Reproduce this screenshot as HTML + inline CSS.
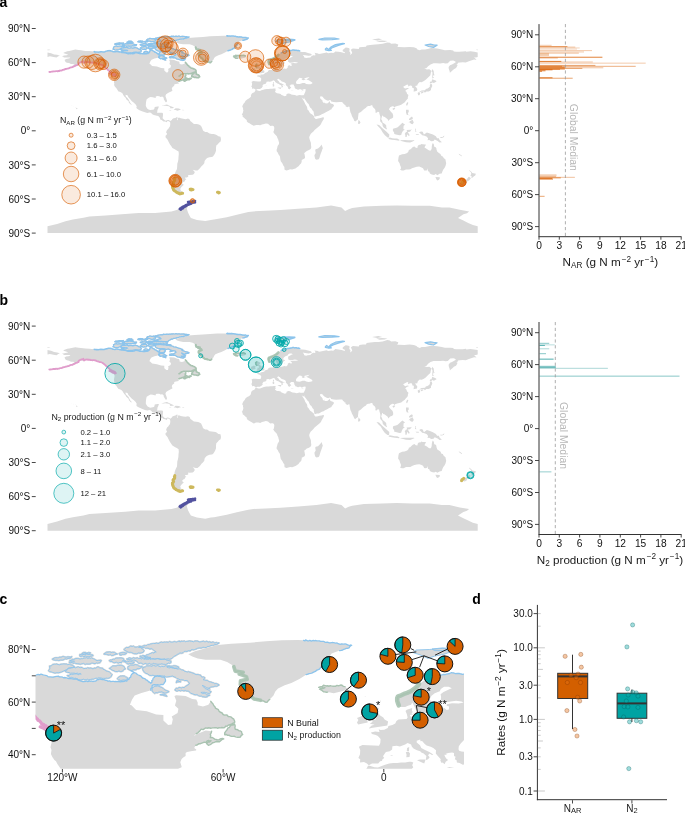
<!DOCTYPE html><html><head><meta charset="utf-8"><style>html,body{margin:0;padding:0;background:#fff;}svg{display:block;-webkit-font-smoothing:antialiased;will-change:transform}</style></head><body><svg width="685" height="813" viewBox="0 0 685 813"><rect width="685" height="813" fill="#fff"/><text x="-0.5" y="7.0" font-size="14.00" text-anchor="start" fill="#000" font-weight="bold" font-family="Liberation Sans, sans-serif" >a</text><text x="-0.5" y="305.4" font-size="14.00" text-anchor="start" fill="#000" font-weight="bold" font-family="Liberation Sans, sans-serif" >b</text><text x="-0.5" y="603.6" font-size="14.00" text-anchor="start" fill="#000" font-weight="bold" font-family="Liberation Sans, sans-serif" >c</text><text x="472.3" y="603.8" font-size="14.00" text-anchor="start" fill="#000" font-weight="bold" font-family="Liberation Sans, sans-serif" >d</text><path d="M61.9,56.2L64.3,55.6L66.7,55.2L68.3,54.8L66.1,54.0L63.3,53.1L64.0,52.5L67.3,51.2L69.2,50.9L75.3,49.6L78.6,50.1L81.0,50.3L85.2,50.9L89.4,51.1L94.2,51.6L97.7,52.1L101.3,51.8L104.9,51.7L109.7,50.6L113.3,51.7L116.9,51.5L121.6,52.4L125.2,52.6L128.8,53.7L133.6,53.5L136.0,52.6L140.8,53.7L145.5,53.7L147.9,53.5L149.7,51.8L150.9,49.5L149.7,49.0L152.7,50.7L156.3,52.6L158.7,54.4L160.5,51.5L164.7,51.7L165.2,53.5L164.1,55.1L159.6,55.2L158.7,57.5L156.9,58.1L154.5,58.6L151.5,59.8L150.3,61.5L149.4,63.7L150.1,64.0L152.1,66.0L156.9,66.6L161.1,67.9L164.3,68.2L164.3,70.6L166.4,72.5L168.0,72.3L168.5,70.0L168.0,68.9L170.6,67.4L171.0,65.4L169.4,64.1L170.0,62.0L169.2,60.0L170.0,59.6L174.2,60.0L177.2,61.2L179.0,61.5L179.6,62.8L179.6,64.0L182.0,64.5L184.4,63.7L185.4,62.3L186.8,64.1L189.1,66.6L190.9,67.9L193.9,68.9L195.7,70.0L196.1,71.5L193.9,72.4L190.9,73.7L186.2,73.7L183.2,73.7L180.8,74.8L179.0,76.2L177.8,77.4L179.6,76.2L183.2,74.9L185.8,75.2L185.2,76.6L185.2,77.9L186.8,78.3L189.1,78.9L190.7,78.3L191.2,78.5L189.7,79.4L186.8,80.1L184.4,81.2L183.5,80.4L185.6,79.3L183.8,79.4L182.3,80.0L180.8,80.6L178.8,81.2L178.0,82.4L179.0,83.1L178.9,83.5L177.2,83.7L174.8,84.2L174.2,84.7L174.2,85.9L173.1,86.6L172.4,87.2L171.8,88.6L172.4,90.4L172.4,90.8L171.2,91.4L169.4,92.3L168.0,93.1L166.1,94.3L165.4,96.1L166.3,98.4L167.0,100.7L166.7,102.0L165.7,102.2L164.9,101.0L163.8,99.2L163.7,97.8L162.3,96.6L160.5,96.9L159.3,96.2L157.5,96.1L155.7,96.5L156.0,97.7L154.5,97.7L152.7,97.2L150.6,97.0L149.1,97.6L146.7,99.2L146.2,101.2L145.9,103.5L145.8,105.8L146.4,107.2L147.6,109.0L149.1,109.7L150.3,110.1L152.7,109.7L153.9,109.4L154.5,108.3L154.7,106.9L157.5,106.4L158.9,106.5L158.2,108.6L157.5,109.8L157.2,112.3L156.8,112.8L159.3,112.8L162.3,112.8L163.1,113.8L162.9,116.0L162.6,118.3L164.7,120.3L165.8,120.7L167.3,120.0L168.8,120.1L170.3,121.1L170.1,122.2L169.2,121.5L167.6,120.7L166.8,122.3L165.2,121.6L163.5,121.4L161.7,119.9L160.2,119.4L160.0,118.0L158.3,116.1L156.9,115.7L153.9,115.0L152.3,114.3L150.9,112.8L149.4,112.4L147.3,113.0L144.9,112.3L141.9,111.2L139.0,110.0L136.8,108.6L136.3,107.5L136.8,106.4L135.7,104.4L133.6,102.4L131.9,101.2L130.0,99.1L128.4,97.3L127.5,95.3L125.5,94.8L125.8,96.6L127.4,98.1L128.6,99.5L129.4,101.2L130.5,103.2L131.8,104.4L131.1,104.8L128.9,102.7L128.6,101.2L126.2,99.2L125.8,98.1L124.3,96.4L123.1,94.7L122.6,93.6L121.3,92.4L119.8,91.7L118.5,91.5L117.0,89.3L116.4,88.2L115.7,87.6L114.8,86.5L114.1,85.0L114.3,83.3L113.9,82.2L114.3,80.2L114.6,78.3L114.2,76.8L113.6,75.8L115.5,76.0L115.9,75.1L115.4,74.8L113.9,73.7L111.5,72.8L109.9,71.9L109.1,70.8L107.3,69.2L106.7,68.5L105.5,67.7L103.7,66.2L101.9,64.9L99.5,64.3L98.0,63.7L95.9,62.9L93.6,62.6L91.2,62.6L88.2,61.9L85.8,62.0L84.0,62.9L81.4,63.5L81.7,61.8L83.4,61.2L80.6,62.3L78.6,63.3L78.6,64.4L76.2,65.3L73.8,66.5L71.7,67.3L69.7,67.9L67.9,68.5L65.7,69.0L67.3,68.2L69.3,67.3L71.4,66.7L73.4,65.7L74.4,64.4L72.8,64.1L70.9,64.1L69.1,63.1L66.9,62.7L65.5,61.9L65.1,61.1L64.5,59.9L66.1,59.0L68.5,58.6L70.3,57.9L70.0,57.5L67.9,57.4L65.6,57.5L63.9,57.4L63.3,56.7ZM115.3,75.8L113.3,75.3L109.3,73.3L110.3,72.9L113.3,73.7L114.7,74.8ZM191.7,75.9L192.7,74.5L194.5,72.5L196.1,72.1L196.3,74.3L198.7,75.1L199.7,76.7L198.7,77.7L196.0,77.4L191.7,76.7ZM161.2,105.9L164.7,105.0L167.0,104.5L170.0,106.0L172.2,106.8L174.1,107.8L172.4,108.2L169.8,108.3L170.4,107.3L168.8,106.2L165.2,105.7L163.5,105.8ZM173.7,109.9L175.6,108.2L179.0,108.4L181.0,109.7L179.6,109.9L177.4,110.7L175.5,110.0ZM169.1,109.9L171.5,110.1L170.9,110.5L169.7,110.5ZM182.3,109.8L184.2,109.9L184.1,110.3L182.3,110.3ZM175.4,41.9L178.4,40.7L183.2,39.3L188.5,37.9L194.5,37.4L202.9,36.9L210.1,36.3L217.2,35.9L224.4,35.8L231.6,36.1L237.5,36.7L243.5,37.5L248.3,38.0L247.1,39.2L242.9,40.3L239.3,41.6L238.1,43.3L236.9,45.0L235.7,46.3L234.0,48.4L230.4,50.1L228.0,50.8L225.0,52.6L221.4,54.3L218.4,55.3L215.4,56.7L214.2,58.1L213.4,59.8L211.7,61.5L210.7,62.6L209.5,62.5L207.7,61.8L204.7,61.2L203.2,60.0L202.3,58.6L200.9,57.7L199.7,56.3L198.6,55.1L198.7,53.4L201.7,52.7L201.3,51.6L198.1,50.4L199.9,49.8L196.3,49.2L195.7,47.9L195.1,46.7L192.7,45.2L189.7,44.3L183.2,44.3L179.6,43.7L177.2,42.9ZM170.1,122.2L170.3,121.1L171.8,120.0L172.4,118.9L173.6,118.3L175.4,118.0L176.6,117.2L177.2,116.7L177.6,118.3L176.8,118.8L177.1,120.3L177.8,120.0L177.6,118.5L178.8,117.6L180.8,118.3L183.2,118.8L185.6,119.2L188.0,118.6L189.7,119.4L190.3,121.1L191.9,122.3L193.9,124.0L196.3,124.1L198.1,124.3L199.9,125.1L201.1,125.9L202.3,128.5L202.9,130.2L203.5,131.0L205.3,131.9L207.1,131.9L209.5,133.6L211.8,134.0L213.6,134.1L215.4,134.4L216.6,135.0L218.4,136.3L220.5,136.7L221.0,139.3L220.6,141.6L219.0,142.7L217.8,144.2L216.3,145.6L216.0,147.9L216.0,150.7L215.2,153.0L214.2,154.7L213.0,156.4L211.8,156.9L209.5,157.2L207.1,158.1L205.9,159.2L204.6,160.9L204.3,163.2L202.9,164.9L201.7,166.0L199.9,168.3L198.7,169.4L197.5,170.4L195.7,170.5L193.9,169.9L192.7,169.7L194.2,171.2L194.8,172.3L193.9,174.0L192.7,174.8L189.7,175.1L188.2,174.9L188.2,176.8L186.8,177.5L185.0,177.4L185.6,178.9L186.4,179.2L185.2,179.9L184.6,181.4L183.2,182.0L182.0,183.4L183.8,184.8L182.6,185.9L181.4,187.1L180.8,188.0L180.2,189.1L180.9,190.4L179.6,190.6L180.7,191.0L181.1,192.5L182.6,193.2L180.8,193.7L179.0,193.5L177.2,192.7L175.4,191.3L173.6,189.9L172.7,187.6L172.4,185.4L173.6,184.0L173.0,182.5L174.4,180.8L174.4,179.1L174.8,178.0L174.4,175.7L174.8,173.8L175.8,171.2L177.0,168.9L177.2,166.0L177.3,163.8L178.0,161.5L178.4,159.2L178.5,156.9L178.8,154.1L178.6,151.6L177.2,150.7L174.8,149.3L172.4,147.9L171.2,146.1L170.0,144.4L168.8,142.2L167.6,139.7L166.4,138.2L165.6,137.5L165.5,135.7L166.7,134.7L167.0,133.6L166.1,132.5L166.4,131.4L167.0,129.9L168.2,128.9L168.8,128.0L170.0,126.3L170.3,124.0ZM180.7,190.6L182.0,191.6L184.6,193.1L182.6,193.7L179.6,193.8L176.6,192.7L178.4,191.6ZM190.2,189.2L192.7,189.2L193.3,189.7L191.9,190.0L190.3,189.9ZM255.9,89.9L255.1,89.2L253.8,88.5L252.0,88.7L252.1,87.3L251.3,86.7L252.0,85.1L252.1,83.3L251.5,81.9L253.1,81.1L255.5,81.2L258.1,81.4L260.5,81.5L261.1,80.2L261.2,78.5L260.0,77.3L259.0,76.8L257.4,76.4L256.9,75.8L258.8,75.3L260.7,75.6L260.4,74.3L261.2,74.6L262.9,74.5L264.4,73.9L264.7,72.9L266.5,72.5L267.8,71.8L268.2,70.8L269.2,70.1L271.0,70.0L272.8,69.9L273.3,69.2L272.9,67.7L272.3,66.5L272.9,65.9L275.3,65.2L275.2,66.6L275.7,66.8L274.8,67.7L274.2,68.3L274.6,68.9L275.8,69.4L277.6,69.0L279.6,69.5L281.8,69.1L284.7,68.5L286.1,69.0L287.8,67.5L287.7,66.2L288.4,65.6L289.6,65.2L290.7,66.0L291.7,65.8L291.8,64.5L290.7,64.2L290.7,63.5L293.1,63.1L296.1,63.2L298.2,62.7L297.3,62.4L294.9,62.0L292.5,62.4L290.0,62.7L288.1,61.7L288.2,60.4L288.0,59.2L289.3,58.3L291.9,57.0L293.0,56.6L291.5,56.0L289.5,56.0L288.1,56.9L287.6,57.9L285.3,58.7L283.9,59.9L283.3,60.9L283.2,61.8L284.7,62.4L285.2,62.9L283.5,64.0L282.3,65.4L282.1,66.4L281.5,67.0L279.7,67.6L278.0,67.8L277.4,66.9L276.7,65.3L275.9,63.7L275.3,62.7L274.8,63.7L273.4,64.2L272.2,64.8L270.5,64.8L269.3,64.1L269.0,63.2L268.6,62.0L268.6,60.8L269.0,60.1L270.4,59.6L271.6,59.1L273.0,58.6L274.6,57.9L276.0,57.0L277.3,56.0L278.4,54.8L280.2,53.6L281.2,52.9L282.8,52.3L284.5,51.5L286.3,51.1L288.4,50.9L290.7,50.4L293.5,50.0L295.5,50.2L297.3,50.4L299.7,50.9L298.7,51.6L302.1,51.9L305.1,52.1L308.0,52.9L310.8,53.7L312.0,54.9L310.7,55.4L308.6,55.8L305.1,55.3L302.7,55.0L303.9,56.3L304.2,57.6L306.2,58.1L307.6,57.7L310.4,57.4L311.1,56.5L313.1,55.2L315.2,55.4L315.4,54.1L314.4,52.8L318.1,53.5L318.8,54.1L320.6,53.8L323.0,53.3L326.6,52.6L328.1,53.3L331.3,52.8L333.1,53.1L334.3,52.4L335.3,51.5L338.5,51.8L341.5,52.3L343.3,52.8L344.5,53.3L345.1,52.4L342.7,51.2L342.7,49.9L344.5,48.4L345.7,47.6L347.5,47.8L349.3,48.3L349.6,49.5L349.3,51.2L350.5,52.9L350.1,54.9L351.7,53.7L352.2,52.9L351.7,51.5L350.8,49.8L352.8,48.5L355.8,48.7L358.8,49.0L359.4,47.3L363.0,46.9L366.0,46.8L366.6,45.6L370.2,44.9L375.0,44.4L378.5,44.3L382.7,43.8L387.3,42.5L389.9,42.8L391.1,43.8L395.3,43.6L398.3,44.6L397.7,46.7L396.5,47.1L398.9,47.1L404.2,47.3L409.6,47.0L413.8,47.3L416.5,48.3L417.4,49.5L419.8,50.3L421.6,49.5L425.1,49.4L428.7,48.7L431.1,48.1L437.1,48.6L441.9,49.5L444.9,50.2L450.2,50.1L453.2,50.4L453.8,51.5L456.2,51.7L459.2,51.7L462.8,51.6L465.8,51.2L466.4,51.8L470.5,51.3L474.1,51.8L477.7,52.5L477.7,56.9L475.9,57.4L474.1,57.3L475.3,58.6L476.5,59.9L474.1,59.6L471.1,60.6L468.2,61.6L465.8,62.6L462.8,62.3L459.8,62.6L458.0,62.8L457.4,64.3L456.2,65.1L457.6,65.1L456.8,66.8L456.0,68.1L453.9,69.2L452.4,70.6L450.8,71.9L449.9,72.8L449.6,71.1L448.8,68.9L448.6,67.1L450.0,65.2L452.0,64.5L454.2,63.2L456.0,62.1L454.4,60.9L453.2,60.6L450.2,60.8L447.8,63.3L445.5,63.6L443.1,63.1L440.1,63.4L436.5,63.3L433.5,63.3L430.5,64.5L428.1,66.2L426.3,68.3L424.2,68.6L426.9,69.4L429.3,69.2L431.6,71.0L430.8,72.8L430.4,75.3L428.1,77.4L425.7,79.8L423.9,81.1L421.6,82.2L419.8,81.9L418.8,82.7L417.6,84.2L417.3,85.6L415.0,85.9L416.2,87.3L417.3,89.0L417.0,90.8L414.4,91.5L413.5,91.6L413.8,90.1L413.9,88.2L412.4,87.9L412.2,86.7L411.6,85.7L410.2,85.6L407.9,86.6L408.3,84.9L407.2,84.4L405.4,85.4L403.6,86.4L403.2,86.9L404.6,88.2L405.4,88.6L407.2,87.9L409.1,88.3L407.8,89.0L406.4,89.7L405.2,91.0L406.4,91.8L407.1,93.9L408.3,94.8L408.3,95.8L407.8,97.3L407.9,98.4L406.7,99.8L405.5,101.2L404.8,102.2L403.0,103.5L401.2,104.8L399.1,105.5L397.1,106.0L395.0,106.7L394.4,107.7L393.8,106.5L392.3,106.2L390.2,107.3L388.9,109.2L389.9,110.6L391.1,112.0L392.6,113.4L393.2,115.5L393.1,117.5L391.7,118.5L390.2,119.0L388.2,121.0L387.9,119.7L387.4,118.9L385.7,117.7L384.9,116.9L383.2,116.4L382.8,115.5L382.1,115.7L381.2,119.2L382.0,120.3L382.6,122.5L383.3,123.0L384.6,123.8L386.2,125.3L386.3,127.6L387.1,129.2L386.3,129.3L385.1,128.5L383.7,127.5L382.7,126.0L382.5,124.5L382.2,123.5L381.8,123.1L380.3,121.4L380.1,120.0L380.4,118.3L380.3,116.6L379.4,113.8L379.1,112.0L377.7,111.7L376.6,112.8L375.3,112.6L375.6,110.9L375.2,109.4L374.4,108.5L373.0,107.3L372.6,106.4L372.3,105.3L370.9,105.3L370.2,105.9L369.0,106.1L368.0,106.1L366.5,106.9L366.0,107.8L364.2,108.9L363.0,110.0L360.9,111.9L359.4,112.8L358.6,113.2L358.3,115.6L358.0,117.7L358.1,119.1L357.0,120.2L356.1,120.7L355.2,121.6L354.2,120.7L353.6,119.1L352.7,117.4L351.9,116.0L351.3,114.1L350.5,112.6L349.9,109.8L349.6,108.3L349.6,106.9L348.9,106.6L347.2,107.3L345.3,105.9L345.9,105.2L344.7,104.9L344.1,104.0L343.2,103.5L342.5,102.5L342.2,101.9L339.7,102.0L336.2,102.2L333.7,101.9L331.2,101.5L330.5,100.1L329.8,99.9L328.1,100.7L326.6,100.2L324.8,99.2L323.5,98.1L322.7,96.8L321.8,96.6L321.1,96.2L320.0,96.8L320.3,98.4L321.4,99.4L322.5,100.6L322.6,101.7L323.3,102.6L323.9,103.0L324.3,101.4L324.3,103.1L325.4,103.3L327.2,103.4L328.6,102.4L329.5,101.5L330.0,100.9L329.9,102.0L330.1,103.0L331.3,103.7L332.8,104.1L334.1,105.2L333.5,106.5L332.5,107.6L331.7,108.4L331.6,109.3L330.3,109.8L328.8,110.7L327.2,111.6L325.0,112.7L323.6,113.6L321.8,114.2L320.6,114.9L318.8,115.8L317.0,116.0L315.4,116.5L314.6,116.4L314.3,115.5L313.8,113.5L313.7,111.7L312.6,110.6L311.4,108.5L310.1,107.5L309.4,106.0L308.6,104.0L307.4,103.0L306.2,101.2L305.2,99.8L304.2,98.6L304.3,97.3L303.6,99.0L302.5,98.3L301.6,96.8L301.2,95.2L303.5,95.2L304.0,94.7L304.5,93.4L305.1,92.3L305.5,91.0L305.6,90.0L305.9,89.2L305.1,89.2L304.0,89.0L302.8,89.7L301.5,89.8L300.0,89.0L299.1,89.4L297.9,89.7L296.4,89.0L295.3,88.7L295.1,87.7L294.3,87.3L294.7,86.2L293.9,85.9L293.9,85.2L293.9,84.7L293.1,84.4L291.3,84.5L290.1,85.0L291.0,85.4L289.6,85.3L290.0,86.2L290.5,87.0L291.3,87.6L290.2,88.4L289.8,89.4L288.9,88.7L288.4,89.0L287.8,87.8L288.1,87.3L287.4,86.6L286.5,85.7L285.8,84.9L285.9,83.4L284.7,82.5L283.5,81.9L281.8,81.4L280.8,80.6L279.7,79.4L279.0,79.5L278.9,78.7L277.3,79.3L277.3,80.1L278.8,81.2L279.4,82.4L280.8,83.2L281.8,83.6L282.9,84.2L284.7,85.2L284.1,85.4L283.1,84.8L282.3,85.6L283.1,86.5L282.5,87.2L281.8,87.6L281.4,87.4L281.6,85.9L281.0,85.3L280.4,84.9L279.4,84.4L278.9,83.9L277.4,83.4L275.9,82.6L275.2,81.9L274.8,80.9L273.3,80.3L272.2,80.9L271.0,81.4L269.8,81.8L268.4,81.5L266.5,81.7L266.3,83.1L265.3,83.9L263.6,84.2L262.6,85.4L262.3,86.0L262.9,86.8L262.0,87.3L261.8,88.1L261.0,88.2L260.1,89.1L257.4,89.1ZM47.5,52.5L51.1,53.2L54.1,54.5L57.1,54.8L59.9,55.7L58.3,56.3L56.5,57.6L53.5,57.1L49.9,56.3L47.5,56.9ZM256.3,90.1L258.4,90.8L260.0,90.9L261.4,90.3L263.2,89.7L265.0,89.2L266.8,89.0L268.6,89.0L270.4,88.7L272.2,88.7L274.0,88.4L274.8,88.4L275.8,88.7L275.3,89.9L275.8,90.8L274.8,91.8L275.8,92.6L277.0,93.3L278.8,93.5L280.7,94.0L281.2,94.7L282.9,95.4L284.7,96.2L286.3,95.7L286.6,94.1L288.3,93.4L290.1,93.7L291.3,94.4L292.5,94.8L294.9,95.1L296.7,95.7L298.5,95.2L299.7,95.0L301.2,95.3L301.6,96.8L302.3,98.7L303.1,99.8L304.0,101.2L304.8,103.0L305.2,104.1L306.2,105.6L306.8,106.4L307.2,107.5L307.4,109.4L308.6,110.6L309.5,112.2L310.2,113.2L311.4,113.9L312.6,114.8L313.5,115.7L314.4,116.7L313.7,117.4L314.4,117.6L315.2,118.8L316.4,118.9L318.0,118.6L319.4,118.2L321.5,117.8L323.0,117.3L323.9,117.4L323.8,118.9L323.0,120.3L321.8,122.3L320.9,124.3L319.7,125.7L318.2,127.0L316.4,128.5L314.6,129.9L313.4,131.4L312.2,132.6L310.8,133.8L310.2,135.0L309.5,136.3L309.2,137.6L309.6,139.3L310.2,141.0L310.9,142.7L311.0,145.0L311.3,147.3L310.7,149.0L309.0,150.1L306.8,150.9L305.5,152.1L304.1,153.2L304.5,154.1L304.8,155.8L305.1,157.5L304.5,158.6L302.7,159.6L301.6,160.1L301.8,160.9L301.2,163.3L299.7,164.7L298.5,166.3L296.7,167.6L295.5,168.5L293.5,169.1L292.3,169.6L290.1,169.3L288.3,169.9L286.5,170.4L285.9,170.2L284.6,169.7L284.4,168.3L284.4,166.9L283.3,165.5L282.3,163.3L280.8,161.3L280.3,159.2L280.0,156.8L279.7,155.9L278.6,154.4L277.7,152.4L276.7,151.3L276.6,149.8L277.2,147.9L277.6,146.1L279.0,143.9L279.1,142.7L278.5,140.8L278.3,139.7L277.3,137.7L277.0,136.5L275.9,135.2L274.6,133.9L273.1,131.7L273.7,131.4L274.1,129.7L274.3,128.0L274.0,126.5L272.8,125.7L271.7,125.7L270.4,125.9L269.3,125.1L268.0,123.8L265.9,123.5L264.1,123.9L262.0,124.5L260.2,125.3L258.4,125.0L256.1,125.0L253.7,125.8L251.3,124.5L249.5,123.3L247.9,122.5L246.9,121.4L246.7,120.0L245.3,118.9L244.1,117.7L242.6,116.7L242.7,115.5L241.7,114.1L242.2,113.9L242.9,112.4L243.4,110.3L242.9,109.0L243.2,108.1L242.3,106.9L242.4,105.9L243.5,103.7L244.7,102.4L245.4,100.9L247.1,99.4L248.9,98.6L250.1,97.6L251.0,96.5L250.9,95.6L251.5,93.9L252.5,92.9L254.4,92.2L255.1,91.0L255.6,90.1ZM321.5,144.4L322.9,148.3L322.4,149.0L321.9,150.7L320.6,154.1L319.4,158.1L318.7,159.3L316.6,159.8L315.2,159.0L314.7,156.9L314.4,155.2L315.7,153.0L315.2,150.1L315.7,149.2L318.0,148.6L319.7,146.9L320.6,145.9ZM399.0,155.6L402.1,154.2L404.6,153.9L407.2,153.0L408.6,151.3L408.8,150.1L410.2,149.6L411.4,148.4L412.8,147.1L414.4,146.5L415.8,147.7L417.4,147.9L417.7,146.1L418.7,144.9L421.1,144.6L421.1,143.9L422.7,144.3L425.0,144.4L426.2,144.8L425.1,146.1L424.5,147.6L426.9,149.0L429.1,150.6L430.9,150.6L431.7,148.4L431.8,146.1L432.3,143.9L432.9,143.0L433.9,144.4L434.2,146.7L435.3,146.9L436.3,147.9L436.5,149.6L437.3,151.8L438.9,153.0L440.4,153.9L441.5,156.1L442.8,156.5L443.7,158.1L445.5,159.6L445.7,160.9L446.2,163.2L445.5,166.0L444.5,168.0L443.3,169.4L442.5,171.2L441.7,173.4L439.5,173.8L437.4,175.2L435.7,174.1L434.1,174.9L431.7,174.4L429.9,173.5L429.3,171.7L428.1,171.3L427.6,169.7L427.4,168.3L426.8,170.4L425.1,170.6L424.2,170.4L423.0,168.2L421.0,167.2L419.2,166.6L416.8,166.8L414.4,167.5L412.0,168.3L410.3,169.3L408.4,169.4L406.0,169.4L403.6,170.6L401.8,170.6L400.0,169.8L400.9,168.7L400.9,166.9L400.0,164.9L399.6,163.2L398.1,160.9L398.3,159.2L398.5,157.5ZM435.4,177.1L439.8,177.3L439.7,178.8L438.6,180.0L437.1,180.4L436.1,178.8ZM469.0,169.9L471.1,171.5L472.3,172.9L475.9,173.7L475.2,175.4L474.0,176.3L472.0,178.1L471.3,177.6L471.7,176.3L470.3,175.5L471.3,174.0L470.9,172.3L469.3,170.8ZM469.0,176.8L470.9,178.2L469.7,179.7L469.0,180.6L467.2,181.4L466.6,183.0L464.9,183.8L461.6,183.1L461.9,182.2L463.7,180.8L466.4,179.7L467.6,178.3L468.3,177.2ZM47.5,226.3L57.1,224.0L65.5,221.2L72.9,219.6L83.4,217.8L89.4,216.4L105.7,215.4L125.2,214.1L138.6,213.0L155.1,213.0L171.5,211.4L176.6,210.1L180.8,208.1L184.4,206.0L188.5,204.2L192.7,203.0L190.3,204.2L188.0,206.0L186.8,208.7L188.0,212.6L189.7,216.1L190.9,218.0L196.9,220.0L205.3,221.1L210.8,220.0L214.0,219.6L226.8,217.2L236.9,214.7L248.3,212.1L253.4,211.4L265.4,210.8L280.6,210.1L298.2,208.8L316.4,207.5L331.1,205.5L341.5,207.5L345.1,210.9L348.7,209.2L352.2,208.1L364.0,206.5L382.1,205.8L396.7,205.5L412.0,205.8L429.7,205.8L441.9,207.5L449.4,207.5L459.8,209.8L469.1,211.4L467.0,213.2L463.4,214.3L458.0,218.0L463.4,220.6L468.2,222.9L472.9,225.1L477.7,226.3L477.7,233.1L47.5,233.1ZM257.3,72.7L258.6,72.4L256.4,71.9L257.6,71.1L257.3,70.2L259.0,70.1L258.8,69.2L258.6,68.4L256.9,68.5L256.7,67.7L255.9,66.8L255.7,65.1L256.7,64.2L258.8,64.2L260.5,65.4L259.0,67.1L260.2,67.3L260.8,68.3L262.4,69.2L263.0,70.1L264.5,71.0L264.2,72.7L261.4,73.2L258.4,73.6L255.8,74.0ZM255.2,69.5L255.5,71.5L254.3,71.6L251.2,72.3L250.7,71.5L251.3,70.3L250.7,69.4L252.6,68.7L253.9,67.9L255.9,68.9ZM235.7,58.2L234.0,57.0L236.3,56.3L233.6,56.2L235.7,55.3L240.5,55.7L243.5,55.2L245.3,55.9L246.4,56.8L244.8,57.7L240.3,58.7L237.5,58.3ZM277.0,40.1L282.9,39.9L288.9,39.4L294.9,40.1L289.5,41.9L285.3,42.7L282.3,43.7L278.8,42.1L275.8,41.2ZM284.1,39.6L288.9,39.2L294.9,39.6L291.3,40.3L285.3,40.3ZM325.4,49.8L328.9,50.6L331.3,50.4L329.5,48.4L331.3,46.7L335.5,44.6L342.7,43.4L344.5,43.7L339.1,45.2L333.1,47.3L330.7,48.7L328.9,49.4L326.6,47.9L325.4,49.0ZM376.1,41.0L382.1,40.4L387.5,41.0L384.5,41.9L379.7,42.1ZM372.0,39.5L378.5,38.5L382.1,39.3L377.3,40.4ZM425.1,45.0L430.5,44.2L433.5,44.8L437.1,45.2L433.5,47.4L428.7,46.5ZM47.5,49.4L50.5,49.8L49.3,50.2L47.5,50.2ZM476.5,49.5L477.7,49.4L477.7,50.2L476.3,50.1ZM318.8,39.3L324.8,38.0L334.3,38.2L339.1,39.0L331.9,39.6L322.4,39.9ZM432.3,69.1L433.7,70.9L434.0,74.5L435.3,75.2L433.7,74.9L432.9,76.8L434.1,77.8L432.3,78.5L432.3,76.2L432.5,72.8L431.8,71.1ZM429.8,82.6L430.4,81.6L431.5,81.7L431.8,80.6L432.3,79.2L436.1,80.8L436.5,81.6L433.9,83.1L432.3,82.4L431.4,83.3L429.9,83.6ZM419.8,91.5L421.6,90.4L425.1,90.2L426.1,88.4L426.7,88.9L428.7,87.7L429.9,86.5L429.8,85.3L430.4,84.0L431.7,83.9L432.3,85.9L431.7,87.3L431.0,88.7L431.0,90.1L429.7,91.0L428.5,91.5L426.3,91.5L424.9,92.7L423.9,91.5L421.0,91.7L419.0,92.2ZM418.4,92.3L419.8,92.6L420.2,93.9L419.2,95.3L418.2,95.2L417.6,93.1ZM421.1,92.2L423.1,91.8L423.6,92.4L421.6,93.6L420.6,93.1ZM406.7,103.0L407.9,102.0L408.3,103.0L407.0,105.9L406.1,104.7ZM393.0,108.2L394.7,108.0L395.3,108.5L393.7,110.1L392.4,109.0ZM406.0,109.8L408.6,109.8L408.8,112.0L407.8,113.0L408.4,114.9L410.8,116.0L409.0,115.1L406.7,114.7L406.0,112.6ZM408.4,122.8L410.2,121.0L412.6,119.7L413.8,122.5L412.6,124.2L411.0,123.8L409.6,122.3ZM409.0,118.9L410.2,117.7L412.0,116.6L413.0,118.3L412.0,119.4L410.2,120.0L409.0,120.0ZM376.5,124.4L379.1,124.9L382.5,128.3L386.5,131.8L389.3,134.4L389.1,137.4L387.5,137.5L384.9,135.3L382.7,132.5L380.7,128.9L378.5,126.8ZM388.3,138.5L389.9,137.6L392.3,138.2L394.7,138.6L397.1,138.6L399.4,139.7L399.2,140.7L394.7,140.1L391.7,139.7L389.3,139.2ZM400.0,140.3L404.8,140.1L408.4,140.2L411.4,140.2L414.4,140.2L412.0,141.5L410.2,142.5L406.0,142.2L401.2,141.0ZM392.9,129.1L393.6,128.5L395.9,128.0L397.7,127.2L400.6,124.5L402.4,122.8L405.1,124.8L403.6,125.7L403.4,129.1L404.8,129.8L403.0,130.8L401.8,133.1L401.2,135.1L399.4,135.3L395.9,134.4L394.3,134.1L394.1,132.5L392.9,130.8ZM405.3,134.8L404.7,133.9L406.0,131.9L407.2,131.8L406.6,130.0L411.0,129.7L412.0,129.1L410.0,131.7L407.8,131.9L409.6,134.9L409.0,136.3L407.2,134.2L406.6,137.1L405.4,137.1ZM415.0,128.5L416.2,129.1L415.6,130.2L416.5,131.7L415.0,131.4L415.3,129.7ZM419.2,132.3L421.0,131.4L422.7,131.8L423.9,134.6L426.9,132.5L429.9,133.5L432.9,134.6L435.9,136.3L437.1,138.2L438.9,138.2L439.5,139.9L441.9,142.2L439.5,142.5L437.7,141.0L434.7,139.6L433.5,141.1L431.1,141.3L429.3,140.1L427.5,140.3L428.1,138.5L426.9,136.7L424.5,135.7L422.2,135.2L421.0,134.0L419.2,132.5ZM440.1,137.1L442.5,137.1L444.3,135.6L444.0,137.1L441.9,138.0L440.1,137.6ZM358.0,123.8L358.5,119.7L359.7,121.1L360.5,122.5L359.4,124.0ZM415.6,134.2L418.6,134.2L418.9,135.1L416.2,134.9ZM410.8,142.2L412.6,140.5L414.7,140.3L412.6,141.4ZM458.6,153.8L459.8,154.2L462.2,156.0L461.6,156.3L459.2,154.7ZM61.6,69.9L63.7,69.2L64.0,69.5L61.3,70.2ZM272.8,85.3L272.4,84.3L273.6,84.0L274.3,84.8L274.1,86.4L272.7,86.5ZM273.0,82.4L274.0,82.0L273.9,83.7L272.9,83.7ZM278.8,87.4L281.3,87.4L280.7,89.1L277.4,87.7ZM290.7,90.7L294.1,90.8L291.9,91.1ZM302.1,90.6L304.0,90.3L301.2,91.4ZM266.2,85.4L266.8,85.7L265.4,85.9ZM276.0,67.4L277.3,67.0L277.7,67.6L275.8,68.1ZM274.5,67.6L275.3,67.6L275.5,68.2L274.3,67.9ZM285.0,65.0L285.2,65.6L284.3,66.0ZM261.0,62.0L261.4,61.9L261.0,62.7ZM254.3,60.0L254.7,60.0L254.0,60.3ZM76.3,107.8L77.7,108.6L76.6,109.3L76.1,108.4ZM75.4,107.0L76.2,107.3L75.7,107.4ZM73.5,106.2L74.2,106.6L73.7,106.6ZM71.7,105.6L72.3,105.7L71.9,105.9Z" fill="#d9d9d9"/><path d="M155.1,47.6L155.6,47.5L156.4,47.4L156.9,46.9L157.5,47.0L157.8,46.9L158.4,46.9L159.0,47.1L159.8,46.8L160.5,46.9L160.9,47.1L161.7,46.8L162.3,47.1L163.1,47.3L163.5,47.1L164.2,47.2L164.5,47.3L165.1,46.9L165.7,47.0L166.4,47.0L167.1,47.3L167.7,47.7L168.0,47.8L168.9,47.9L169.4,48.1L169.9,48.1L170.6,48.3L171.4,48.2L171.8,48.4L172.3,48.6L173.0,48.7L173.6,49.2L174.3,49.4L175.1,49.6L175.4,49.4L175.8,49.6L176.6,49.8L177.0,49.9L177.9,50.2L178.4,50.6L179.2,50.7L179.7,50.7L180.2,50.8L180.8,50.9L181.4,51.8L182.3,51.7L182.8,52.1L182.0,52.9L182.6,53.0L182.9,53.2L183.8,53.2L184.4,53.6L185.1,53.9L185.5,53.9L185.9,54.2L186.8,54.3L187.2,54.7L187.7,54.5L188.5,54.9L189.1,55.2L188.4,55.6L188.0,55.8L187.3,55.7L186.5,56.0L186.2,56.0L185.4,56.1L184.6,56.6L185.0,57.0L184.5,56.5L183.7,56.5L183.2,56.1L182.3,55.6L181.6,55.4L182.3,56.1L182.6,56.3L183.0,56.8L183.6,57.0L184.4,57.4L185.0,57.8L185.6,58.1L185.0,58.8L184.1,58.8L183.7,58.6L183.2,58.5L182.7,58.4L181.7,58.4L181.0,58.4L181.7,58.9L182.5,58.8L183.1,59.0L183.5,59.4L184.2,59.6L185.0,59.6L184.2,59.9L183.8,60.3L182.9,60.5L182.4,60.3L181.9,60.3L181.4,60.0L180.5,60.0L180.0,59.8L179.3,59.4L179.0,59.4L178.5,59.4L177.7,59.2L177.2,59.0L176.5,58.8L176.0,58.3L175.6,57.8L174.8,57.8L174.2,57.6L173.4,57.8L172.9,57.6L172.4,57.5L172.0,57.8L171.0,57.5L170.6,57.8L170.0,57.8L169.4,57.4L170.0,56.6L170.6,56.8L171.2,56.3L172.0,56.4L172.3,56.5L172.8,56.3L173.6,56.3L174.2,55.8L174.8,55.4L175.3,55.2L176.0,54.6L175.4,53.7L175.0,53.3L174.4,53.3L173.6,53.3L173.2,53.0L172.3,52.9L171.7,53.0L171.2,52.6L170.4,52.4L169.9,52.0L169.4,51.8L169.1,51.7L168.5,51.3L167.6,51.5L167.3,51.6L166.3,51.7L165.7,51.7L165.2,51.6L164.7,51.3L164.2,51.4L163.5,51.2L162.9,51.1L162.0,51.2L161.9,51.1L161.2,51.2L160.5,51.2L159.7,51.0L159.2,51.0L158.9,51.1L158.1,51.0L157.2,50.4L156.5,50.2L155.7,49.5L155.1,48.6ZM166.4,47.0L166.9,47.0L167.5,47.1L168.4,47.1L168.8,46.9L169.4,46.9L170.0,47.0L170.9,47.4L171.2,47.6L170.4,48.0L169.9,47.9L169.4,48.1L169.1,47.9L168.0,47.7L167.9,47.6L166.8,47.8L166.6,47.7L165.8,47.5ZM159.3,56.7L159.7,56.3L160.5,55.8L160.9,55.7L161.7,55.6L162.3,55.8L162.8,56.0L163.6,56.3L164.1,56.6L164.5,57.0L165.2,57.5L165.8,57.6L166.8,58.1L165.8,58.5L165.2,58.6L164.7,58.7L164.1,58.4L163.4,58.1L162.9,58.3L162.3,58.2L161.6,58.6L160.9,58.5L160.5,58.8L159.7,58.3L159.3,57.7ZM163.4,59.3L164.1,59.2L164.7,59.2L165.2,59.4L165.8,60.1L165.3,60.0L164.9,59.9L164.1,59.6L163.6,59.5L162.9,59.4ZM170.3,53.4L170.9,53.3L171.7,53.8L172.1,53.8L171.5,53.8L170.7,53.9L170.0,54.2ZM121.4,51.1L122.3,51.1L122.6,50.8L123.4,50.6L123.8,50.7L124.4,50.5L125.4,50.4L125.6,50.4L126.5,50.7L127.2,50.3L127.6,50.6L126.9,50.2L126.4,50.4L126.1,50.1L125.0,50.2L124.6,50.1L124.0,50.1L123.3,50.1L122.9,50.1L122.3,49.9L121.6,49.8L120.8,49.6L120.4,49.2L121.1,48.8L121.6,48.5L122.0,48.0L122.8,47.9L123.6,47.6L123.8,47.9L124.4,47.5L125.1,47.8L125.8,47.5L126.4,47.4L127.2,47.8L127.4,47.6L128.2,47.8L128.6,48.2L129.4,48.1L130.1,48.1L130.4,47.8L131.2,47.9L131.9,47.9L132.2,48.0L133.0,48.3L133.4,47.9L134.2,48.0L134.8,47.5L135.4,47.5L135.9,47.8L136.6,47.9L137.2,47.9L137.4,48.4L138.1,48.6L138.6,49.1L139.4,49.3L140.2,49.5L140.9,50.2L141.3,50.7L141.1,51.4L140.8,51.8L140.1,52.2L139.4,52.3L139.1,52.2L138.4,52.4L137.6,52.3L137.4,52.5L136.7,52.2L136.0,52.1L135.4,52.1L134.7,52.4L134.3,52.2L133.5,52.4L133.0,52.7L132.5,52.7L131.7,52.8L131.0,53.0L130.4,52.7L130.0,52.8L129.3,53.0L128.6,52.7L128.4,52.8L127.5,53.0L127.0,52.9L126.3,52.8L125.6,52.7L125.1,52.3L124.6,52.4L124.3,52.2L123.3,51.9L122.8,52.0L122.0,51.6ZM113.5,48.4L113.6,48.1L113.5,47.0L114.2,46.9L114.9,46.3L115.6,46.2L116.2,46.2L116.6,46.1L117.2,46.3L117.9,46.5L118.6,46.2L119.3,46.2L119.9,46.1L120.6,46.2L121.0,46.2L121.4,46.4L122.4,46.3L122.8,46.5L123.6,46.7L123.8,46.8L124.6,47.3L124.1,47.3L123.6,47.7L122.7,47.8L122.1,47.8L121.6,48.0L120.9,48.6L120.4,48.8L119.6,49.2L118.9,49.5L118.1,49.8L117.4,49.9L116.7,49.9L116.0,50.0L115.7,50.0L114.8,49.8L114.3,49.5L113.4,49.4L113.0,49.1ZM115.2,44.3L114.7,44.1L115.7,43.5L116.3,43.4L117.1,43.5L117.4,43.4L118.1,43.2L118.7,43.2L119.3,42.9L119.8,42.9L120.2,43.1L121.1,43.2L121.8,43.0L122.0,43.1L122.9,43.1L123.4,42.9L122.8,43.6L122.4,43.7L121.6,43.8L121.0,44.0L120.6,43.8L119.8,44.2L119.4,44.4L118.4,44.4L118.2,44.5L117.5,44.6L116.9,44.5L116.3,44.5ZM122.2,45.3L122.9,45.3L123.5,45.3L124.3,45.2L124.6,45.0L123.8,44.7L123.2,44.8L122.5,44.6L123.3,44.5L123.7,44.1L124.3,44.2L125.2,43.8L125.8,43.7L126.5,43.8L127.1,44.0L127.8,43.8L128.2,43.8L128.9,43.6L129.6,43.6L129.9,43.4L130.6,43.7L131.2,43.5L131.7,43.7L132.3,43.5L133.0,43.8L133.4,44.0L134.2,44.4L134.7,44.7L135.3,44.6L136.2,44.5L136.6,44.6L136.0,45.6L135.3,45.7L135.0,45.8L134.4,45.6L133.8,46.0L132.7,45.7L132.3,45.8L131.6,46.1L131.2,46.2L130.6,46.1L129.7,46.1L129.4,46.3L128.7,45.9L128.4,46.0L127.8,46.0L127.2,46.2L126.2,46.0L125.8,46.0L125.1,45.9L124.5,45.6L124.0,45.9L123.6,45.5L122.8,45.7ZM127.0,42.0L127.8,42.1L128.2,41.9L129.0,42.1L129.2,42.0L129.9,41.9L130.6,41.8L131.1,42.0L131.9,42.2L132.4,42.1L133.0,42.5L132.3,42.7L131.7,42.9L131.0,43.0L130.6,42.9L130.0,43.1L129.6,42.6L128.8,43.0L128.1,42.6L127.4,42.9L127.0,42.7ZM128.6,41.2L129.4,41.1L130.0,41.4L130.8,41.2L130.9,41.2L131.8,41.3L131.2,41.8L130.7,42.0L130.1,41.6L129.1,41.8L128.4,41.8L127.8,41.7ZM141.9,45.5L141.4,45.1L140.5,45.1L140.2,44.6L140.8,44.4L141.2,44.4L141.9,44.1L142.6,44.1L143.0,43.6L143.5,43.6L144.3,43.6L144.9,43.5L145.6,43.6L146.4,43.8L146.7,44.1L146.1,44.6L145.5,45.6L144.9,45.5L144.1,45.7L144.0,45.7L143.3,45.4L142.5,45.6ZM147.3,45.2L147.9,45.0L148.4,45.2L149.1,44.9L150.1,44.9L150.4,45.3L151.3,45.3L150.9,45.9L150.5,45.9L150.0,45.8L149.0,45.9L148.6,46.1L147.9,45.9ZM167.6,45.6L167.0,45.9L166.5,45.7L165.8,46.1L165.1,46.4L164.6,46.2L164.1,46.3L163.6,46.0L162.9,46.3L162.5,46.2L161.8,46.3L161.1,46.1L160.3,46.0L159.8,45.9L159.3,46.3L158.5,46.2L158.2,45.9L157.3,46.2L156.9,46.1L156.1,45.8L155.5,46.3L154.9,46.1L154.7,45.8L154.0,45.7L153.3,45.9L153.1,45.5L152.5,45.0L151.5,44.5L150.9,44.4L150.4,44.6L149.8,44.3L149.1,44.2L148.3,44.3L147.9,44.0L148.4,43.8L149.1,43.5L150.0,43.7L150.6,43.7L150.8,43.4L151.7,43.7L151.9,43.7L152.6,43.5L153.1,43.8L153.9,43.7L154.7,44.0L155.0,43.7L155.8,44.1L156.3,44.0L156.6,44.1L157.7,44.0L158.2,43.7L158.7,43.8L159.2,44.0L160.1,43.8L160.3,43.8L161.0,44.0L161.4,43.8L162.3,44.0L163.1,43.9L163.7,44.3L163.9,44.1L164.9,43.9L165.2,44.2L165.8,44.5L166.4,44.5L167.3,44.9L167.6,44.9ZM156.1,43.5L157.0,43.4L157.3,43.2L157.8,43.5L158.7,43.3L158.1,43.3L157.3,43.2L156.9,42.7L156.5,43.0L155.7,42.7L156.5,42.5L156.9,42.1L157.6,42.1L157.8,41.8L158.7,41.6L159.4,41.2L160.1,41.5L160.5,40.9L161.1,41.0L160.3,40.3L159.9,40.1L159.4,39.7L158.9,39.4L158.3,39.7L157.5,39.3L156.9,39.2L156.3,39.3L155.8,38.8L155.2,39.1L154.5,39.0L153.7,38.6L153.3,38.5L153.7,38.5L154.5,38.6L155.1,38.5L155.8,38.1L156.3,38.2L156.9,38.1L157.2,37.8L158.1,37.7L158.6,37.5L159.2,37.4L159.9,37.3L160.5,37.3L161.1,37.1L161.8,37.2L162.4,37.2L162.6,36.9L163.6,36.6L163.9,36.9L164.7,36.7L165.3,36.7L165.7,36.7L166.6,36.8L167.0,36.4L167.8,36.7L168.4,36.7L169.0,36.5L169.7,36.6L170.0,36.7L170.6,36.5L171.5,36.2L171.7,36.6L172.6,36.2L172.8,36.4L173.6,36.2L174.0,36.5L174.7,36.4L175.2,36.3L176.1,36.1L176.6,36.3L176.9,36.3L177.8,36.5L178.3,36.2L178.9,36.2L179.3,36.2L180.3,36.6L180.7,36.6L181.4,36.5L182.2,36.2L182.5,36.6L183.1,36.5L183.7,36.3L184.3,36.7L184.8,36.5L185.6,36.9L186.2,36.7L186.7,36.7L187.1,37.0L188.1,36.9L188.4,37.1L189.1,37.0L188.5,37.4L188.0,37.7L187.1,37.8L186.8,38.0L186.2,38.0L185.4,38.1L184.8,38.5L184.2,38.6L183.8,38.6L183.4,39.0L182.6,39.0L181.9,38.9L181.6,39.1L181.0,39.2L180.4,39.2L179.6,39.3L178.8,39.7L178.1,39.9L177.8,40.0L177.4,39.9L176.6,40.0L176.3,40.5L175.6,40.4L174.8,40.7L174.2,40.7L173.6,40.7L173.0,41.2L172.5,41.5L171.6,41.3L171.1,41.8L170.6,41.8L170.2,42.3L169.5,42.6L168.8,42.9L168.4,43.4L167.7,43.9L167.0,44.1L166.6,43.9L165.9,44.0L165.1,44.1L164.8,44.1L163.8,44.1L163.5,44.1L162.7,44.3L162.5,43.8L161.6,43.8L160.8,44.0L160.3,44.2L159.9,44.0L159.1,43.8L158.8,44.1L158.0,43.9L157.5,43.9L157.1,43.7L156.4,43.6L155.7,43.7ZM147.1,39.5L147.9,39.0L148.6,39.1L148.9,38.9L149.7,38.4L150.4,38.5L150.9,38.4L151.3,38.7L152.0,38.9L152.7,38.7L153.3,39.0L154.0,38.9L154.7,39.5L155.1,39.6L155.7,40.4L155.2,41.1L154.5,41.2L153.9,41.5L153.2,41.3L153.0,41.5L152.3,41.7L151.5,41.7L151.0,41.6L150.1,41.2L149.8,41.1L149.3,41.1L148.5,41.0L148.0,40.7L147.1,40.2L146.7,39.9ZM138.1,41.5L138.8,41.1L139.6,41.0L140.4,40.9L140.8,41.1L141.4,41.1L141.7,41.0L142.5,41.1L143.1,41.6L143.7,41.8L143.3,41.8L142.3,42.1L141.9,42.4L141.2,42.5L140.6,42.0L140.2,42.1L139.6,42.2L138.8,41.9L138.2,42.0L137.8,41.8ZM144.6,41.6L145.4,41.3L146.1,41.1L146.6,41.1L147.6,41.4L147.9,41.3L147.3,41.9L146.5,42.0L145.9,41.9L145.5,42.3L144.9,42.3ZM148.4,47.8L148.5,47.3L149.3,46.9L149.7,46.6L150.3,46.6L151.0,46.7L151.6,46.4L152.0,46.4L152.7,46.6L153.3,47.0L154.0,47.1L154.9,47.1L154.5,47.6L153.9,47.9L153.4,48.2L152.4,48.2L152.1,48.6L151.7,48.6L150.7,48.7L150.3,49.0L149.6,48.9L149.3,48.7L148.5,48.4ZM140.5,48.2L140.2,48.1L140.6,47.9L141.3,47.3L141.7,46.9L142.4,47.0L143.2,47.0L143.7,46.8L144.3,46.7L145.0,46.7L145.5,46.7L146.1,46.9L146.6,47.1L147.0,47.7L147.3,48.3L146.6,48.5L146.1,49.2L145.7,49.3L145.1,49.4L144.5,49.1L143.7,49.4L143.0,49.4L142.7,49.3L142.2,49.0L141.3,48.7ZM144.3,51.8L145.2,51.4L145.5,51.3L145.9,51.3L146.9,51.4L147.3,51.7L147.8,51.9L148.5,52.4L147.7,52.7L147.3,53.2L146.8,53.0L146.2,53.0L145.3,53.3L144.9,53.1L144.3,52.9L143.7,52.5ZM153.9,42.7L154.6,42.8L155.2,42.5L155.7,42.6L156.3,43.2L155.9,43.0L154.9,43.3L154.3,43.2L153.9,43.0ZM146.5,44.6L147.6,44.9L146.7,45.2Z" fill="#d9d9d9" stroke="#d9d9d9" stroke-width="1.2" stroke-linejoin="round"/><path d="M296.0,82.9L296.1,81.7L296.9,80.4L298.0,79.4L298.7,78.6L299.7,77.8L300.9,78.1L302.8,78.6L301.5,79.2L302.5,80.1L303.3,80.3L304.9,79.7L306.4,79.3L307.2,79.7L308.8,80.3L310.7,81.5L312.3,82.5L312.3,83.6L310.4,84.2L308.4,84.3L306.2,83.9L304.7,83.1L302.7,83.1L299.7,84.1L297.3,84.0L296.2,83.6ZM304.2,78.7L304.7,78.2L306.2,77.8L308.3,77.3L309.6,77.1L308.0,78.5L306.4,79.2L305.1,79.3L304.5,79.1Z" fill="#fff"/><text x="30.3" y="32.1" font-size="10.00" text-anchor="end" fill="#111" font-weight="normal" font-family="Liberation Sans, sans-serif" >90°N</text><line x1="31.8" y1="28.5" x2="35.7" y2="28.5" stroke="#333" stroke-width="0.9"/><text x="30.3" y="66.2" font-size="10.00" text-anchor="end" fill="#111" font-weight="normal" font-family="Liberation Sans, sans-serif" >60°N</text><line x1="31.8" y1="62.6" x2="35.7" y2="62.6" stroke="#333" stroke-width="0.9"/><text x="30.3" y="100.3" font-size="10.00" text-anchor="end" fill="#111" font-weight="normal" font-family="Liberation Sans, sans-serif" >30°N</text><line x1="31.8" y1="96.7" x2="35.7" y2="96.7" stroke="#333" stroke-width="0.9"/><text x="30.3" y="134.4" font-size="10.00" text-anchor="end" fill="#111" font-weight="normal" font-family="Liberation Sans, sans-serif" >0°</text><line x1="31.8" y1="130.8" x2="35.7" y2="130.8" stroke="#333" stroke-width="0.9"/><text x="30.3" y="168.5" font-size="10.00" text-anchor="end" fill="#111" font-weight="normal" font-family="Liberation Sans, sans-serif" >30°S</text><line x1="31.8" y1="164.9" x2="35.7" y2="164.9" stroke="#333" stroke-width="0.9"/><text x="30.3" y="202.6" font-size="10.00" text-anchor="end" fill="#111" font-weight="normal" font-family="Liberation Sans, sans-serif" >60°S</text><line x1="31.8" y1="199.0" x2="35.7" y2="199.0" stroke="#333" stroke-width="0.9"/><text x="30.3" y="236.7" font-size="10.00" text-anchor="end" fill="#111" font-weight="normal" font-family="Liberation Sans, sans-serif" >90°S</text><line x1="31.8" y1="233.1" x2="35.7" y2="233.1" stroke="#333" stroke-width="0.9"/><path d="M61.9,353.8L64.3,353.2L66.7,352.8L68.3,352.4L66.1,351.6L63.3,350.7L64.0,350.1L67.3,348.8L69.2,348.5L75.3,347.2L78.6,347.7L81.0,347.9L85.2,348.5L89.4,348.7L94.2,349.2L97.7,349.7L101.3,349.4L104.9,349.3L109.7,348.2L113.3,349.3L116.9,349.1L121.6,350.0L125.2,350.2L128.8,351.3L133.6,351.1L136.0,350.2L140.8,351.3L145.5,351.3L147.9,351.1L149.7,349.4L150.9,347.1L149.7,346.6L152.7,348.3L156.3,350.2L158.7,352.0L160.5,349.1L164.7,349.3L165.2,351.1L164.1,352.7L159.6,352.8L158.7,355.1L156.9,355.7L154.5,356.2L151.5,357.4L150.3,359.1L149.4,361.3L150.1,361.6L152.1,363.6L156.9,364.2L161.1,365.5L164.3,365.8L164.3,368.2L166.4,370.1L168.0,369.9L168.5,367.6L168.0,366.5L170.6,365.0L171.0,363.0L169.4,361.7L170.0,359.6L169.2,357.6L170.0,357.2L174.2,357.6L177.2,358.8L179.0,359.1L179.6,360.4L179.6,361.6L182.0,362.1L184.4,361.3L185.4,359.9L186.8,361.7L189.1,364.2L190.9,365.5L193.9,366.5L195.7,367.6L196.1,369.1L193.9,370.0L190.9,371.3L186.2,371.3L183.2,371.3L180.8,372.4L179.0,373.8L177.8,375.0L179.6,373.8L183.2,372.5L185.8,372.8L185.2,374.2L185.2,375.5L186.8,375.9L189.1,376.5L190.7,375.9L191.2,376.1L189.7,377.0L186.8,377.7L184.4,378.8L183.5,378.0L185.6,376.9L183.8,377.0L182.3,377.6L180.8,378.2L178.8,378.8L178.0,380.0L179.0,380.7L178.9,381.1L177.2,381.3L174.8,381.8L174.2,382.3L174.2,383.5L173.1,384.2L172.4,384.8L171.8,386.2L172.4,388.0L172.4,388.4L171.2,389.0L169.4,389.9L168.0,390.7L166.1,391.9L165.4,393.7L166.3,396.0L167.0,398.3L166.7,399.6L165.7,399.8L164.9,398.6L163.8,396.8L163.7,395.4L162.3,394.2L160.5,394.5L159.3,393.8L157.5,393.7L155.7,394.1L156.0,395.3L154.5,395.3L152.7,394.8L150.6,394.6L149.1,395.2L146.7,396.8L146.2,398.8L145.9,401.1L145.8,403.4L146.4,404.8L147.6,406.6L149.1,407.3L150.3,407.7L152.7,407.3L153.9,407.0L154.5,405.9L154.7,404.5L157.5,404.0L158.9,404.1L158.2,406.2L157.5,407.4L157.2,409.9L156.8,410.4L159.3,410.4L162.3,410.4L163.1,411.3L162.9,413.6L162.6,415.9L164.7,417.9L165.8,418.3L167.3,417.6L168.8,417.7L170.3,418.7L170.1,419.8L169.2,419.1L167.6,418.3L166.8,419.9L165.2,419.2L163.5,419.0L161.7,417.5L160.2,417.0L160.0,415.6L158.3,413.7L156.9,413.3L153.9,412.6L152.3,411.9L150.9,410.4L149.4,410.0L147.3,410.6L144.9,409.9L141.9,408.8L139.0,407.6L136.8,406.2L136.3,405.1L136.8,404.0L135.7,402.0L133.6,400.0L131.9,398.8L130.0,396.7L128.4,394.9L127.5,392.9L125.5,392.4L125.8,394.2L127.4,395.7L128.6,397.1L129.4,398.8L130.5,400.8L131.8,402.0L131.1,402.4L128.9,400.3L128.6,398.8L126.2,396.8L125.8,395.7L124.3,394.0L123.1,392.3L122.6,391.2L121.3,390.0L119.8,389.3L118.5,389.1L117.0,386.9L116.4,385.8L115.7,385.2L114.8,384.1L114.1,382.6L114.3,380.9L113.9,379.8L114.3,377.8L114.6,375.9L114.2,374.4L113.6,373.4L115.5,373.6L115.9,372.7L115.4,372.4L113.9,371.3L111.5,370.4L109.9,369.5L109.1,368.4L107.3,366.8L106.7,366.1L105.5,365.3L103.7,363.8L101.9,362.5L99.5,361.9L98.0,361.3L95.9,360.5L93.6,360.2L91.2,360.2L88.2,359.5L85.8,359.6L84.0,360.5L81.4,361.1L81.7,359.4L83.4,358.8L80.6,359.9L78.6,360.9L78.6,362.0L76.2,362.9L73.8,364.1L71.7,364.9L69.7,365.5L67.9,366.1L65.7,366.6L67.3,365.8L69.3,364.9L71.4,364.3L73.4,363.3L74.4,362.0L72.8,361.7L70.9,361.7L69.1,360.7L66.9,360.3L65.5,359.5L65.1,358.7L64.5,357.5L66.1,356.6L68.5,356.2L70.3,355.5L70.0,355.1L67.9,355.0L65.6,355.1L63.9,355.0L63.3,354.3ZM115.3,373.4L113.3,372.9L109.3,370.9L110.3,370.5L113.3,371.3L114.7,372.4ZM191.7,373.5L192.7,372.1L194.5,370.1L196.1,369.7L196.3,371.9L198.7,372.7L199.7,374.3L198.7,375.3L196.0,375.0L191.7,374.3ZM161.2,403.5L164.7,402.6L167.0,402.1L170.0,403.6L172.2,404.4L174.1,405.4L172.4,405.8L169.8,405.9L170.4,404.9L168.8,403.8L165.2,403.3L163.5,403.4ZM173.7,407.5L175.6,405.8L179.0,406.0L181.0,407.3L179.6,407.5L177.4,408.3L175.5,407.6ZM169.1,407.5L171.5,407.7L170.9,408.1L169.7,408.1ZM182.3,407.4L184.2,407.5L184.1,407.9L182.3,407.9ZM175.4,339.5L178.4,338.3L183.2,336.9L188.5,335.5L194.5,335.0L202.9,334.5L210.1,333.9L217.2,333.5L224.4,333.4L231.6,333.7L237.5,334.3L243.5,335.1L248.3,335.6L247.1,336.8L242.9,337.9L239.3,339.2L238.1,340.9L236.9,342.6L235.7,343.9L234.0,346.0L230.4,347.7L228.0,348.4L225.0,350.2L221.4,351.9L218.4,352.9L215.4,354.3L214.2,355.7L213.4,357.4L211.7,359.1L210.7,360.2L209.5,360.1L207.7,359.4L204.7,358.8L203.2,357.6L202.3,356.2L200.9,355.3L199.7,353.9L198.6,352.7L198.7,351.0L201.7,350.3L201.3,349.2L198.1,348.0L199.9,347.4L196.3,346.8L195.7,345.5L195.1,344.3L192.7,342.8L189.7,341.9L183.2,341.9L179.6,341.3L177.2,340.5ZM170.1,419.8L170.3,418.7L171.8,417.6L172.4,416.5L173.6,415.9L175.4,415.6L176.6,414.8L177.2,414.3L177.6,415.9L176.8,416.4L177.1,417.9L177.8,417.6L177.6,416.1L178.8,415.2L180.8,415.9L183.2,416.4L185.6,416.8L188.0,416.2L189.7,417.0L190.3,418.7L191.9,419.9L193.9,421.6L196.3,421.7L198.1,421.9L199.9,422.7L201.1,423.5L202.3,426.1L202.9,427.8L203.5,428.6L205.3,429.5L207.1,429.5L209.5,431.2L211.8,431.6L213.6,431.7L215.4,432.0L216.6,432.6L218.4,433.9L220.5,434.3L221.0,436.9L220.6,439.2L219.0,440.3L217.8,441.8L216.3,443.2L216.0,445.4L216.0,448.3L215.2,450.6L214.2,452.3L213.0,454.0L211.8,454.5L209.5,454.8L207.1,455.7L205.9,456.8L204.6,458.5L204.3,460.8L202.9,462.5L201.7,463.6L199.9,465.9L198.7,467.0L197.5,468.0L195.7,468.1L193.9,467.5L192.7,467.3L194.2,468.8L194.8,469.9L193.9,471.6L192.7,472.4L189.7,472.7L188.2,472.5L188.2,474.4L186.8,475.1L185.0,475.0L185.6,476.5L186.4,476.8L185.2,477.5L184.6,479.0L183.2,479.5L182.0,481.0L183.8,482.4L182.6,483.5L181.4,484.7L180.8,485.6L180.2,486.7L180.9,488.0L179.6,488.2L180.7,488.6L181.1,490.1L182.6,490.8L180.8,491.3L179.0,491.1L177.2,490.3L175.4,488.9L173.6,487.5L172.7,485.2L172.4,483.0L173.6,481.6L173.0,480.1L174.4,478.4L174.4,476.7L174.8,475.6L174.4,473.3L174.8,471.4L175.8,468.8L177.0,466.5L177.2,463.6L177.3,461.4L178.0,459.1L178.4,456.8L178.5,454.5L178.8,451.7L178.6,449.2L177.2,448.3L174.8,446.9L172.4,445.4L171.2,443.7L170.0,442.0L168.8,439.8L167.6,437.3L166.4,435.8L165.6,435.1L165.5,433.3L166.7,432.3L167.0,431.2L166.1,430.1L166.4,429.0L167.0,427.5L168.2,426.5L168.8,425.6L170.0,423.9L170.3,421.6ZM180.7,488.2L182.0,489.2L184.6,490.7L182.6,491.3L179.6,491.4L176.6,490.3L178.4,489.2ZM190.2,486.8L192.7,486.8L193.3,487.3L191.9,487.6L190.3,487.5ZM255.9,387.5L255.1,386.8L253.8,386.1L252.0,386.3L252.1,384.9L251.3,384.3L252.0,382.7L252.1,380.9L251.5,379.5L253.1,378.7L255.5,378.8L258.1,379.0L260.5,379.1L261.1,377.8L261.2,376.1L260.0,374.9L259.0,374.4L257.4,374.0L256.9,373.4L258.8,372.9L260.7,373.2L260.4,371.9L261.2,372.2L262.9,372.1L264.4,371.5L264.7,370.5L266.5,370.1L267.8,369.4L268.2,368.4L269.2,367.7L271.0,367.6L272.8,367.5L273.3,366.8L272.9,365.3L272.3,364.1L272.9,363.5L275.3,362.8L275.2,364.2L275.7,364.4L274.8,365.3L274.2,365.9L274.6,366.5L275.8,367.0L277.6,366.6L279.6,367.1L281.8,366.7L284.7,366.1L286.1,366.6L287.8,365.1L287.7,363.8L288.4,363.2L289.6,362.8L290.7,363.6L291.7,363.4L291.8,362.1L290.7,361.8L290.7,361.1L293.1,360.7L296.1,360.8L298.2,360.3L297.3,360.0L294.9,359.6L292.5,360.0L290.0,360.3L288.1,359.3L288.2,358.0L288.0,356.8L289.3,355.9L291.9,354.6L293.0,354.2L291.5,353.6L289.5,353.6L288.1,354.5L287.6,355.5L285.3,356.3L283.9,357.5L283.3,358.5L283.2,359.4L284.7,360.0L285.2,360.5L283.5,361.6L282.3,363.0L282.1,364.0L281.5,364.6L279.7,365.2L278.0,365.4L277.4,364.5L276.7,362.9L275.9,361.3L275.3,360.3L274.8,361.3L273.4,361.8L272.2,362.4L270.5,362.4L269.3,361.7L269.0,360.8L268.6,359.6L268.6,358.4L269.0,357.7L270.4,357.2L271.6,356.7L273.0,356.2L274.6,355.5L276.0,354.6L277.3,353.6L278.4,352.4L280.2,351.2L281.2,350.5L282.8,349.9L284.5,349.1L286.3,348.7L288.4,348.5L290.7,348.0L293.5,347.6L295.5,347.8L297.3,348.0L299.7,348.5L298.7,349.2L302.1,349.5L305.1,349.7L308.0,350.5L310.8,351.3L312.0,352.5L310.7,353.0L308.6,353.4L305.1,352.9L302.7,352.6L303.9,353.9L304.2,355.2L306.2,355.7L307.6,355.3L310.4,355.0L311.1,354.1L313.1,352.8L315.2,353.0L315.4,351.7L314.4,350.4L318.1,351.1L318.8,351.7L320.6,351.4L323.0,350.9L326.6,350.2L328.1,350.9L331.3,350.4L333.1,350.7L334.3,350.0L335.3,349.1L338.5,349.4L341.5,349.9L343.3,350.4L344.5,350.9L345.1,350.0L342.7,348.8L342.7,347.5L344.5,346.0L345.7,345.2L347.5,345.4L349.3,345.9L349.6,347.1L349.3,348.8L350.5,350.5L350.1,352.5L351.7,351.3L352.2,350.5L351.7,349.1L350.8,347.4L352.8,346.1L355.8,346.3L358.8,346.6L359.4,344.9L363.0,344.5L366.0,344.4L366.6,343.1L370.2,342.5L375.0,342.0L378.5,341.9L382.7,341.4L387.3,340.1L389.9,340.4L391.1,341.4L395.3,341.2L398.3,342.2L397.7,344.3L396.5,344.7L398.9,344.7L404.2,344.9L409.6,344.6L413.8,344.9L416.5,345.9L417.4,347.1L419.8,347.9L421.6,347.1L425.1,347.0L428.7,346.3L431.1,345.7L437.1,346.2L441.9,347.1L444.9,347.8L450.2,347.7L453.2,348.0L453.8,349.1L456.2,349.3L459.2,349.3L462.8,349.2L465.8,348.8L466.4,349.4L470.5,348.9L474.1,349.4L477.7,350.1L477.7,354.5L475.9,355.0L474.1,354.9L475.3,356.2L476.5,357.5L474.1,357.2L471.1,358.2L468.2,359.2L465.8,360.2L462.8,359.9L459.8,360.2L458.0,360.4L457.4,361.9L456.2,362.7L457.6,362.7L456.8,364.4L456.0,365.7L453.9,366.8L452.4,368.2L450.8,369.5L449.9,370.4L449.6,368.7L448.8,366.5L448.6,364.7L450.0,362.8L452.0,362.1L454.2,360.8L456.0,359.7L454.4,358.5L453.2,358.2L450.2,358.4L447.8,360.9L445.5,361.2L443.1,360.7L440.1,361.0L436.5,360.9L433.5,360.9L430.5,362.1L428.1,363.8L426.3,365.9L424.2,366.2L426.9,367.0L429.3,366.8L431.6,368.6L430.8,370.4L430.4,372.9L428.1,375.0L425.7,377.4L423.9,378.7L421.6,379.8L419.8,379.5L418.8,380.3L417.6,381.8L417.3,383.2L415.0,383.5L416.2,384.9L417.3,386.6L417.0,388.4L414.4,389.1L413.5,389.2L413.8,387.7L413.9,385.8L412.4,385.5L412.2,384.3L411.6,383.3L410.2,383.2L407.9,384.2L408.3,382.5L407.2,382.0L405.4,383.0L403.6,384.0L403.2,384.5L404.6,385.8L405.4,386.2L407.2,385.5L409.1,385.9L407.8,386.6L406.4,387.3L405.2,388.6L406.4,389.4L407.1,391.5L408.3,392.4L408.3,393.4L407.8,394.9L407.9,396.0L406.7,397.4L405.5,398.8L404.8,399.8L403.0,401.1L401.2,402.4L399.1,403.1L397.1,403.6L395.0,404.3L394.4,405.3L393.8,404.1L392.3,403.8L390.2,404.9L388.9,406.8L389.9,408.2L391.1,409.6L392.6,411.0L393.2,413.1L393.1,415.1L391.7,416.1L390.2,416.6L388.2,418.6L387.9,417.3L387.4,416.5L385.7,415.3L384.9,414.5L383.2,414.0L382.8,413.1L382.1,413.3L381.2,416.8L382.0,417.9L382.6,420.1L383.3,420.6L384.6,421.4L386.2,422.9L386.3,425.2L387.1,426.8L386.3,426.9L385.1,426.1L383.7,425.1L382.7,423.6L382.5,422.1L382.2,421.1L381.8,420.7L380.3,419.0L380.1,417.6L380.4,415.9L380.3,414.2L379.4,411.3L379.1,409.6L377.7,409.3L376.6,410.4L375.3,410.2L375.6,408.5L375.2,407.0L374.4,406.1L373.0,404.9L372.6,404.0L372.3,402.9L370.9,402.9L370.2,403.5L369.0,403.7L368.0,403.7L366.5,404.5L366.0,405.4L364.2,406.5L363.0,407.6L360.9,409.5L359.4,410.4L358.6,410.8L358.3,413.2L358.0,415.3L358.1,416.7L357.0,417.8L356.1,418.3L355.2,419.2L354.2,418.3L353.6,416.7L352.7,415.0L351.9,413.6L351.3,411.7L350.5,410.2L349.9,407.4L349.6,405.9L349.6,404.5L348.9,404.2L347.2,404.9L345.3,403.5L345.9,402.8L344.7,402.5L344.1,401.6L343.2,401.1L342.5,400.1L342.2,399.5L339.7,399.6L336.2,399.8L333.7,399.5L331.2,399.1L330.5,397.7L329.8,397.5L328.1,398.3L326.6,397.8L324.8,396.8L323.5,395.7L322.7,394.4L321.8,394.2L321.1,393.8L320.0,394.4L320.3,396.0L321.4,397.0L322.5,398.2L322.6,399.3L323.3,400.2L323.9,400.6L324.3,399.0L324.3,400.7L325.4,400.9L327.2,401.0L328.6,400.0L329.5,399.1L330.0,398.5L329.9,399.6L330.1,400.6L331.3,401.3L332.8,401.7L334.1,402.8L333.5,404.1L332.5,405.2L331.7,406.0L331.6,406.9L330.3,407.4L328.8,408.3L327.2,409.2L325.0,410.3L323.6,411.2L321.8,411.8L320.6,412.5L318.8,413.4L317.0,413.6L315.4,414.1L314.6,414.0L314.3,413.1L313.8,411.1L313.7,409.3L312.6,408.2L311.4,406.1L310.1,405.1L309.4,403.6L308.6,401.6L307.4,400.6L306.2,398.8L305.2,397.4L304.2,396.2L304.3,394.9L303.6,396.6L302.5,395.9L301.6,394.4L301.2,392.8L303.5,392.8L304.0,392.3L304.5,391.0L305.1,389.9L305.5,388.6L305.6,387.6L305.9,386.8L305.1,386.8L304.0,386.6L302.8,387.3L301.5,387.4L300.0,386.6L299.1,387.0L297.9,387.3L296.4,386.6L295.3,386.3L295.1,385.3L294.3,384.9L294.7,383.8L293.9,383.5L293.9,382.8L293.9,382.3L293.1,382.0L291.3,382.1L290.1,382.6L291.0,383.0L289.6,382.9L290.0,383.8L290.5,384.6L291.3,385.2L290.2,386.0L289.8,387.0L288.9,386.3L288.4,386.6L287.8,385.4L288.1,384.9L287.4,384.2L286.5,383.3L285.8,382.5L285.9,381.0L284.7,380.1L283.5,379.5L281.8,379.0L280.8,378.2L279.7,377.0L279.0,377.1L278.9,376.3L277.3,376.9L277.3,377.7L278.8,378.8L279.4,380.0L280.8,380.8L281.8,381.2L282.9,381.8L284.7,382.8L284.1,383.0L283.1,382.4L282.3,383.2L283.1,384.1L282.5,384.8L281.8,385.2L281.4,385.0L281.6,383.5L281.0,382.9L280.4,382.5L279.4,382.0L278.9,381.5L277.4,381.0L275.9,380.2L275.2,379.5L274.8,378.5L273.3,377.9L272.2,378.5L271.0,379.0L269.8,379.4L268.4,379.1L266.5,379.3L266.3,380.7L265.3,381.5L263.6,381.8L262.6,383.0L262.3,383.6L262.9,384.4L262.0,384.9L261.8,385.7L261.0,385.8L260.1,386.7L257.4,386.7ZM47.5,350.1L51.1,350.8L54.1,352.1L57.1,352.4L59.9,353.3L58.3,353.9L56.5,355.2L53.5,354.7L49.9,353.9L47.5,354.5ZM256.3,387.7L258.4,388.4L260.0,388.5L261.4,387.9L263.2,387.3L265.0,386.8L266.8,386.6L268.6,386.6L270.4,386.3L272.2,386.3L274.0,386.0L274.8,386.0L275.8,386.3L275.3,387.5L275.8,388.4L274.8,389.4L275.8,390.2L277.0,390.9L278.8,391.1L280.7,391.6L281.2,392.3L282.9,393.0L284.7,393.8L286.3,393.3L286.6,391.7L288.3,391.0L290.1,391.3L291.3,392.0L292.5,392.4L294.9,392.7L296.7,393.3L298.5,392.8L299.7,392.6L301.2,392.9L301.6,394.4L302.3,396.3L303.1,397.4L304.0,398.8L304.8,400.6L305.2,401.7L306.2,403.2L306.8,404.0L307.2,405.1L307.4,407.0L308.6,408.2L309.5,409.8L310.2,410.8L311.4,411.5L312.6,412.4L313.5,413.3L314.4,414.3L313.7,415.0L314.4,415.2L315.2,416.4L316.4,416.5L318.0,416.2L319.4,415.8L321.5,415.4L323.0,414.9L323.9,415.0L323.8,416.5L323.0,417.9L321.8,419.9L320.9,421.9L319.7,423.3L318.2,424.6L316.4,426.1L314.6,427.5L313.4,429.0L312.2,430.2L310.8,431.4L310.2,432.6L309.5,433.9L309.2,435.2L309.6,436.9L310.2,438.6L310.9,440.3L311.0,442.6L311.3,444.9L310.7,446.6L309.0,447.7L306.8,448.5L305.5,449.7L304.1,450.8L304.5,451.7L304.8,453.4L305.1,455.1L304.5,456.2L302.7,457.2L301.6,457.7L301.8,458.5L301.2,460.9L299.7,462.3L298.5,463.9L296.7,465.2L295.5,466.1L293.5,466.7L292.3,467.2L290.1,466.9L288.3,467.5L286.5,468.0L285.9,467.8L284.6,467.3L284.4,465.9L284.4,464.5L283.3,463.1L282.3,460.9L280.8,458.9L280.3,456.8L280.0,454.4L279.7,453.5L278.6,452.0L277.7,450.0L276.7,448.9L276.6,447.4L277.2,445.4L277.6,443.7L279.0,441.5L279.1,440.3L278.5,438.4L278.3,437.3L277.3,435.3L277.0,434.1L275.9,432.8L274.6,431.5L273.1,429.3L273.7,429.0L274.1,427.3L274.3,425.6L274.0,424.1L272.8,423.3L271.7,423.3L270.4,423.5L269.3,422.7L268.0,421.4L265.9,421.1L264.1,421.5L262.0,422.1L260.2,422.9L258.4,422.6L256.1,422.6L253.7,423.4L251.3,422.1L249.5,420.9L247.9,420.1L246.9,419.0L246.7,417.6L245.3,416.5L244.1,415.3L242.6,414.3L242.7,413.1L241.7,411.7L242.2,411.5L242.9,410.0L243.4,407.9L242.9,406.6L243.2,405.7L242.3,404.5L242.4,403.5L243.5,401.3L244.7,400.0L245.4,398.5L247.1,397.0L248.9,396.2L250.1,395.2L251.0,394.1L250.9,393.2L251.5,391.5L252.5,390.5L254.4,389.8L255.1,388.6L255.6,387.7ZM321.5,442.0L322.9,445.9L322.4,446.6L321.9,448.3L320.6,451.7L319.4,455.7L318.7,456.9L316.6,457.4L315.2,456.6L314.7,454.5L314.4,452.8L315.7,450.6L315.2,447.7L315.7,446.8L318.0,446.2L319.7,444.5L320.6,443.5ZM399.0,453.2L402.1,451.8L404.6,451.5L407.2,450.6L408.6,448.9L408.8,447.7L410.2,447.2L411.4,446.0L412.8,444.7L414.4,444.1L415.8,445.3L417.4,445.4L417.7,443.7L418.7,442.5L421.1,442.2L421.1,441.5L422.7,441.9L425.0,442.0L426.2,442.4L425.1,443.7L424.5,445.2L426.9,446.6L429.1,448.2L430.9,448.2L431.7,446.0L431.8,443.7L432.3,441.5L432.9,440.6L433.9,442.0L434.2,444.3L435.3,444.5L436.3,445.4L436.5,447.2L437.3,449.4L438.9,450.6L440.4,451.5L441.5,453.7L442.8,454.1L443.7,455.7L445.5,457.2L445.7,458.5L446.2,460.8L445.5,463.6L444.5,465.6L443.3,467.0L442.5,468.8L441.7,471.0L439.5,471.4L437.4,472.8L435.7,471.7L434.1,472.5L431.7,472.0L429.9,471.1L429.3,469.3L428.1,468.9L427.6,467.3L427.4,465.9L426.8,468.0L425.1,468.2L424.2,468.0L423.0,465.8L421.0,464.8L419.2,464.2L416.8,464.4L414.4,465.1L412.0,465.9L410.3,466.9L408.4,467.0L406.0,467.0L403.6,468.2L401.8,468.2L400.0,467.4L400.9,466.3L400.9,464.5L400.0,462.5L399.6,460.8L398.1,458.5L398.3,456.8L398.5,455.1ZM435.4,474.7L439.8,474.9L439.7,476.4L438.6,477.6L437.1,478.0L436.1,476.4ZM469.0,467.5L471.1,469.1L472.3,470.5L475.9,471.3L475.2,473.0L474.0,473.9L472.0,475.7L471.3,475.2L471.7,473.9L470.3,473.1L471.3,471.6L470.9,469.9L469.3,468.4ZM469.0,474.4L470.9,475.8L469.7,477.3L469.0,478.2L467.2,479.0L466.6,480.6L464.9,481.4L461.6,480.7L461.9,479.8L463.7,478.4L466.4,477.3L467.6,475.9L468.3,474.8ZM47.5,523.9L57.1,521.6L65.5,518.8L72.9,517.2L83.4,515.4L89.4,514.0L105.7,513.0L125.2,511.7L138.6,510.6L155.1,510.6L171.5,509.0L176.6,507.7L180.8,505.7L184.4,503.6L188.5,501.8L192.7,500.6L190.3,501.8L188.0,503.6L186.8,506.3L188.0,510.2L189.7,513.6L190.9,515.6L196.9,517.6L205.3,518.7L210.8,517.6L214.0,517.2L226.8,514.8L236.9,512.3L248.3,509.7L253.4,509.0L265.4,508.4L280.6,507.7L298.2,506.4L316.4,505.1L331.1,503.1L341.5,505.1L345.1,508.5L348.7,506.8L352.2,505.7L364.0,504.1L382.1,503.4L396.7,503.1L412.0,503.4L429.7,503.4L441.9,505.1L449.4,505.1L459.8,507.4L469.1,509.0L467.0,510.8L463.4,511.9L458.0,515.6L463.4,518.2L468.2,520.5L472.9,522.7L477.7,523.9L477.7,530.7L47.5,530.7ZM257.3,370.3L258.6,370.0L256.4,369.5L257.6,368.7L257.3,367.8L259.0,367.7L258.8,366.8L258.6,366.0L256.9,366.1L256.7,365.3L255.9,364.4L255.7,362.7L256.7,361.8L258.8,361.8L260.5,363.0L259.0,364.7L260.2,364.9L260.8,365.9L262.4,366.8L263.0,367.7L264.5,368.6L264.2,370.3L261.4,370.8L258.4,371.2L255.8,371.6ZM255.2,367.1L255.5,369.1L254.3,369.2L251.2,369.9L250.7,369.1L251.3,367.9L250.7,367.0L252.6,366.3L253.9,365.5L255.9,366.5ZM235.7,355.8L234.0,354.6L236.3,353.9L233.6,353.8L235.7,352.9L240.5,353.3L243.5,352.8L245.3,353.5L246.4,354.4L244.8,355.3L240.3,356.3L237.5,355.9ZM277.0,337.7L282.9,337.5L288.9,337.0L294.9,337.7L289.5,339.5L285.3,340.3L282.3,341.3L278.8,339.7L275.8,338.8ZM284.1,337.2L288.9,336.8L294.9,337.2L291.3,337.9L285.3,337.9ZM325.4,347.4L328.9,348.2L331.3,348.0L329.5,346.0L331.3,344.3L335.5,342.2L342.7,341.0L344.5,341.3L339.1,342.8L333.1,344.9L330.7,346.3L328.9,347.0L326.6,345.5L325.4,346.6ZM376.1,338.6L382.1,338.0L387.5,338.6L384.5,339.5L379.7,339.7ZM372.0,337.1L378.5,336.1L382.1,336.9L377.3,338.0ZM425.1,342.6L430.5,341.8L433.5,342.4L437.1,342.8L433.5,345.0L428.7,344.1ZM47.5,347.0L50.5,347.4L49.3,347.8L47.5,347.8ZM476.5,347.1L477.7,347.0L477.7,347.8L476.3,347.7ZM318.8,336.9L324.8,335.6L334.3,335.8L339.1,336.6L331.9,337.2L322.4,337.5ZM432.3,366.7L433.7,368.5L434.0,372.1L435.3,372.8L433.7,372.5L432.9,374.4L434.1,375.4L432.3,376.1L432.3,373.8L432.5,370.4L431.8,368.7ZM429.8,380.2L430.4,379.2L431.5,379.3L431.8,378.2L432.3,376.8L436.1,378.4L436.5,379.2L433.9,380.7L432.3,380.0L431.4,380.9L429.9,381.2ZM419.8,389.1L421.6,388.0L425.1,387.8L426.1,386.0L426.7,386.5L428.7,385.3L429.9,384.1L429.8,382.9L430.4,381.6L431.7,381.5L432.3,383.5L431.7,384.9L431.0,386.3L431.0,387.7L429.7,388.6L428.5,389.1L426.3,389.1L424.9,390.3L423.9,389.1L421.0,389.3L419.0,389.8ZM418.4,389.9L419.8,390.2L420.2,391.5L419.2,392.9L418.2,392.8L417.6,390.7ZM421.1,389.8L423.1,389.4L423.6,390.0L421.6,391.2L420.6,390.7ZM406.7,400.6L407.9,399.6L408.3,400.6L407.0,403.5L406.1,402.3ZM393.0,405.8L394.7,405.6L395.3,406.1L393.7,407.7L392.4,406.6ZM406.0,407.4L408.6,407.4L408.8,409.6L407.8,410.6L408.4,412.5L410.8,413.6L409.0,412.7L406.7,412.3L406.0,410.2ZM408.4,420.4L410.2,418.6L412.6,417.3L413.8,420.1L412.6,421.8L411.0,421.4L409.6,419.9ZM409.0,416.5L410.2,415.3L412.0,414.2L413.0,415.9L412.0,417.0L410.2,417.6L409.0,417.6ZM376.5,422.0L379.1,422.5L382.5,425.9L386.5,429.4L389.3,432.0L389.1,435.0L387.5,435.1L384.9,432.9L382.7,430.1L380.7,426.5L378.5,424.4ZM388.3,436.1L389.9,435.2L392.3,435.8L394.7,436.2L397.1,436.2L399.4,437.3L399.2,438.3L394.7,437.7L391.7,437.3L389.3,436.8ZM400.0,437.9L404.8,437.7L408.4,437.8L411.4,437.8L414.4,437.8L412.0,439.1L410.2,440.1L406.0,439.8L401.2,438.6ZM392.9,426.7L393.6,426.1L395.9,425.6L397.7,424.8L400.6,422.1L402.4,420.4L405.1,422.4L403.6,423.3L403.4,426.7L404.8,427.4L403.0,428.4L401.8,430.7L401.2,432.7L399.4,432.9L395.9,432.0L394.3,431.7L394.1,430.1L392.9,428.4ZM405.3,432.4L404.7,431.5L406.0,429.5L407.2,429.4L406.6,427.6L411.0,427.3L412.0,426.7L410.0,429.3L407.8,429.5L409.6,432.5L409.0,433.9L407.2,431.8L406.6,434.7L405.4,434.7ZM415.0,426.1L416.2,426.7L415.6,427.8L416.5,429.3L415.0,429.0L415.3,427.3ZM419.2,429.9L421.0,429.0L422.7,429.4L423.9,432.2L426.9,430.1L429.9,431.1L432.9,432.2L435.9,433.9L437.1,435.8L438.9,435.8L439.5,437.5L441.9,439.8L439.5,440.1L437.7,438.6L434.7,437.2L433.5,438.7L431.1,438.9L429.3,437.7L427.5,437.9L428.1,436.1L426.9,434.3L424.5,433.3L422.2,432.8L421.0,431.6L419.2,430.1ZM440.1,434.7L442.5,434.7L444.3,433.2L444.0,434.7L441.9,435.6L440.1,435.2ZM358.0,421.4L358.5,417.3L359.7,418.7L360.5,420.1L359.4,421.6ZM415.6,431.8L418.6,431.8L418.9,432.7L416.2,432.5ZM410.8,439.8L412.6,438.1L414.7,437.9L412.6,439.0ZM458.6,451.4L459.8,451.8L462.2,453.6L461.6,453.9L459.2,452.3ZM61.6,367.5L63.7,366.8L64.0,367.1L61.3,367.8ZM272.8,382.9L272.4,381.9L273.6,381.6L274.3,382.4L274.1,384.0L272.7,384.1ZM273.0,380.0L274.0,379.6L273.9,381.3L272.9,381.3ZM278.8,385.0L281.3,385.0L280.7,386.7L277.4,385.3ZM290.7,388.3L294.1,388.4L291.9,388.7ZM302.1,388.2L304.0,387.9L301.2,389.0ZM266.2,383.0L266.8,383.3L265.4,383.5ZM276.0,365.0L277.3,364.6L277.7,365.2L275.8,365.7ZM274.5,365.2L275.3,365.2L275.5,365.8L274.3,365.5ZM285.0,362.6L285.2,363.2L284.3,363.6ZM261.0,359.6L261.4,359.5L261.0,360.3ZM254.3,357.6L254.7,357.6L254.0,357.9ZM76.3,405.4L77.7,406.2L76.6,406.9L76.1,406.0ZM75.4,404.6L76.2,404.9L75.7,405.0ZM73.5,403.8L74.2,404.2L73.7,404.2ZM71.7,403.2L72.3,403.3L71.9,403.5Z" fill="#d9d9d9"/><path d="M155.1,345.2L155.6,345.1L156.4,345.0L156.9,344.5L157.5,344.6L157.8,344.5L158.4,344.5L159.0,344.7L159.8,344.4L160.5,344.5L160.9,344.7L161.7,344.4L162.3,344.7L163.1,344.9L163.5,344.7L164.2,344.8L164.5,344.9L165.1,344.5L165.7,344.6L166.4,344.6L167.1,344.9L167.7,345.3L168.0,345.4L168.9,345.5L169.4,345.7L169.9,345.7L170.6,345.9L171.4,345.8L171.8,346.0L172.3,346.2L173.0,346.3L173.6,346.8L174.3,347.0L175.1,347.2L175.4,347.0L175.8,347.2L176.6,347.4L177.0,347.5L177.9,347.8L178.4,348.2L179.2,348.3L179.7,348.3L180.2,348.4L180.8,348.5L181.4,349.4L182.3,349.3L182.8,349.7L182.0,350.5L182.6,350.6L182.9,350.8L183.8,350.8L184.4,351.2L185.1,351.5L185.5,351.5L185.9,351.8L186.8,351.9L187.2,352.3L187.7,352.1L188.5,352.5L189.1,352.8L188.4,353.2L188.0,353.4L187.3,353.3L186.5,353.6L186.2,353.6L185.4,353.7L184.6,354.2L185.0,354.6L184.5,354.1L183.7,354.1L183.2,353.7L182.3,353.2L181.6,353.0L182.3,353.7L182.6,353.9L183.0,354.4L183.6,354.6L184.4,355.0L185.0,355.4L185.6,355.7L185.0,356.4L184.1,356.4L183.7,356.2L183.2,356.1L182.7,356.0L181.7,356.0L181.0,356.0L181.7,356.5L182.5,356.4L183.1,356.6L183.5,357.0L184.2,357.2L185.0,357.2L184.2,357.5L183.8,357.9L182.9,358.1L182.4,357.9L181.9,357.9L181.4,357.6L180.5,357.6L180.0,357.4L179.3,357.0L179.0,357.0L178.5,357.0L177.7,356.8L177.2,356.6L176.5,356.4L176.0,355.9L175.6,355.4L174.8,355.4L174.2,355.2L173.4,355.4L172.9,355.2L172.4,355.1L172.0,355.4L171.0,355.1L170.6,355.4L170.0,355.4L169.4,355.0L170.0,354.2L170.6,354.4L171.2,353.9L172.0,354.0L172.3,354.1L172.8,353.9L173.6,353.9L174.2,353.4L174.8,353.0L175.3,352.8L176.0,352.2L175.4,351.3L175.0,350.9L174.4,350.9L173.6,350.9L173.2,350.6L172.3,350.5L171.7,350.6L171.2,350.2L170.4,350.0L169.9,349.6L169.4,349.4L169.1,349.3L168.5,348.9L167.6,349.1L167.3,349.2L166.3,349.3L165.7,349.3L165.2,349.2L164.7,348.9L164.2,349.0L163.5,348.8L162.9,348.7L162.0,348.8L161.9,348.7L161.2,348.8L160.5,348.8L159.7,348.6L159.2,348.6L158.9,348.7L158.1,348.6L157.2,348.0L156.5,347.8L155.7,347.1L155.1,346.2ZM166.4,344.6L166.9,344.6L167.5,344.7L168.4,344.7L168.8,344.5L169.4,344.5L170.0,344.6L170.9,345.0L171.2,345.2L170.4,345.6L169.9,345.5L169.4,345.7L169.1,345.5L168.0,345.3L167.9,345.2L166.8,345.4L166.6,345.3L165.8,345.1ZM159.3,354.3L159.7,353.9L160.5,353.4L160.9,353.3L161.7,353.2L162.3,353.4L162.8,353.6L163.6,353.9L164.1,354.2L164.5,354.6L165.2,355.1L165.8,355.2L166.8,355.7L165.8,356.1L165.2,356.2L164.7,356.3L164.1,356.0L163.4,355.7L162.9,355.9L162.3,355.8L161.6,356.2L160.9,356.1L160.5,356.4L159.7,355.9L159.3,355.3ZM163.4,356.9L164.1,356.8L164.7,356.8L165.2,357.0L165.8,357.7L165.3,357.6L164.9,357.5L164.1,357.2L163.6,357.1L162.9,357.0ZM170.3,351.0L170.9,350.9L171.7,351.4L172.1,351.4L171.5,351.4L170.7,351.5L170.0,351.8ZM121.4,348.7L122.3,348.7L122.6,348.4L123.4,348.2L123.8,348.3L124.4,348.1L125.4,348.0L125.6,348.0L126.5,348.3L127.2,347.9L127.6,348.2L126.9,347.8L126.4,348.0L126.1,347.7L125.0,347.8L124.6,347.7L124.0,347.7L123.3,347.7L122.9,347.7L122.3,347.5L121.6,347.4L120.8,347.2L120.4,346.8L121.1,346.4L121.6,346.1L122.0,345.6L122.8,345.5L123.6,345.2L123.8,345.5L124.4,345.1L125.1,345.4L125.8,345.1L126.4,345.0L127.2,345.4L127.4,345.2L128.2,345.4L128.6,345.8L129.4,345.7L130.1,345.7L130.4,345.4L131.2,345.5L131.9,345.5L132.2,345.6L133.0,345.9L133.4,345.5L134.2,345.6L134.8,345.1L135.4,345.1L135.9,345.4L136.6,345.5L137.2,345.5L137.4,346.0L138.1,346.2L138.6,346.7L139.4,346.9L140.2,347.1L140.9,347.8L141.3,348.3L141.1,349.0L140.8,349.4L140.1,349.8L139.4,349.9L139.1,349.8L138.4,350.0L137.6,349.9L137.4,350.1L136.7,349.8L136.0,349.7L135.4,349.7L134.7,350.0L134.3,349.8L133.5,350.0L133.0,350.3L132.5,350.3L131.7,350.4L131.0,350.6L130.4,350.3L130.0,350.4L129.3,350.6L128.6,350.3L128.4,350.4L127.5,350.6L127.0,350.5L126.3,350.4L125.6,350.3L125.1,349.9L124.6,350.0L124.3,349.8L123.3,349.5L122.8,349.6L122.0,349.2ZM113.5,346.0L113.6,345.7L113.5,344.6L114.2,344.5L114.9,343.9L115.6,343.8L116.2,343.8L116.6,343.7L117.2,343.9L117.9,344.1L118.6,343.8L119.3,343.8L119.9,343.7L120.6,343.8L121.0,343.8L121.4,344.0L122.4,343.9L122.8,344.1L123.6,344.3L123.8,344.4L124.6,344.9L124.1,344.9L123.6,345.3L122.7,345.4L122.1,345.4L121.6,345.6L120.9,346.2L120.4,346.4L119.6,346.8L118.9,347.1L118.1,347.4L117.4,347.5L116.7,347.5L116.0,347.6L115.7,347.6L114.8,347.4L114.3,347.1L113.4,347.0L113.0,346.7ZM115.2,341.9L114.7,341.7L115.7,341.1L116.3,341.0L117.1,341.1L117.4,341.0L118.1,340.8L118.7,340.8L119.3,340.5L119.8,340.5L120.2,340.7L121.1,340.8L121.8,340.6L122.0,340.7L122.9,340.7L123.4,340.5L122.8,341.2L122.4,341.3L121.6,341.4L121.0,341.6L120.6,341.4L119.8,341.8L119.4,342.0L118.4,342.0L118.2,342.1L117.5,342.2L116.9,342.1L116.3,342.1ZM122.2,342.9L122.9,342.9L123.5,342.9L124.3,342.8L124.6,342.6L123.8,342.3L123.2,342.4L122.5,342.2L123.3,342.1L123.7,341.7L124.3,341.8L125.2,341.4L125.8,341.3L126.5,341.4L127.1,341.6L127.8,341.4L128.2,341.4L128.9,341.2L129.6,341.2L129.9,341.0L130.6,341.3L131.2,341.1L131.7,341.3L132.3,341.1L133.0,341.4L133.4,341.6L134.2,342.0L134.7,342.3L135.3,342.2L136.2,342.1L136.6,342.2L136.0,343.1L135.3,343.3L135.0,343.4L134.4,343.2L133.8,343.6L132.7,343.3L132.3,343.4L131.6,343.7L131.2,343.8L130.6,343.7L129.7,343.7L129.4,343.9L128.7,343.5L128.4,343.6L127.8,343.6L127.2,343.8L126.2,343.6L125.8,343.6L125.1,343.5L124.5,343.2L124.0,343.5L123.6,343.1L122.8,343.3ZM127.0,339.6L127.8,339.7L128.2,339.5L129.0,339.7L129.2,339.6L129.9,339.5L130.6,339.4L131.1,339.6L131.9,339.8L132.4,339.7L133.0,340.1L132.3,340.3L131.7,340.5L131.0,340.6L130.6,340.5L130.0,340.7L129.6,340.2L128.8,340.6L128.1,340.2L127.4,340.5L127.0,340.3ZM128.6,338.8L129.4,338.7L130.0,339.0L130.8,338.8L130.9,338.8L131.8,338.9L131.2,339.4L130.7,339.6L130.1,339.2L129.1,339.4L128.4,339.4L127.8,339.3ZM141.9,343.1L141.4,342.7L140.5,342.7L140.2,342.2L140.8,342.0L141.2,342.0L141.9,341.7L142.6,341.7L143.0,341.2L143.5,341.2L144.3,341.2L144.9,341.1L145.6,341.2L146.4,341.4L146.7,341.7L146.1,342.2L145.5,343.1L144.9,343.1L144.1,343.3L144.0,343.3L143.3,343.0L142.5,343.1ZM147.3,342.8L147.9,342.6L148.4,342.8L149.1,342.5L150.1,342.5L150.4,342.9L151.3,342.9L150.9,343.5L150.5,343.5L150.0,343.4L149.0,343.5L148.6,343.7L147.9,343.5ZM167.6,343.1L167.0,343.5L166.5,343.3L165.8,343.7L165.1,344.0L164.6,343.8L164.1,343.9L163.6,343.6L162.9,343.9L162.5,343.8L161.8,343.9L161.1,343.7L160.3,343.6L159.8,343.5L159.3,343.9L158.5,343.8L158.2,343.5L157.3,343.8L156.9,343.7L156.1,343.4L155.5,343.9L154.9,343.7L154.7,343.4L154.0,343.3L153.3,343.5L153.1,343.1L152.5,342.6L151.5,342.1L150.9,342.0L150.4,342.2L149.8,341.9L149.1,341.8L148.3,341.9L147.9,341.6L148.4,341.4L149.1,341.1L150.0,341.3L150.6,341.3L150.8,341.0L151.7,341.3L151.9,341.3L152.6,341.1L153.1,341.4L153.9,341.3L154.7,341.6L155.0,341.3L155.8,341.7L156.3,341.6L156.6,341.7L157.7,341.6L158.2,341.3L158.7,341.4L159.2,341.6L160.1,341.4L160.3,341.4L161.0,341.6L161.4,341.4L162.3,341.6L163.1,341.5L163.7,341.9L163.9,341.7L164.9,341.5L165.2,341.8L165.8,342.1L166.4,342.1L167.3,342.5L167.6,342.5ZM156.1,341.1L157.0,341.0L157.3,340.8L157.8,341.1L158.7,340.9L158.1,340.9L157.3,340.8L156.9,340.3L156.5,340.6L155.7,340.3L156.5,340.1L156.9,339.7L157.6,339.7L157.8,339.4L158.7,339.2L159.4,338.8L160.1,339.1L160.5,338.5L161.1,338.6L160.3,337.9L159.9,337.7L159.4,337.3L158.9,337.0L158.3,337.3L157.5,336.9L156.9,336.8L156.3,336.9L155.8,336.4L155.2,336.7L154.5,336.6L153.7,336.2L153.3,336.1L153.7,336.1L154.5,336.2L155.1,336.1L155.8,335.7L156.3,335.8L156.9,335.7L157.2,335.4L158.1,335.3L158.6,335.1L159.2,335.0L159.9,334.9L160.5,334.9L161.1,334.7L161.8,334.8L162.4,334.8L162.6,334.5L163.6,334.2L163.9,334.5L164.7,334.3L165.3,334.3L165.7,334.3L166.6,334.4L167.0,334.0L167.8,334.3L168.4,334.3L169.0,334.1L169.7,334.2L170.0,334.3L170.6,334.1L171.5,333.8L171.7,334.2L172.6,333.8L172.8,334.0L173.6,333.8L174.0,334.1L174.7,334.0L175.2,333.9L176.1,333.7L176.6,333.9L176.9,333.9L177.8,334.1L178.3,333.8L178.9,333.8L179.3,333.8L180.3,334.2L180.7,334.2L181.4,334.1L182.2,333.8L182.5,334.2L183.1,334.1L183.7,333.9L184.3,334.3L184.8,334.1L185.6,334.5L186.2,334.3L186.7,334.3L187.1,334.6L188.1,334.5L188.4,334.7L189.1,334.6L188.5,335.0L188.0,335.3L187.1,335.4L186.8,335.6L186.2,335.6L185.4,335.7L184.8,336.1L184.2,336.2L183.8,336.2L183.4,336.6L182.6,336.6L181.9,336.5L181.6,336.7L181.0,336.8L180.4,336.8L179.6,336.9L178.8,337.3L178.1,337.5L177.8,337.6L177.4,337.5L176.6,337.6L176.3,338.1L175.6,338.0L174.8,338.3L174.2,338.3L173.6,338.3L173.0,338.8L172.5,339.1L171.6,338.9L171.1,339.4L170.6,339.4L170.2,339.9L169.5,340.2L168.8,340.5L168.4,341.0L167.7,341.5L167.0,341.7L166.6,341.5L165.9,341.6L165.1,341.7L164.8,341.7L163.8,341.7L163.5,341.7L162.7,341.9L162.5,341.4L161.6,341.4L160.8,341.6L160.3,341.8L159.9,341.6L159.1,341.4L158.8,341.7L158.0,341.5L157.5,341.5L157.1,341.3L156.4,341.2L155.7,341.3ZM147.1,337.1L147.9,336.6L148.6,336.7L148.9,336.5L149.7,336.0L150.4,336.1L150.9,336.0L151.3,336.3L152.0,336.5L152.7,336.3L153.3,336.6L154.0,336.5L154.7,337.1L155.1,337.2L155.7,338.0L155.2,338.7L154.5,338.8L153.9,339.1L153.2,338.9L153.0,339.1L152.3,339.3L151.5,339.3L151.0,339.2L150.1,338.8L149.8,338.7L149.3,338.7L148.5,338.6L148.0,338.3L147.1,337.8L146.7,337.5ZM138.1,339.1L138.8,338.7L139.6,338.6L140.4,338.5L140.8,338.7L141.4,338.7L141.7,338.6L142.5,338.7L143.1,339.2L143.7,339.4L143.3,339.4L142.3,339.7L141.9,340.0L141.2,340.1L140.6,339.6L140.2,339.7L139.6,339.8L138.8,339.5L138.2,339.6L137.8,339.4ZM144.6,339.2L145.4,338.9L146.1,338.7L146.6,338.7L147.6,339.0L147.9,338.9L147.3,339.5L146.5,339.6L145.9,339.5L145.5,339.9L144.9,339.9ZM148.4,345.4L148.5,344.9L149.3,344.5L149.7,344.2L150.3,344.2L151.0,344.3L151.6,344.0L152.0,344.0L152.7,344.2L153.3,344.6L154.0,344.7L154.9,344.7L154.5,345.2L153.9,345.5L153.4,345.8L152.4,345.8L152.1,346.2L151.7,346.2L150.7,346.3L150.3,346.6L149.6,346.5L149.3,346.3L148.5,346.0ZM140.5,345.8L140.2,345.7L140.6,345.5L141.3,344.9L141.7,344.5L142.4,344.6L143.2,344.6L143.7,344.4L144.3,344.3L145.0,344.3L145.5,344.3L146.1,344.5L146.6,344.7L147.0,345.3L147.3,345.9L146.6,346.1L146.1,346.8L145.7,346.9L145.1,347.0L144.5,346.7L143.7,347.0L143.0,347.0L142.7,346.9L142.2,346.6L141.3,346.3ZM144.3,349.4L145.2,349.0L145.5,348.9L145.9,348.9L146.9,349.0L147.3,349.3L147.8,349.5L148.5,350.0L147.7,350.3L147.3,350.8L146.8,350.6L146.2,350.6L145.3,350.9L144.9,350.7L144.3,350.5L143.7,350.1ZM153.9,340.3L154.6,340.4L155.2,340.1L155.7,340.2L156.3,340.8L155.9,340.6L154.9,340.9L154.3,340.8L153.9,340.6ZM146.5,342.2L147.6,342.5L146.7,342.8Z" fill="#d9d9d9" stroke="#d9d9d9" stroke-width="1.2" stroke-linejoin="round"/><path d="M296.0,380.5L296.1,379.3L296.9,378.0L298.0,377.0L298.7,376.2L299.7,375.4L300.9,375.7L302.8,376.2L301.5,376.8L302.5,377.7L303.3,377.9L304.9,377.2L306.4,376.9L307.2,377.2L308.8,377.9L310.7,379.1L312.3,380.1L312.3,381.2L310.4,381.8L308.4,381.9L306.2,381.5L304.7,380.7L302.7,380.7L299.7,381.7L297.3,381.6L296.2,381.2ZM304.2,376.3L304.7,375.8L306.2,375.4L308.3,374.9L309.6,374.7L308.0,376.1L306.4,376.8L305.1,376.9L304.5,376.7Z" fill="#fff"/><text x="30.3" y="329.7" font-size="10.00" text-anchor="end" fill="#111" font-weight="normal" font-family="Liberation Sans, sans-serif" >90°N</text><line x1="31.8" y1="326.1" x2="35.7" y2="326.1" stroke="#333" stroke-width="0.9"/><text x="30.3" y="363.8" font-size="10.00" text-anchor="end" fill="#111" font-weight="normal" font-family="Liberation Sans, sans-serif" >60°N</text><line x1="31.8" y1="360.2" x2="35.7" y2="360.2" stroke="#333" stroke-width="0.9"/><text x="30.3" y="397.9" font-size="10.00" text-anchor="end" fill="#111" font-weight="normal" font-family="Liberation Sans, sans-serif" >30°N</text><line x1="31.8" y1="394.3" x2="35.7" y2="394.3" stroke="#333" stroke-width="0.9"/><text x="30.3" y="432.0" font-size="10.00" text-anchor="end" fill="#111" font-weight="normal" font-family="Liberation Sans, sans-serif" >0°</text><line x1="31.8" y1="428.4" x2="35.7" y2="428.4" stroke="#333" stroke-width="0.9"/><text x="30.3" y="466.1" font-size="10.00" text-anchor="end" fill="#111" font-weight="normal" font-family="Liberation Sans, sans-serif" >30°S</text><line x1="31.8" y1="462.5" x2="35.7" y2="462.5" stroke="#333" stroke-width="0.9"/><text x="30.3" y="500.2" font-size="10.00" text-anchor="end" fill="#111" font-weight="normal" font-family="Liberation Sans, sans-serif" >60°S</text><line x1="31.8" y1="496.6" x2="35.7" y2="496.6" stroke="#333" stroke-width="0.9"/><text x="30.3" y="534.3" font-size="10.00" text-anchor="end" fill="#111" font-weight="normal" font-family="Liberation Sans, sans-serif" >90°S</text><line x1="31.8" y1="530.7" x2="35.7" y2="530.7" stroke="#333" stroke-width="0.9"/><path d="M49.3,71.9L49.9,72.1L50.5,71.8L50.8,71.8L51.7,71.7L52.3,71.7L52.7,71.5L53.7,71.3L54.0,71.4L54.6,71.3L55.3,71.4L55.7,71.1L56.8,71.2L57.1,71.1L57.7,71.4L58.3,71.0L59.2,71.1L59.3,71.0L59.9,70.5L60.7,70.6L61.1,70.6L62.1,70.3L62.4,69.9L63.3,69.8L64.0,69.5L64.6,69.6L65.3,69.0L65.7,69.0L66.2,69.0L67.1,68.7L67.9,68.5L68.3,68.5L69.0,68.3L69.7,67.9L70.4,67.5L70.8,67.4L71.7,67.3L72.6,67.2L73.3,66.5L73.8,66.5L74.4,66.2L75.2,65.9L75.6,65.4L76.2,65.3L77.0,65.2L77.3,65.0L78.0,64.4L78.6,64.4L78.8,63.6L78.6,63.3L79.5,62.7L79.7,62.6L80.6,62.3L81.6,61.8L81.9,61.8L82.8,61.6L83.4,61.2L83.6,62.0L83.8,62.4L84.0,62.9L84.3,62.8L85.5,62.2L85.8,62.0L86.6,61.9L87.2,61.8L87.8,62.2L88.2,61.9L88.9,62.2L89.5,62.3L90.0,62.1L90.6,62.6L91.2,62.6L91.8,62.6L92.6,62.7L92.8,62.5L93.6,62.6L93.9,62.6L95.0,62.8L95.2,62.9L95.9,62.9L96.6,63.4L97.1,63.7L98.0,63.7L98.6,64.1L99.5,64.3L100.0,64.6L100.5,64.6L101.5,64.7L101.9,64.9L102.6,65.2L102.9,65.7L103.7,66.2L104.3,66.7L105.0,67.2L105.5,67.7L106.0,68.3L106.7,68.5L107.3,69.2L107.6,69.6L108.1,69.9L108.3,70.5L109.1,70.8L109.7,71.5L109.9,71.9L110.5,72.2L110.8,72.2L111.5,72.8L112.0,72.9L112.5,73.5L113.5,73.5L113.9,73.7L114.1,74.1L114.9,74.3L115.4,74.8L115.9,75.7M115.3,75.8L114.4,75.8L114.2,75.3L113.3,75.3L112.5,75.1L112.1,74.6L111.6,74.3L111.2,74.2L110.6,73.7L110.0,73.6L109.3,73.3" fill="none" stroke="#e09ccb" stroke-width="1.80" stroke-linejoin="round" stroke-linecap="round"/><path d="M195.7,47.3L195.9,48.1L196.2,48.7L196.3,49.2L196.7,49.5L197.3,49.3L197.9,49.3L198.5,49.4L199.1,49.9L199.9,49.8L199.4,50.1L198.8,50.4L198.1,50.4L198.5,50.5L199.5,50.7L200.2,51.3L200.7,51.3L201.3,51.6L201.5,51.9L201.7,52.7L201.0,52.6L200.6,53.2L199.7,53.1L199.5,53.4L198.7,53.4L198.6,53.9L198.5,54.4L198.6,55.1L199.1,55.9L199.7,56.3L200.0,56.8L200.4,57.2L200.9,57.7L201.4,58.0L202.3,58.6L202.7,59.2L203.2,60.0L203.8,60.4L204.1,60.7L204.7,61.2L205.5,61.2L205.9,61.6L206.3,61.4L207.2,61.5L207.7,61.8L208.2,62.0L209.1,62.1L209.5,62.5L210.1,62.6L210.7,62.6L211.2,61.9L211.7,61.5M185.4,62.3L185.8,62.8L186.4,63.3L186.8,64.1L187.4,64.7L187.5,65.2L188.2,65.5L188.8,65.9L189.1,66.6L189.5,66.9L190.5,67.3L190.9,67.9L191.6,68.2L192.3,68.2L192.8,68.3L193.3,68.9L193.9,68.9L194.5,69.1L195.0,69.5L195.7,70.0L196.1,70.8L196.1,71.5L195.4,71.7L194.6,72.2L193.9,72.4L193.2,72.5L192.9,72.9L191.9,73.1L191.7,73.6L190.9,73.7L190.4,73.6L189.9,73.7L189.1,73.7L188.4,73.9L187.8,73.6L187.3,73.7L186.7,73.7L186.2,73.7L185.4,73.9L185.2,73.8L184.2,73.7L183.9,73.9L183.2,73.7L182.6,74.1L182.0,74.5L181.2,74.3L180.8,74.8L180.4,75.3L179.6,75.9L179.0,76.2M185.8,75.2L185.6,75.9L185.2,76.6L185.4,77.1L185.2,77.9L186.1,77.9L186.8,78.3L187.2,78.6L187.8,78.7L188.3,78.9L189.1,78.9L189.9,78.4L190.7,78.3L191.2,78.5L190.4,78.8L189.7,79.4L189.3,79.8L188.6,79.7L187.8,79.6L187.2,79.9L186.8,80.1L186.2,80.2L185.6,80.7L184.9,81.1L184.4,81.2L183.5,80.4L184.4,79.8L184.8,79.9L185.6,79.3L184.8,79.4L184.6,79.2L183.8,79.4L183.2,79.9L182.3,80.0L181.7,80.2L180.8,80.6L180.2,80.6L179.2,81.2L178.8,81.2M191.7,76.7L192.4,76.6L193.0,77.0L193.5,76.9L193.9,77.2L194.6,77.4L195.3,77.4L196.0,77.4L196.5,77.6L197.4,77.8L198.1,77.8L198.7,77.7L199.0,77.0L199.7,76.7L199.2,76.0L199.2,75.5L198.7,75.1L197.9,74.9L197.3,74.5L197.1,74.4L196.3,74.3L196.2,73.7L196.3,72.9L196.1,72.1L195.4,72.5L194.5,72.5L193.9,73.2L193.7,73.5L193.0,73.9L192.7,74.5L192.3,75.0L191.8,75.5L191.7,75.9L191.7,76.7M237.5,58.3L237.1,58.3L236.2,58.2L235.7,58.2L235.1,57.6L234.4,57.2L234.0,57.0L234.3,56.7L235.2,56.8L235.7,56.6L236.3,56.3L235.5,56.5L234.9,56.1L234.5,56.1L233.6,56.2L234.1,56.0L235.2,55.8L235.7,55.3L236.5,55.5L237.2,55.6L237.7,55.5L238.0,55.7L238.9,55.5L239.2,55.6L240.1,55.8L240.5,55.7L241.2,55.7L241.6,55.4L242.4,55.5L242.7,55.5L243.5,55.2L244.2,55.4L244.6,55.8L245.3,55.9M269.3,64.1L269.0,63.2L268.8,62.5L268.6,62.0L268.8,61.4L268.6,60.8L269.0,60.1L269.5,60.1L270.4,59.6L271.1,59.4L271.6,59.1L272.4,59.1L273.0,58.6L274.0,58.4L274.6,57.9L275.5,57.3L276.0,57.0L276.7,56.7L277.3,56.0M256.7,64.2L256.4,64.7L255.7,65.1L256.0,65.8L255.7,66.1L255.9,66.8L256.7,67.7" fill="none" stroke="#a9c3b1" stroke-width="1.60" stroke-linejoin="round" stroke-linecap="round"/><path d="M174.8,178.0L174.8,178.4L174.4,179.1L174.7,179.9L174.7,180.5L174.4,180.8L174.1,181.3L173.5,181.7L173.0,182.5L173.4,183.3L173.6,184.0L173.4,184.2L172.9,185.0L172.4,185.4L172.4,186.0L172.7,186.6L172.5,187.0L172.7,187.6L172.8,188.3L173.3,188.6L173.4,189.4L173.6,189.9L174.0,190.5L174.6,190.8L175.4,191.3L176.1,192.0L176.9,192.4L177.2,192.7L178.0,192.8L178.7,193.4L179.0,193.5L179.5,193.3L179.9,193.9L180.8,193.7L181.4,193.5L182.2,193.2L182.6,193.2M190.2,189.3L190.9,189.1L191.5,189.3L192.1,189.3L193.0,189.6L191.9,189.8L191.3,189.9L190.5,189.8M217.5,192.3L218.0,192.4L218.6,192.3L219.3,192.6L218.7,192.9M461.6,183.1L461.9,182.2L462.6,181.7L462.9,181.3L463.7,180.8" fill="none" stroke="#cdb85c" stroke-width="3.00" stroke-linejoin="round" stroke-linecap="round"/><path d="M179.6,209.0L180.0,208.6L180.5,208.1L181.2,208.0L181.4,207.6L181.8,207.4L182.5,207.3L182.7,206.8L183.2,206.7L183.5,206.5L184.3,206.0L184.5,206.1L185.0,205.6L185.6,205.3L186.0,205.0L186.5,205.0L186.8,204.8L187.0,204.6L187.7,204.3L188.0,204.2L188.5,203.8L189.2,203.5L189.7,203.2L190.3,203.2L190.9,203.3L191.3,202.8L191.7,202.8L192.0,202.8L192.7,202.6L193.4,202.6L193.8,202.7L194.2,202.5L194.5,202.4L195.1,202.4M180.8,209.8L181.2,209.2L181.7,209.1L181.9,208.8L182.6,208.3L183.1,208.2L183.3,207.8L183.9,207.2L184.4,207.0L184.9,206.5L185.1,206.6L185.8,206.2L186.2,205.8L186.7,205.7L186.9,205.5L187.3,205.0L188.0,204.9L188.4,204.8L188.8,204.6L189.1,204.2L189.7,204.2L190.2,203.8L190.6,203.8L191.0,203.9L191.5,203.5M188.0,202.0L188.7,201.8L188.9,201.7L189.6,201.9L190.0,201.6L190.4,201.6L190.9,201.7L191.3,201.7L192.0,201.7L192.3,201.4L192.8,201.3L193.3,201.4L193.8,201.4L194.5,201.2L195.1,200.9" fill="none" stroke="#52529f" stroke-width="2.40" stroke-linejoin="round" stroke-linecap="round"/><path d="M195.7,47.3L196.3,49.2L199.9,49.8L198.1,50.4L201.3,51.6L201.7,52.7L198.7,53.4L198.6,55.1L199.7,56.3L200.9,57.7L202.3,58.6L203.2,60.0L204.7,61.2L207.7,61.8" fill="none" stroke="#a9c3b1" stroke-width="2.00" stroke-linejoin="round" stroke-linecap="round" stroke-opacity="0.9"/><path d="M269.3,64.1L269.0,63.2L268.6,62.0L268.6,60.8L269.0,60.1L270.4,59.6L271.6,59.1L273.0,58.6L274.6,57.9L276.0,57.0L277.3,56.0L278.4,54.8" fill="none" stroke="#a9c3b1" stroke-width="2.60" stroke-linejoin="round" stroke-linecap="round" stroke-opacity="0.9"/><path d="M155.1,47.6L155.6,47.5L156.4,47.4L156.9,46.9L157.5,47.0L157.8,46.9L158.4,46.9L159.0,47.1L159.8,46.8L160.5,46.9L160.9,47.1L161.7,46.8L162.3,47.1L163.1,47.3L163.5,47.1L164.2,47.2L164.5,47.3L165.1,46.9L165.7,47.0L166.4,47.0L167.1,47.3L167.7,47.7L168.0,47.8L168.9,47.9L169.4,48.1L169.9,48.1L170.6,48.3L171.4,48.2L171.8,48.4L172.3,48.6L173.0,48.7L173.6,49.2L174.3,49.4L175.1,49.6L175.4,49.4L175.8,49.6L176.6,49.8L177.0,49.9L177.9,50.2L178.4,50.6L179.2,50.7L179.7,50.7L180.2,50.8L180.8,50.9L181.4,51.8L182.3,51.7L182.8,52.1L182.0,52.9L182.6,53.0L182.9,53.2L183.8,53.2L184.4,53.6L185.1,53.9L185.5,53.9L185.9,54.2L186.8,54.3L187.2,54.7L187.7,54.5L188.5,54.9L189.1,55.2L188.4,55.6L188.0,55.8L187.3,55.7L186.5,56.0L186.2,56.0L185.4,56.1L184.6,56.6L185.0,57.0L184.5,56.5L183.7,56.5L183.2,56.1L182.3,55.6L181.6,55.4L182.3,56.1L182.6,56.3L183.0,56.8L183.6,57.0L184.4,57.4L185.0,57.8L185.6,58.1L185.0,58.8L184.1,58.8L183.7,58.6L183.2,58.5L182.7,58.4L181.7,58.4L181.0,58.4L181.7,58.9L182.5,58.8L183.1,59.0L183.5,59.4L184.2,59.6L185.0,59.6L184.2,59.9L183.8,60.3L182.9,60.5L182.4,60.3L181.9,60.3L181.4,60.0L180.5,60.0L180.0,59.8L179.3,59.4L179.0,59.4L178.5,59.4L177.7,59.2L177.2,59.0L176.5,58.8L176.0,58.3L175.6,57.8L174.8,57.8L174.2,57.6L173.4,57.8L172.9,57.6L172.4,57.5L172.0,57.8L171.0,57.5L170.6,57.8L170.0,57.8L169.4,57.4L170.0,56.6L170.6,56.8L171.2,56.3L172.0,56.4L172.3,56.5L172.8,56.3L173.6,56.3L174.2,55.8L174.8,55.4L175.3,55.2L176.0,54.6L175.4,53.7L175.0,53.3L174.4,53.3L173.6,53.3L173.2,53.0L172.3,52.9L171.7,53.0L171.2,52.6L170.4,52.4L169.9,52.0L169.4,51.8L169.1,51.7L168.5,51.3L167.6,51.5L167.3,51.6L166.3,51.7L165.7,51.7L165.2,51.6L164.7,51.3L164.2,51.4L163.5,51.2L162.9,51.1L162.0,51.2L161.9,51.1L161.2,51.2L160.5,51.2L159.7,51.0L159.2,51.0L158.9,51.1L158.1,51.0L157.2,50.4L156.5,50.2L155.7,49.5L155.1,48.6ZM166.4,47.0L166.9,47.0L167.5,47.1L168.4,47.1L168.8,46.9L169.4,46.9L170.0,47.0L170.9,47.4L171.2,47.6L170.4,48.0L169.9,47.9L169.4,48.1L169.1,47.9L168.0,47.7L167.9,47.6L166.8,47.8L166.6,47.7L165.8,47.5ZM159.3,56.7L159.7,56.3L160.5,55.8L160.9,55.7L161.7,55.6L162.3,55.8L162.8,56.0L163.6,56.3L164.1,56.6L164.5,57.0L165.2,57.5L165.8,57.6L166.8,58.1L165.8,58.5L165.2,58.6L164.7,58.7L164.1,58.4L163.4,58.1L162.9,58.3L162.3,58.2L161.6,58.6L160.9,58.5L160.5,58.8L159.7,58.3L159.3,57.7ZM163.4,59.3L164.1,59.2L164.7,59.2L165.2,59.4L165.8,60.1L165.3,60.0L164.9,59.9L164.1,59.6L163.6,59.5L162.9,59.4ZM170.3,53.4L170.9,53.3L171.7,53.8L172.1,53.8L171.5,53.8L170.7,53.9L170.0,54.2ZM121.4,51.1L122.3,51.1L122.6,50.8L123.4,50.6L123.8,50.7L124.4,50.5L125.4,50.4L125.6,50.4L126.5,50.7L127.2,50.3L127.6,50.6L126.9,50.2L126.4,50.4L126.1,50.1L125.0,50.2L124.6,50.1L124.0,50.1L123.3,50.1L122.9,50.1L122.3,49.9L121.6,49.8L120.8,49.6L120.4,49.2L121.1,48.8L121.6,48.5L122.0,48.0L122.8,47.9L123.6,47.6L123.8,47.9L124.4,47.5L125.1,47.8L125.8,47.5L126.4,47.4L127.2,47.8L127.4,47.6L128.2,47.8L128.6,48.2L129.4,48.1L130.1,48.1L130.4,47.8L131.2,47.9L131.9,47.9L132.2,48.0L133.0,48.3L133.4,47.9L134.2,48.0L134.8,47.5L135.4,47.5L135.9,47.8L136.6,47.9L137.2,47.9L137.4,48.4L138.1,48.6L138.6,49.1L139.4,49.3L140.2,49.5L140.9,50.2L141.3,50.7L141.1,51.4L140.8,51.8L140.1,52.2L139.4,52.3L139.1,52.2L138.4,52.4L137.6,52.3L137.4,52.5L136.7,52.2L136.0,52.1L135.4,52.1L134.7,52.4L134.3,52.2L133.5,52.4L133.0,52.7L132.5,52.7L131.7,52.8L131.0,53.0L130.4,52.7L130.0,52.8L129.3,53.0L128.6,52.7L128.4,52.8L127.5,53.0L127.0,52.9L126.3,52.8L125.6,52.7L125.1,52.3L124.6,52.4L124.3,52.2L123.3,51.9L122.8,52.0L122.0,51.6ZM113.5,48.4L113.6,48.1L113.5,47.0L114.2,46.9L114.9,46.3L115.6,46.2L116.2,46.2L116.6,46.1L117.2,46.3L117.9,46.5L118.6,46.2L119.3,46.2L119.9,46.1L120.6,46.2L121.0,46.2L121.4,46.4L122.4,46.3L122.8,46.5L123.6,46.7L123.8,46.8L124.6,47.3L124.1,47.3L123.6,47.7L122.7,47.8L122.1,47.8L121.6,48.0L120.9,48.6L120.4,48.8L119.6,49.2L118.9,49.5L118.1,49.8L117.4,49.9L116.7,49.9L116.0,50.0L115.7,50.0L114.8,49.8L114.3,49.5L113.4,49.4L113.0,49.1ZM115.2,44.3L114.7,44.1L115.7,43.5L116.3,43.4L117.1,43.5L117.4,43.4L118.1,43.2L118.7,43.2L119.3,42.9L119.8,42.9L120.2,43.1L121.1,43.2L121.8,43.0L122.0,43.1L122.9,43.1L123.4,42.9L122.8,43.6L122.4,43.7L121.6,43.8L121.0,44.0L120.6,43.8L119.8,44.2L119.4,44.4L118.4,44.4L118.2,44.5L117.5,44.6L116.9,44.5L116.3,44.5ZM122.2,45.3L122.9,45.3L123.5,45.3L124.3,45.2L124.6,45.0L123.8,44.7L123.2,44.8L122.5,44.6L123.3,44.5L123.7,44.1L124.3,44.2L125.2,43.8L125.8,43.7L126.5,43.8L127.1,44.0L127.8,43.8L128.2,43.8L128.9,43.6L129.6,43.6L129.9,43.4L130.6,43.7L131.2,43.5L131.7,43.7L132.3,43.5L133.0,43.8L133.4,44.0L134.2,44.4L134.7,44.7L135.3,44.6L136.2,44.5L136.6,44.6L136.0,45.6L135.3,45.7L135.0,45.8L134.4,45.6L133.8,46.0L132.7,45.7L132.3,45.8L131.6,46.1L131.2,46.2L130.6,46.1L129.7,46.1L129.4,46.3L128.7,45.9L128.4,46.0L127.8,46.0L127.2,46.2L126.2,46.0L125.8,46.0L125.1,45.9L124.5,45.6L124.0,45.9L123.6,45.5L122.8,45.7ZM127.0,42.0L127.8,42.1L128.2,41.9L129.0,42.1L129.2,42.0L129.9,41.9L130.6,41.8L131.1,42.0L131.9,42.2L132.4,42.1L133.0,42.5L132.3,42.7L131.7,42.9L131.0,43.0L130.6,42.9L130.0,43.1L129.6,42.6L128.8,43.0L128.1,42.6L127.4,42.9L127.0,42.7ZM128.6,41.2L129.4,41.1L130.0,41.4L130.8,41.2L130.9,41.2L131.8,41.3L131.2,41.8L130.7,42.0L130.1,41.6L129.1,41.8L128.4,41.8L127.8,41.7ZM141.9,45.5L141.4,45.1L140.5,45.1L140.2,44.6L140.8,44.4L141.2,44.4L141.9,44.1L142.6,44.1L143.0,43.6L143.5,43.6L144.3,43.6L144.9,43.5L145.6,43.6L146.4,43.8L146.7,44.1L146.1,44.6L145.5,45.6L144.9,45.5L144.1,45.7L144.0,45.7L143.3,45.4L142.5,45.6ZM147.3,45.2L147.9,45.0L148.4,45.2L149.1,44.9L150.1,44.9L150.4,45.3L151.3,45.3L150.9,45.9L150.5,45.9L150.0,45.8L149.0,45.9L148.6,46.1L147.9,45.9ZM167.6,45.6L167.0,45.9L166.5,45.7L165.8,46.1L165.1,46.4L164.6,46.2L164.1,46.3L163.6,46.0L162.9,46.3L162.5,46.2L161.8,46.3L161.1,46.1L160.3,46.0L159.8,45.9L159.3,46.3L158.5,46.2L158.2,45.9L157.3,46.2L156.9,46.1L156.1,45.8L155.5,46.3L154.9,46.1L154.7,45.8L154.0,45.7L153.3,45.9L153.1,45.5L152.5,45.0L151.5,44.5L150.9,44.4L150.4,44.6L149.8,44.3L149.1,44.2L148.3,44.3L147.9,44.0L148.4,43.8L149.1,43.5L150.0,43.7L150.6,43.7L150.8,43.4L151.7,43.7L151.9,43.7L152.6,43.5L153.1,43.8L153.9,43.7L154.7,44.0L155.0,43.7L155.8,44.1L156.3,44.0L156.6,44.1L157.7,44.0L158.2,43.7L158.7,43.8L159.2,44.0L160.1,43.8L160.3,43.8L161.0,44.0L161.4,43.8L162.3,44.0L163.1,43.9L163.7,44.3L163.9,44.1L164.9,43.9L165.2,44.2L165.8,44.5L166.4,44.5L167.3,44.9L167.6,44.9ZM156.1,43.5L157.0,43.4L157.3,43.2L157.8,43.5L158.7,43.3L158.1,43.3L157.3,43.2L156.9,42.7L156.5,43.0L155.7,42.7L156.5,42.5L156.9,42.1L157.6,42.1L157.8,41.8L158.7,41.6L159.4,41.2L160.1,41.5L160.5,40.9L161.1,41.0L160.3,40.3L159.9,40.1L159.4,39.7L158.9,39.4L158.3,39.7L157.5,39.3L156.9,39.2L156.3,39.3L155.8,38.8L155.2,39.1L154.5,39.0L153.7,38.6L153.3,38.5L153.7,38.5L154.5,38.6L155.1,38.5L155.8,38.1L156.3,38.2L156.9,38.1L157.2,37.8L158.1,37.7L158.6,37.5L159.2,37.4L159.9,37.3L160.5,37.3L161.1,37.1L161.8,37.2L162.4,37.2L162.6,36.9L163.6,36.6L163.9,36.9L164.7,36.7L165.3,36.7L165.7,36.7L166.6,36.8L167.0,36.4L167.8,36.7L168.4,36.7L169.0,36.5L169.7,36.6L170.0,36.7L170.6,36.5L171.5,36.2L171.7,36.6L172.6,36.2L172.8,36.4L173.6,36.2L174.0,36.5L174.7,36.4L175.2,36.3L176.1,36.1L176.6,36.3L176.9,36.3L177.8,36.5L178.3,36.2L178.9,36.2L179.3,36.2L180.3,36.6L180.7,36.6L181.4,36.5L182.2,36.2L182.5,36.6L183.1,36.5L183.7,36.3L184.3,36.7L184.8,36.5L185.6,36.9L186.2,36.7L186.7,36.7L187.1,37.0L188.1,36.9L188.4,37.1L189.1,37.0L188.5,37.4L188.0,37.7L187.1,37.8L186.8,38.0L186.2,38.0L185.4,38.1L184.8,38.5L184.2,38.6L183.8,38.6L183.4,39.0L182.6,39.0L181.9,38.9L181.6,39.1L181.0,39.2L180.4,39.2L179.6,39.3L178.8,39.7L178.1,39.9L177.8,40.0L177.4,39.9L176.6,40.0L176.3,40.5L175.6,40.4L174.8,40.7L174.2,40.7L173.6,40.7L173.0,41.2L172.5,41.5L171.6,41.3L171.1,41.8L170.6,41.8L170.2,42.3L169.5,42.6L168.8,42.9L168.4,43.4L167.7,43.9L167.0,44.1L166.6,43.9L165.9,44.0L165.1,44.1L164.8,44.1L163.8,44.1L163.5,44.1L162.7,44.3L162.5,43.8L161.6,43.8L160.8,44.0L160.3,44.2L159.9,44.0L159.1,43.8L158.8,44.1L158.0,43.9L157.5,43.9L157.1,43.7L156.4,43.6L155.7,43.7ZM147.1,39.5L147.9,39.0L148.6,39.1L148.9,38.9L149.7,38.4L150.4,38.5L150.9,38.4L151.3,38.7L152.0,38.9L152.7,38.7L153.3,39.0L154.0,38.9L154.7,39.5L155.1,39.6L155.7,40.4L155.2,41.1L154.5,41.2L153.9,41.5L153.2,41.3L153.0,41.5L152.3,41.7L151.5,41.7L151.0,41.6L150.1,41.2L149.8,41.1L149.3,41.1L148.5,41.0L148.0,40.7L147.1,40.2L146.7,39.9ZM138.1,41.5L138.8,41.1L139.6,41.0L140.4,40.9L140.8,41.1L141.4,41.1L141.7,41.0L142.5,41.1L143.1,41.6L143.7,41.8L143.3,41.8L142.3,42.1L141.9,42.4L141.2,42.5L140.6,42.0L140.2,42.1L139.6,42.2L138.8,41.9L138.2,42.0L137.8,41.8ZM144.6,41.6L145.4,41.3L146.1,41.1L146.6,41.1L147.6,41.4L147.9,41.3L147.3,41.9L146.5,42.0L145.9,41.9L145.5,42.3L144.9,42.3ZM148.4,47.8L148.5,47.3L149.3,46.9L149.7,46.6L150.3,46.6L151.0,46.7L151.6,46.4L152.0,46.4L152.7,46.6L153.3,47.0L154.0,47.1L154.9,47.1L154.5,47.6L153.9,47.9L153.4,48.2L152.4,48.2L152.1,48.6L151.7,48.6L150.7,48.7L150.3,49.0L149.6,48.9L149.3,48.7L148.5,48.4ZM140.5,48.2L140.2,48.1L140.6,47.9L141.3,47.3L141.7,46.9L142.4,47.0L143.2,47.0L143.7,46.8L144.3,46.7L145.0,46.7L145.5,46.7L146.1,46.9L146.6,47.1L147.0,47.7L147.3,48.3L146.6,48.5L146.1,49.2L145.7,49.3L145.1,49.4L144.5,49.1L143.7,49.4L143.0,49.4L142.7,49.3L142.2,49.0L141.3,48.7ZM144.3,51.8L145.2,51.4L145.5,51.3L145.9,51.3L146.9,51.4L147.3,51.7L147.8,51.9L148.5,52.4L147.7,52.7L147.3,53.2L146.8,53.0L146.2,53.0L145.3,53.3L144.9,53.1L144.3,52.9L143.7,52.5ZM153.9,42.7L154.6,42.8L155.2,42.5L155.7,42.6L156.3,43.2L155.9,43.0L154.9,43.3L154.3,43.2L153.9,43.0ZM146.5,44.6L147.6,44.9L146.7,45.2ZM277.0,40.1L282.9,39.9L288.9,39.4L294.9,40.1L289.5,41.9L285.3,42.7L282.3,43.7L278.8,42.1L275.8,41.2ZM284.1,39.6L288.9,39.2L294.9,39.6L291.3,40.3L285.3,40.3ZM325.4,49.8L328.9,50.6L331.3,50.4L329.5,48.4L331.3,46.7L335.5,44.6L342.7,43.4L344.5,43.7L339.1,45.2L333.1,47.3L330.7,48.7L328.9,49.4L326.6,47.9L325.4,49.0ZM318.8,39.3L324.8,38.0L334.3,38.2L339.1,39.0L331.9,39.6L322.4,39.9ZM425.1,45.0L430.5,44.2L433.5,44.8L437.1,45.2L433.5,47.4L428.7,46.5Z" fill="none" stroke="#8cc4ec" stroke-width="1.25" stroke-linejoin="round"/><path d="M94.2,51.6L94.5,51.9L95.5,51.9L95.8,51.9L96.3,52.1L97.0,51.9L97.7,52.1L98.3,52.2L99.2,52.0L99.7,51.9L99.9,52.0L100.7,51.7L101.3,51.8L101.8,51.7L102.5,51.9L103.3,51.9L103.9,51.9L104.0,51.9L104.9,51.7L105.6,51.3L105.8,51.4L106.7,51.1L107.1,51.1L107.8,50.8L108.4,50.6L109.0,50.8L109.7,50.6L110.4,50.7L110.7,50.9L111.3,51.0L112.2,51.2L112.7,51.6L113.3,51.7L113.8,51.7L114.7,51.8L115.3,51.8L115.5,51.7L116.5,51.5L116.9,51.5L117.4,51.4L117.9,51.7L118.7,51.7L119.4,51.8L119.8,52.1L120.3,52.0L121.1,52.1L121.6,52.4L122.1,52.4L123.0,52.4L123.2,52.5L124.2,52.7L124.5,52.7L125.2,52.6L125.9,52.6L126.2,53.1L126.9,53.3L127.6,53.5L128.1,53.7L128.8,53.7L129.7,53.6L129.8,53.4L130.4,53.7L131.4,53.5L131.9,53.6L132.2,53.5L132.8,53.7L133.6,53.5L134.1,53.5L134.7,52.9L135.5,52.8L136.0,52.6L136.6,52.8L137.0,52.8L137.7,52.9L138.6,53.2L139.0,53.2L139.5,53.6L140.3,53.4L140.8,53.7L141.5,53.6L142.1,53.6L142.6,53.8L143.0,53.7L143.5,53.8L144.5,53.6L145.0,53.9L145.5,53.7L146.1,53.7L146.8,53.7L147.4,53.3L147.9,53.5L148.2,53.0L149.0,52.7L149.3,52.0L149.7,51.8L149.8,51.2L150.1,50.5L150.8,50.1L150.9,49.5L150.1,49.2L149.7,49.0L150.3,49.2L150.9,49.6L151.7,50.0L152.1,50.1L152.7,50.7L153.1,50.9L153.8,51.2L154.3,51.4L155.0,52.2L155.6,52.3L156.3,52.6L156.5,53.0L157.2,53.2L157.6,53.8L158.1,53.9L158.7,54.4L159.2,53.9L159.1,53.3L159.5,53.1L159.7,52.3L160.3,51.9L160.5,51.5L161.0,51.5L161.5,51.3L162.2,51.5L163.0,51.4L163.4,51.7L164.1,51.8L164.7,51.7L165.0,52.4L165.2,53.0L165.2,53.5L164.8,54.2L164.4,54.7L164.1,55.1L163.2,55.0L162.7,55.3L162.1,55.2L161.5,55.1L161.0,55.2L160.5,55.0L159.6,55.2L159.2,55.6L159.4,56.2L158.7,56.8L158.7,57.5M226.8,35.9L227.5,36.2L227.7,35.7L228.7,36.1L229.0,36.2L229.6,35.9L230.3,36.2L231.2,35.9L231.6,36.1L232.0,36.0L232.8,36.1L233.4,36.1L234.1,36.2L234.4,36.3L235.2,36.3L235.7,36.3L236.4,36.7L236.8,36.8L237.5,36.7L238.1,37.0L238.7,37.0L239.3,36.9L239.9,36.8L240.3,36.9L241.1,37.1L241.8,37.1L242.3,37.4L243.2,37.6L243.5,37.5L244.2,37.5L244.5,37.6L245.4,37.5L245.8,37.5L246.5,37.8L247.3,38.1L247.8,37.9L248.3,38.0L247.6,38.4L247.1,39.2L246.4,39.4L245.9,39.4L245.2,39.7L244.7,39.8L244.3,40.1L243.7,40.2L242.9,40.3M237.5,44.6L236.9,45.0L236.5,45.6L236.1,45.7L235.7,46.3L235.4,46.7L234.8,47.5L234.3,47.8L234.0,48.4L233.4,48.5L232.5,48.8L232.4,49.2L231.3,49.6L230.7,50.0L230.4,50.1L230.0,50.2L229.3,50.3L228.8,50.6L228.0,50.8M281.2,52.9L281.8,52.6L282.4,52.4L282.8,52.3L283.5,52.1L284.0,51.7L284.5,51.5L285.2,51.5L285.5,51.5L286.3,51.1L287.2,50.8L287.8,51.0L288.4,50.9L289.4,50.6L290.0,50.7L290.7,50.4L291.3,50.4L292.0,50.2L292.8,49.9L293.5,50.0L293.9,50.0L294.6,50.3L295.5,50.2L296.3,50.2L296.9,50.4L297.3,50.4L297.6,50.6L298.5,50.4L299.3,50.8L299.7,50.9" fill="none" stroke="#8cc4ec" stroke-width="1.50" stroke-linejoin="round" stroke-linecap="round"/><path d="M49.3,369.5L49.9,369.7L50.5,369.4L50.8,369.4L51.7,369.3L52.3,369.3L52.7,369.1L53.7,368.9L54.0,369.0L54.6,368.9L55.3,369.0L55.7,368.7L56.8,368.8L57.1,368.7L57.7,369.0L58.3,368.6L59.2,368.7L59.3,368.6L59.9,368.1L60.7,368.2L61.1,368.2L62.1,367.9L62.4,367.5L63.3,367.4L64.0,367.1L64.6,367.2L65.3,366.6L65.7,366.6L66.2,366.6L67.1,366.3L67.9,366.1L68.3,366.1L69.0,365.9L69.7,365.5L70.4,365.1L70.8,365.0L71.7,364.9L72.6,364.8L73.3,364.1L73.8,364.1L74.4,363.8L75.2,363.5L75.6,363.0L76.2,362.9L77.0,362.8L77.3,362.6L78.0,362.0L78.6,362.0L78.8,361.2L78.6,360.9L79.5,360.3L79.7,360.2L80.6,359.9L81.6,359.4L81.9,359.4L82.8,359.2L83.4,358.8L83.6,359.6L83.8,360.0L84.0,360.5L84.3,360.4L85.5,359.8L85.8,359.6L86.6,359.5L87.2,359.4L87.8,359.8L88.2,359.5L88.9,359.8L89.5,359.9L90.0,359.7L90.6,360.2L91.2,360.2L91.8,360.2L92.6,360.3L92.8,360.1L93.6,360.2L93.9,360.2L95.0,360.4L95.2,360.5L95.9,360.5L96.6,361.0L97.1,361.3L98.0,361.3L98.6,361.7L99.5,361.9L100.0,362.2L100.5,362.2L101.5,362.3L101.9,362.5L102.6,362.8L102.9,363.3L103.7,363.8L104.3,364.3L105.0,364.8L105.5,365.3L106.0,365.9L106.7,366.1L107.3,366.8L107.6,367.2L108.1,367.5L108.3,368.1L109.1,368.4L109.7,369.1L109.9,369.5L110.5,369.8L110.8,369.8L111.5,370.4L112.0,370.5L112.5,371.1L113.5,371.1L113.9,371.3L114.1,371.7L114.9,371.9L115.4,372.4L115.9,373.3M115.3,373.4L114.4,373.4L114.2,372.9L113.3,372.9L112.5,372.7L112.1,372.2L111.6,371.9L111.2,371.8L110.6,371.3L110.0,371.2L109.3,370.9" fill="none" stroke="#e09ccb" stroke-width="1.80" stroke-linejoin="round" stroke-linecap="round"/><path d="M195.7,344.9L195.9,345.7L196.2,346.3L196.3,346.8L196.7,347.1L197.3,346.9L197.9,346.9L198.5,347.0L199.1,347.5L199.9,347.4L199.4,347.7L198.8,348.0L198.1,348.0L198.5,348.1L199.5,348.3L200.2,348.9L200.7,348.9L201.3,349.2L201.5,349.5L201.7,350.3L201.0,350.2L200.6,350.8L199.7,350.7L199.5,351.0L198.7,351.0L198.6,351.5L198.5,352.0L198.6,352.7L199.1,353.5L199.7,353.9L200.0,354.4L200.4,354.8L200.9,355.3L201.4,355.6L202.3,356.2L202.7,356.8L203.2,357.6L203.8,358.0L204.1,358.3L204.7,358.8L205.5,358.8L205.9,359.2L206.3,359.0L207.2,359.1L207.7,359.4L208.2,359.6L209.1,359.7L209.5,360.1L210.1,360.2L210.7,360.2L211.2,359.5L211.7,359.1M185.4,359.9L185.8,360.4L186.4,360.9L186.8,361.7L187.4,362.3L187.5,362.8L188.2,363.1L188.8,363.5L189.1,364.2L189.5,364.5L190.5,364.9L190.9,365.5L191.6,365.8L192.3,365.8L192.8,365.9L193.3,366.5L193.9,366.5L194.5,366.7L195.0,367.1L195.7,367.6L196.1,368.4L196.1,369.1L195.4,369.3L194.6,369.8L193.9,370.0L193.2,370.1L192.9,370.5L191.9,370.7L191.7,371.2L190.9,371.3L190.4,371.2L189.9,371.3L189.1,371.3L188.4,371.5L187.8,371.2L187.3,371.3L186.7,371.3L186.2,371.3L185.4,371.5L185.2,371.4L184.2,371.3L183.9,371.5L183.2,371.3L182.6,371.7L182.0,372.1L181.2,371.9L180.8,372.4L180.4,372.9L179.6,373.5L179.0,373.8M185.8,372.8L185.6,373.5L185.2,374.2L185.4,374.7L185.2,375.5L186.1,375.5L186.8,375.9L187.2,376.2L187.8,376.3L188.3,376.5L189.1,376.5L189.9,376.0L190.7,375.9L191.2,376.1L190.4,376.4L189.7,377.0L189.3,377.4L188.6,377.3L187.8,377.2L187.2,377.5L186.8,377.7L186.2,377.8L185.6,378.3L184.9,378.7L184.4,378.8L183.5,378.0L184.4,377.4L184.8,377.5L185.6,376.9L184.8,377.0L184.6,376.8L183.8,377.0L183.2,377.5L182.3,377.6L181.7,377.8L180.8,378.2L180.2,378.2L179.2,378.8L178.8,378.8M191.7,374.3L192.4,374.2L193.0,374.6L193.5,374.5L193.9,374.8L194.6,375.0L195.3,375.0L196.0,375.0L196.5,375.2L197.4,375.4L198.1,375.4L198.7,375.3L199.0,374.6L199.7,374.3L199.2,373.6L199.2,373.1L198.7,372.7L197.9,372.5L197.3,372.1L197.1,372.0L196.3,371.9L196.2,371.3L196.3,370.5L196.1,369.7L195.4,370.1L194.5,370.1L193.9,370.8L193.7,371.1L193.0,371.5L192.7,372.1L192.3,372.6L191.8,373.1L191.7,373.5L191.7,374.3M237.5,355.9L237.1,355.9L236.2,355.8L235.7,355.8L235.1,355.2L234.4,354.8L234.0,354.6L234.3,354.3L235.2,354.4L235.7,354.2L236.3,353.9L235.5,354.1L234.9,353.7L234.5,353.7L233.6,353.8L234.1,353.6L235.2,353.4L235.7,352.9L236.5,353.1L237.2,353.2L237.7,353.1L238.0,353.3L238.9,353.1L239.2,353.2L240.1,353.4L240.5,353.3L241.2,353.3L241.6,353.0L242.4,353.1L242.7,353.1L243.5,352.8L244.2,353.0L244.6,353.4L245.3,353.5M269.3,361.7L269.0,360.8L268.8,360.1L268.6,359.6L268.8,359.0L268.6,358.4L269.0,357.7L269.5,357.7L270.4,357.2L271.1,357.0L271.6,356.7L272.4,356.7L273.0,356.2L274.0,356.0L274.6,355.5L275.5,354.9L276.0,354.6L276.7,354.3L277.3,353.6M256.7,361.8L256.4,362.3L255.7,362.7L256.0,363.4L255.7,363.7L255.9,364.4L256.7,365.3" fill="none" stroke="#a9c3b1" stroke-width="1.60" stroke-linejoin="round" stroke-linecap="round"/><path d="M174.8,475.6L174.8,476.0L174.4,476.7L174.7,477.5L174.7,478.1L174.4,478.4L174.1,478.9L173.5,479.3L173.0,480.1L173.4,480.9L173.6,481.6L173.4,481.8L172.9,482.6L172.4,483.0L172.4,483.6L172.7,484.2L172.5,484.6L172.7,485.2L172.8,485.9L173.3,486.2L173.4,487.0L173.6,487.5L174.0,488.1L174.6,488.4L175.4,488.9L176.1,489.6L176.9,490.0L177.2,490.3L178.0,490.4L178.7,491.0L179.0,491.1L179.5,490.9L179.9,491.5L180.8,491.3L181.4,491.1L182.2,490.8L182.6,490.8M190.2,486.9L190.9,486.7L191.5,486.9L192.1,486.9L193.0,487.2L191.9,487.4L191.3,487.5L190.5,487.4M217.5,489.9L218.0,490.0L218.6,489.9L219.3,490.2L218.7,490.5M461.6,480.7L461.9,479.8L462.6,479.3L462.9,478.9L463.7,478.4" fill="none" stroke="#cdb85c" stroke-width="3.00" stroke-linejoin="round" stroke-linecap="round"/><path d="M179.6,506.6L180.0,506.2L180.5,505.7L181.2,505.6L181.4,505.2L181.8,505.0L182.5,504.9L182.7,504.4L183.2,504.3L183.5,504.1L184.3,503.6L184.5,503.7L185.0,503.2L185.6,502.9L186.0,502.6L186.5,502.6L186.8,502.4L187.0,502.2L187.7,501.9L188.0,501.8L188.5,501.4L189.2,501.1L189.7,500.8L190.3,500.8L190.9,500.9L191.3,500.4L191.7,500.4L192.0,500.4L192.7,500.2L193.4,500.2L193.8,500.3L194.2,500.1L194.5,500.0L195.1,500.0M180.8,507.4L181.2,506.8L181.7,506.7L181.9,506.4L182.6,505.9L183.1,505.8L183.3,505.4L183.9,504.8L184.4,504.6L184.9,504.1L185.1,504.2L185.8,503.8L186.2,503.4L186.7,503.3L186.9,503.1L187.3,502.6L188.0,502.5L188.4,502.4L188.8,502.2L189.1,501.8L189.7,501.8L190.2,501.4L190.6,501.4L191.0,501.5L191.5,501.1M188.0,499.6L188.7,499.4L188.9,499.3L189.6,499.5L190.0,499.2L190.4,499.2L190.9,499.3L191.3,499.3L192.0,499.3L192.3,499.0L192.8,498.9L193.3,499.0L193.8,499.0L194.5,498.8L195.1,498.5" fill="none" stroke="#52529f" stroke-width="2.40" stroke-linejoin="round" stroke-linecap="round"/><path d="M195.7,344.9L196.3,346.8L199.9,347.4L198.1,348.0L201.3,349.2L201.7,350.3L198.7,351.0L198.6,352.7L199.7,353.9L200.9,355.3L202.3,356.2L203.2,357.6L204.7,358.8L207.7,359.4" fill="none" stroke="#a9c3b1" stroke-width="2.00" stroke-linejoin="round" stroke-linecap="round" stroke-opacity="0.9"/><path d="M269.3,361.7L269.0,360.8L268.6,359.6L268.6,358.4L269.0,357.7L270.4,357.2L271.6,356.7L273.0,356.2L274.6,355.5L276.0,354.6L277.3,353.6L278.4,352.4" fill="none" stroke="#a9c3b1" stroke-width="2.60" stroke-linejoin="round" stroke-linecap="round" stroke-opacity="0.9"/><path d="M155.1,345.2L155.6,345.1L156.4,345.0L156.9,344.5L157.5,344.6L157.8,344.5L158.4,344.5L159.0,344.7L159.8,344.4L160.5,344.5L160.9,344.7L161.7,344.4L162.3,344.7L163.1,344.9L163.5,344.7L164.2,344.8L164.5,344.9L165.1,344.5L165.7,344.6L166.4,344.6L167.1,344.9L167.7,345.3L168.0,345.4L168.9,345.5L169.4,345.7L169.9,345.7L170.6,345.9L171.4,345.8L171.8,346.0L172.3,346.2L173.0,346.3L173.6,346.8L174.3,347.0L175.1,347.2L175.4,347.0L175.8,347.2L176.6,347.4L177.0,347.5L177.9,347.8L178.4,348.2L179.2,348.3L179.7,348.3L180.2,348.4L180.8,348.5L181.4,349.4L182.3,349.3L182.8,349.7L182.0,350.5L182.6,350.6L182.9,350.8L183.8,350.8L184.4,351.2L185.1,351.5L185.5,351.5L185.9,351.8L186.8,351.9L187.2,352.3L187.7,352.1L188.5,352.5L189.1,352.8L188.4,353.2L188.0,353.4L187.3,353.3L186.5,353.6L186.2,353.6L185.4,353.7L184.6,354.2L185.0,354.6L184.5,354.1L183.7,354.1L183.2,353.7L182.3,353.2L181.6,353.0L182.3,353.7L182.6,353.9L183.0,354.4L183.6,354.6L184.4,355.0L185.0,355.4L185.6,355.7L185.0,356.4L184.1,356.4L183.7,356.2L183.2,356.1L182.7,356.0L181.7,356.0L181.0,356.0L181.7,356.5L182.5,356.4L183.1,356.6L183.5,357.0L184.2,357.2L185.0,357.2L184.2,357.5L183.8,357.9L182.9,358.1L182.4,357.9L181.9,357.9L181.4,357.6L180.5,357.6L180.0,357.4L179.3,357.0L179.0,357.0L178.5,357.0L177.7,356.8L177.2,356.6L176.5,356.4L176.0,355.9L175.6,355.4L174.8,355.4L174.2,355.2L173.4,355.4L172.9,355.2L172.4,355.1L172.0,355.4L171.0,355.1L170.6,355.4L170.0,355.4L169.4,355.0L170.0,354.2L170.6,354.4L171.2,353.9L172.0,354.0L172.3,354.1L172.8,353.9L173.6,353.9L174.2,353.4L174.8,353.0L175.3,352.8L176.0,352.2L175.4,351.3L175.0,350.9L174.4,350.9L173.6,350.9L173.2,350.6L172.3,350.5L171.7,350.6L171.2,350.2L170.4,350.0L169.9,349.6L169.4,349.4L169.1,349.3L168.5,348.9L167.6,349.1L167.3,349.2L166.3,349.3L165.7,349.3L165.2,349.2L164.7,348.9L164.2,349.0L163.5,348.8L162.9,348.7L162.0,348.8L161.9,348.7L161.2,348.8L160.5,348.8L159.7,348.6L159.2,348.6L158.9,348.7L158.1,348.6L157.2,348.0L156.5,347.8L155.7,347.1L155.1,346.2ZM166.4,344.6L166.9,344.6L167.5,344.7L168.4,344.7L168.8,344.5L169.4,344.5L170.0,344.6L170.9,345.0L171.2,345.2L170.4,345.6L169.9,345.5L169.4,345.7L169.1,345.5L168.0,345.3L167.9,345.2L166.8,345.4L166.6,345.3L165.8,345.1ZM159.3,354.3L159.7,353.9L160.5,353.4L160.9,353.3L161.7,353.2L162.3,353.4L162.8,353.6L163.6,353.9L164.1,354.2L164.5,354.6L165.2,355.1L165.8,355.2L166.8,355.7L165.8,356.1L165.2,356.2L164.7,356.3L164.1,356.0L163.4,355.7L162.9,355.9L162.3,355.8L161.6,356.2L160.9,356.1L160.5,356.4L159.7,355.9L159.3,355.3ZM163.4,356.9L164.1,356.8L164.7,356.8L165.2,357.0L165.8,357.7L165.3,357.6L164.9,357.5L164.1,357.2L163.6,357.1L162.9,357.0ZM170.3,351.0L170.9,350.9L171.7,351.4L172.1,351.4L171.5,351.4L170.7,351.5L170.0,351.8ZM121.4,348.7L122.3,348.7L122.6,348.4L123.4,348.2L123.8,348.3L124.4,348.1L125.4,348.0L125.6,348.0L126.5,348.3L127.2,347.9L127.6,348.2L126.9,347.8L126.4,348.0L126.1,347.7L125.0,347.8L124.6,347.7L124.0,347.7L123.3,347.7L122.9,347.7L122.3,347.5L121.6,347.4L120.8,347.2L120.4,346.8L121.1,346.4L121.6,346.1L122.0,345.6L122.8,345.5L123.6,345.2L123.8,345.5L124.4,345.1L125.1,345.4L125.8,345.1L126.4,345.0L127.2,345.4L127.4,345.2L128.2,345.4L128.6,345.8L129.4,345.7L130.1,345.7L130.4,345.4L131.2,345.5L131.9,345.5L132.2,345.6L133.0,345.9L133.4,345.5L134.2,345.6L134.8,345.1L135.4,345.1L135.9,345.4L136.6,345.5L137.2,345.5L137.4,346.0L138.1,346.2L138.6,346.7L139.4,346.9L140.2,347.1L140.9,347.8L141.3,348.3L141.1,349.0L140.8,349.4L140.1,349.8L139.4,349.9L139.1,349.8L138.4,350.0L137.6,349.9L137.4,350.1L136.7,349.8L136.0,349.7L135.4,349.7L134.7,350.0L134.3,349.8L133.5,350.0L133.0,350.3L132.5,350.3L131.7,350.4L131.0,350.6L130.4,350.3L130.0,350.4L129.3,350.6L128.6,350.3L128.4,350.4L127.5,350.6L127.0,350.5L126.3,350.4L125.6,350.3L125.1,349.9L124.6,350.0L124.3,349.8L123.3,349.5L122.8,349.6L122.0,349.2ZM113.5,346.0L113.6,345.7L113.5,344.6L114.2,344.5L114.9,343.9L115.6,343.8L116.2,343.8L116.6,343.7L117.2,343.9L117.9,344.1L118.6,343.8L119.3,343.8L119.9,343.7L120.6,343.8L121.0,343.8L121.4,344.0L122.4,343.9L122.8,344.1L123.6,344.3L123.8,344.4L124.6,344.9L124.1,344.9L123.6,345.3L122.7,345.4L122.1,345.4L121.6,345.6L120.9,346.2L120.4,346.4L119.6,346.8L118.9,347.1L118.1,347.4L117.4,347.5L116.7,347.5L116.0,347.6L115.7,347.6L114.8,347.4L114.3,347.1L113.4,347.0L113.0,346.7ZM115.2,341.9L114.7,341.7L115.7,341.1L116.3,341.0L117.1,341.1L117.4,341.0L118.1,340.8L118.7,340.8L119.3,340.5L119.8,340.5L120.2,340.7L121.1,340.8L121.8,340.6L122.0,340.7L122.9,340.7L123.4,340.5L122.8,341.2L122.4,341.3L121.6,341.4L121.0,341.6L120.6,341.4L119.8,341.8L119.4,342.0L118.4,342.0L118.2,342.1L117.5,342.2L116.9,342.1L116.3,342.1ZM122.2,342.9L122.9,342.9L123.5,342.9L124.3,342.8L124.6,342.6L123.8,342.3L123.2,342.4L122.5,342.2L123.3,342.1L123.7,341.7L124.3,341.8L125.2,341.4L125.8,341.3L126.5,341.4L127.1,341.6L127.8,341.4L128.2,341.4L128.9,341.2L129.6,341.2L129.9,341.0L130.6,341.3L131.2,341.1L131.7,341.3L132.3,341.1L133.0,341.4L133.4,341.6L134.2,342.0L134.7,342.3L135.3,342.2L136.2,342.1L136.6,342.2L136.0,343.1L135.3,343.3L135.0,343.4L134.4,343.2L133.8,343.6L132.7,343.3L132.3,343.4L131.6,343.7L131.2,343.8L130.6,343.7L129.7,343.7L129.4,343.9L128.7,343.5L128.4,343.6L127.8,343.6L127.2,343.8L126.2,343.6L125.8,343.6L125.1,343.5L124.5,343.2L124.0,343.5L123.6,343.1L122.8,343.3ZM127.0,339.6L127.8,339.7L128.2,339.5L129.0,339.7L129.2,339.6L129.9,339.5L130.6,339.4L131.1,339.6L131.9,339.8L132.4,339.7L133.0,340.1L132.3,340.3L131.7,340.5L131.0,340.6L130.6,340.5L130.0,340.7L129.6,340.2L128.8,340.6L128.1,340.2L127.4,340.5L127.0,340.3ZM128.6,338.8L129.4,338.7L130.0,339.0L130.8,338.8L130.9,338.8L131.8,338.9L131.2,339.4L130.7,339.6L130.1,339.2L129.1,339.4L128.4,339.4L127.8,339.3ZM141.9,343.1L141.4,342.7L140.5,342.7L140.2,342.2L140.8,342.0L141.2,342.0L141.9,341.7L142.6,341.7L143.0,341.2L143.5,341.2L144.3,341.2L144.9,341.1L145.6,341.2L146.4,341.4L146.7,341.7L146.1,342.2L145.5,343.1L144.9,343.1L144.1,343.3L144.0,343.3L143.3,343.0L142.5,343.1ZM147.3,342.8L147.9,342.6L148.4,342.8L149.1,342.5L150.1,342.5L150.4,342.9L151.3,342.9L150.9,343.5L150.5,343.5L150.0,343.4L149.0,343.5L148.6,343.7L147.9,343.5ZM167.6,343.1L167.0,343.5L166.5,343.3L165.8,343.7L165.1,344.0L164.6,343.8L164.1,343.9L163.6,343.6L162.9,343.9L162.5,343.8L161.8,343.9L161.1,343.7L160.3,343.6L159.8,343.5L159.3,343.9L158.5,343.8L158.2,343.5L157.3,343.8L156.9,343.7L156.1,343.4L155.5,343.9L154.9,343.7L154.7,343.4L154.0,343.3L153.3,343.5L153.1,343.1L152.5,342.6L151.5,342.1L150.9,342.0L150.4,342.2L149.8,341.9L149.1,341.8L148.3,341.9L147.9,341.6L148.4,341.4L149.1,341.1L150.0,341.3L150.6,341.3L150.8,341.0L151.7,341.3L151.9,341.3L152.6,341.1L153.1,341.4L153.9,341.3L154.7,341.6L155.0,341.3L155.8,341.7L156.3,341.6L156.6,341.7L157.7,341.6L158.2,341.3L158.7,341.4L159.2,341.6L160.1,341.4L160.3,341.4L161.0,341.6L161.4,341.4L162.3,341.6L163.1,341.5L163.7,341.9L163.9,341.7L164.9,341.5L165.2,341.8L165.8,342.1L166.4,342.1L167.3,342.5L167.6,342.5ZM156.1,341.1L157.0,341.0L157.3,340.8L157.8,341.1L158.7,340.9L158.1,340.9L157.3,340.8L156.9,340.3L156.5,340.6L155.7,340.3L156.5,340.1L156.9,339.7L157.6,339.7L157.8,339.4L158.7,339.2L159.4,338.8L160.1,339.1L160.5,338.5L161.1,338.6L160.3,337.9L159.9,337.7L159.4,337.3L158.9,337.0L158.3,337.3L157.5,336.9L156.9,336.8L156.3,336.9L155.8,336.4L155.2,336.7L154.5,336.6L153.7,336.2L153.3,336.1L153.7,336.1L154.5,336.2L155.1,336.1L155.8,335.7L156.3,335.8L156.9,335.7L157.2,335.4L158.1,335.3L158.6,335.1L159.2,335.0L159.9,334.9L160.5,334.9L161.1,334.7L161.8,334.8L162.4,334.8L162.6,334.5L163.6,334.2L163.9,334.5L164.7,334.3L165.3,334.3L165.7,334.3L166.6,334.4L167.0,334.0L167.8,334.3L168.4,334.3L169.0,334.1L169.7,334.2L170.0,334.3L170.6,334.1L171.5,333.8L171.7,334.2L172.6,333.8L172.8,334.0L173.6,333.8L174.0,334.1L174.7,334.0L175.2,333.9L176.1,333.7L176.6,333.9L176.9,333.9L177.8,334.1L178.3,333.8L178.9,333.8L179.3,333.8L180.3,334.2L180.7,334.2L181.4,334.1L182.2,333.8L182.5,334.2L183.1,334.1L183.7,333.9L184.3,334.3L184.8,334.1L185.6,334.5L186.2,334.3L186.7,334.3L187.1,334.6L188.1,334.5L188.4,334.7L189.1,334.6L188.5,335.0L188.0,335.3L187.1,335.4L186.8,335.6L186.2,335.6L185.4,335.7L184.8,336.1L184.2,336.2L183.8,336.2L183.4,336.6L182.6,336.6L181.9,336.5L181.6,336.7L181.0,336.8L180.4,336.8L179.6,336.9L178.8,337.3L178.1,337.5L177.8,337.6L177.4,337.5L176.6,337.6L176.3,338.1L175.6,338.0L174.8,338.3L174.2,338.3L173.6,338.3L173.0,338.8L172.5,339.1L171.6,338.9L171.1,339.4L170.6,339.4L170.2,339.9L169.5,340.2L168.8,340.5L168.4,341.0L167.7,341.5L167.0,341.7L166.6,341.5L165.9,341.6L165.1,341.7L164.8,341.7L163.8,341.7L163.5,341.7L162.7,341.9L162.5,341.4L161.6,341.4L160.8,341.6L160.3,341.8L159.9,341.6L159.1,341.4L158.8,341.7L158.0,341.5L157.5,341.5L157.1,341.3L156.4,341.2L155.7,341.3ZM147.1,337.1L147.9,336.6L148.6,336.7L148.9,336.5L149.7,336.0L150.4,336.1L150.9,336.0L151.3,336.3L152.0,336.5L152.7,336.3L153.3,336.6L154.0,336.5L154.7,337.1L155.1,337.2L155.7,338.0L155.2,338.7L154.5,338.8L153.9,339.1L153.2,338.9L153.0,339.1L152.3,339.3L151.5,339.3L151.0,339.2L150.1,338.8L149.8,338.7L149.3,338.7L148.5,338.6L148.0,338.3L147.1,337.8L146.7,337.5ZM138.1,339.1L138.8,338.7L139.6,338.6L140.4,338.5L140.8,338.7L141.4,338.7L141.7,338.6L142.5,338.7L143.1,339.2L143.7,339.4L143.3,339.4L142.3,339.7L141.9,340.0L141.2,340.1L140.6,339.6L140.2,339.7L139.6,339.8L138.8,339.5L138.2,339.6L137.8,339.4ZM144.6,339.2L145.4,338.9L146.1,338.7L146.6,338.7L147.6,339.0L147.9,338.9L147.3,339.5L146.5,339.6L145.9,339.5L145.5,339.9L144.9,339.9ZM148.4,345.4L148.5,344.9L149.3,344.5L149.7,344.2L150.3,344.2L151.0,344.3L151.6,344.0L152.0,344.0L152.7,344.2L153.3,344.6L154.0,344.7L154.9,344.7L154.5,345.2L153.9,345.5L153.4,345.8L152.4,345.8L152.1,346.2L151.7,346.2L150.7,346.3L150.3,346.6L149.6,346.5L149.3,346.3L148.5,346.0ZM140.5,345.8L140.2,345.7L140.6,345.5L141.3,344.9L141.7,344.5L142.4,344.6L143.2,344.6L143.7,344.4L144.3,344.3L145.0,344.3L145.5,344.3L146.1,344.5L146.6,344.7L147.0,345.3L147.3,345.9L146.6,346.1L146.1,346.8L145.7,346.9L145.1,347.0L144.5,346.7L143.7,347.0L143.0,347.0L142.7,346.9L142.2,346.6L141.3,346.3ZM144.3,349.4L145.2,349.0L145.5,348.9L145.9,348.9L146.9,349.0L147.3,349.3L147.8,349.5L148.5,350.0L147.7,350.3L147.3,350.8L146.8,350.6L146.2,350.6L145.3,350.9L144.9,350.7L144.3,350.5L143.7,350.1ZM153.9,340.3L154.6,340.4L155.2,340.1L155.7,340.2L156.3,340.8L155.9,340.6L154.9,340.9L154.3,340.8L153.9,340.6ZM146.5,342.2L147.6,342.5L146.7,342.8ZM277.0,337.7L282.9,337.5L288.9,337.0L294.9,337.7L289.5,339.5L285.3,340.3L282.3,341.3L278.8,339.7L275.8,338.8ZM284.1,337.2L288.9,336.8L294.9,337.2L291.3,337.9L285.3,337.9ZM325.4,347.4L328.9,348.2L331.3,348.0L329.5,346.0L331.3,344.3L335.5,342.2L342.7,341.0L344.5,341.3L339.1,342.8L333.1,344.9L330.7,346.3L328.9,347.0L326.6,345.5L325.4,346.6ZM318.8,336.9L324.8,335.6L334.3,335.8L339.1,336.6L331.9,337.2L322.4,337.5ZM425.1,342.6L430.5,341.8L433.5,342.4L437.1,342.8L433.5,345.0L428.7,344.1Z" fill="none" stroke="#8cc4ec" stroke-width="1.25" stroke-linejoin="round"/><path d="M94.2,349.2L94.5,349.5L95.5,349.5L95.8,349.5L96.3,349.7L97.0,349.5L97.7,349.7L98.3,349.8L99.2,349.6L99.7,349.5L99.9,349.6L100.7,349.3L101.3,349.4L101.8,349.3L102.5,349.5L103.3,349.5L103.9,349.5L104.0,349.5L104.9,349.3L105.6,348.9L105.8,349.0L106.7,348.7L107.1,348.7L107.8,348.4L108.4,348.2L109.0,348.4L109.7,348.2L110.4,348.3L110.7,348.5L111.3,348.6L112.2,348.8L112.7,349.2L113.3,349.3L113.8,349.3L114.7,349.4L115.3,349.4L115.5,349.3L116.5,349.1L116.9,349.1L117.4,349.0L117.9,349.3L118.7,349.3L119.4,349.4L119.8,349.7L120.3,349.6L121.1,349.7L121.6,350.0L122.1,350.0L123.0,350.0L123.2,350.1L124.2,350.3L124.5,350.3L125.2,350.2L125.9,350.2L126.2,350.7L126.9,350.9L127.6,351.1L128.1,351.3L128.8,351.3L129.7,351.2L129.8,351.0L130.4,351.3L131.4,351.1L131.9,351.2L132.2,351.1L132.8,351.3L133.6,351.1L134.1,351.1L134.7,350.5L135.5,350.4L136.0,350.2L136.6,350.4L137.0,350.4L137.7,350.5L138.6,350.8L139.0,350.8L139.5,351.2L140.3,351.0L140.8,351.3L141.5,351.2L142.1,351.2L142.6,351.4L143.0,351.3L143.5,351.4L144.5,351.2L145.0,351.5L145.5,351.3L146.1,351.3L146.8,351.3L147.4,350.9L147.9,351.1L148.2,350.6L149.0,350.3L149.3,349.6L149.7,349.4L149.8,348.8L150.1,348.1L150.8,347.7L150.9,347.1L150.1,346.8L149.7,346.6L150.3,346.8L150.9,347.2L151.7,347.6L152.1,347.7L152.7,348.3L153.1,348.5L153.8,348.8L154.3,349.0L155.0,349.8L155.6,349.9L156.3,350.2L156.5,350.6L157.2,350.8L157.6,351.4L158.1,351.5L158.7,352.0L159.2,351.5L159.1,350.9L159.5,350.7L159.7,349.9L160.3,349.5L160.5,349.1L161.0,349.1L161.5,348.9L162.2,349.1L163.0,349.0L163.4,349.3L164.1,349.4L164.7,349.3L165.0,350.0L165.2,350.6L165.2,351.1L164.8,351.8L164.4,352.3L164.1,352.7L163.2,352.6L162.7,352.9L162.1,352.8L161.5,352.7L161.0,352.8L160.5,352.6L159.6,352.8L159.2,353.2L159.4,353.8L158.7,354.4L158.7,355.1M226.8,333.5L227.5,333.8L227.7,333.3L228.7,333.7L229.0,333.8L229.6,333.5L230.3,333.8L231.2,333.5L231.6,333.7L232.0,333.6L232.8,333.7L233.4,333.7L234.1,333.8L234.4,333.9L235.2,333.9L235.7,333.9L236.4,334.3L236.8,334.4L237.5,334.3L238.1,334.6L238.7,334.6L239.3,334.5L239.9,334.4L240.3,334.5L241.1,334.7L241.8,334.7L242.3,335.0L243.2,335.2L243.5,335.1L244.2,335.1L244.5,335.2L245.4,335.1L245.8,335.1L246.5,335.4L247.3,335.7L247.8,335.5L248.3,335.6L247.6,336.0L247.1,336.8L246.4,337.0L245.9,337.0L245.2,337.3L244.7,337.4L244.3,337.7L243.7,337.8L242.9,337.9M237.5,342.2L236.9,342.6L236.5,343.2L236.1,343.3L235.7,343.9L235.4,344.3L234.8,345.1L234.3,345.4L234.0,346.0L233.4,346.1L232.5,346.4L232.4,346.8L231.3,347.2L230.7,347.6L230.4,347.7L230.0,347.8L229.3,347.9L228.8,348.2L228.0,348.4M281.2,350.5L281.8,350.2L282.4,350.0L282.8,349.9L283.5,349.7L284.0,349.3L284.5,349.1L285.2,349.1L285.5,349.1L286.3,348.7L287.2,348.4L287.8,348.6L288.4,348.5L289.4,348.2L290.0,348.3L290.7,348.0L291.3,348.0L292.0,347.8L292.8,347.5L293.5,347.6L293.9,347.6L294.6,347.9L295.5,347.8L296.3,347.8L296.9,348.0L297.3,348.0L297.6,348.2L298.5,348.0L299.3,348.4L299.7,348.5" fill="none" stroke="#8cc4ec" stroke-width="1.50" stroke-linejoin="round" stroke-linecap="round"/><circle cx="84.0" cy="62.1" r="6.1" fill="#d95f02" fill-opacity="0.14" stroke="#d95f02" stroke-opacity="0.75" stroke-width="0.90"/><circle cx="88.0" cy="62.1" r="6.1" fill="#d95f02" fill-opacity="0.14" stroke="#d95f02" stroke-opacity="0.75" stroke-width="0.90"/><circle cx="91.9" cy="62.5" r="7.0" fill="#d95f02" fill-opacity="0.14" stroke="#d95f02" stroke-opacity="0.75" stroke-width="0.90"/><circle cx="95.4" cy="63.0" r="8.8" fill="#d95f02" fill-opacity="0.14" stroke="#d95f02" stroke-opacity="0.75" stroke-width="0.90"/><circle cx="100.2" cy="63.8" r="6.1" fill="#d95f02" fill-opacity="0.14" stroke="#d95f02" stroke-opacity="0.75" stroke-width="0.90"/><circle cx="100.2" cy="63.8" r="5.0" fill="#d95f02" fill-opacity="0.14" stroke="#d95f02" stroke-opacity="0.75" stroke-width="0.90"/><circle cx="101.0" cy="64.0" r="4.5" fill="#d95f02" fill-opacity="0.14" stroke="#d95f02" stroke-opacity="0.75" stroke-width="0.90"/><circle cx="103.7" cy="64.7" r="4.8" fill="#d95f02" fill-opacity="0.14" stroke="#d95f02" stroke-opacity="0.75" stroke-width="0.90"/><circle cx="114.2" cy="74.8" r="5.7" fill="#d95f02" fill-opacity="0.14" stroke="#d95f02" stroke-opacity="0.75" stroke-width="0.90"/><circle cx="114.2" cy="74.8" r="4.5" fill="#d95f02" fill-opacity="0.14" stroke="#d95f02" stroke-opacity="0.75" stroke-width="0.90"/><circle cx="114.5" cy="75.0" r="3.5" fill="#d95f02" fill-opacity="0.14" stroke="#d95f02" stroke-opacity="0.75" stroke-width="0.90"/><circle cx="114.0" cy="74.6" r="2.5" fill="#d95f02" fill-opacity="0.14" stroke="#d95f02" stroke-opacity="0.75" stroke-width="0.90"/><circle cx="162.6" cy="43.0" r="6.0" fill="#d95f02" fill-opacity="0.14" stroke="#d95f02" stroke-opacity="0.75" stroke-width="0.90"/><circle cx="165.2" cy="43.7" r="7.9" fill="#d95f02" fill-opacity="0.14" stroke="#d95f02" stroke-opacity="0.75" stroke-width="0.90"/><circle cx="168.5" cy="46.3" r="8.5" fill="#d95f02" fill-opacity="0.14" stroke="#d95f02" stroke-opacity="0.75" stroke-width="0.90"/><circle cx="171.8" cy="48.2" r="6.5" fill="#d95f02" fill-opacity="0.14" stroke="#d95f02" stroke-opacity="0.75" stroke-width="0.90"/><circle cx="166.0" cy="47.0" r="5.0" fill="#d95f02" fill-opacity="0.14" stroke="#d95f02" stroke-opacity="0.75" stroke-width="0.90"/><circle cx="168.0" cy="44.0" r="4.0" fill="#d95f02" fill-opacity="0.14" stroke="#d95f02" stroke-opacity="0.75" stroke-width="0.90"/><circle cx="182.9" cy="53.3" r="5.2" fill="#d95f02" fill-opacity="0.14" stroke="#d95f02" stroke-opacity="0.75" stroke-width="0.90"/><circle cx="182.7" cy="53.6" r="3.5" fill="#d95f02" fill-opacity="0.14" stroke="#d95f02" stroke-opacity="0.75" stroke-width="0.90"/><circle cx="177.9" cy="74.9" r="5.3" fill="#d95f02" fill-opacity="0.14" stroke="#d95f02" stroke-opacity="0.75" stroke-width="0.90"/><circle cx="201.2" cy="57.6" r="7.7" fill="#d95f02" fill-opacity="0.14" stroke="#d95f02" stroke-opacity="0.75" stroke-width="0.90"/><circle cx="202.2" cy="58.0" r="4.0" fill="#d95f02" fill-opacity="0.14" stroke="#d95f02" stroke-opacity="0.75" stroke-width="0.90"/><circle cx="201.7" cy="57.8" r="6.0" fill="#d95f02" fill-opacity="0.14" stroke="#d95f02" stroke-opacity="0.75" stroke-width="0.90"/><circle cx="238.0" cy="45.8" r="3.6" fill="#d95f02" fill-opacity="0.14" stroke="#d95f02" stroke-opacity="0.75" stroke-width="0.90"/><circle cx="238.0" cy="45.8" r="2.4" fill="#d95f02" fill-opacity="0.14" stroke="#d95f02" stroke-opacity="0.75" stroke-width="0.90"/><circle cx="245.2" cy="56.8" r="5.6" fill="#d95f02" fill-opacity="0.14" stroke="#d95f02" stroke-opacity="0.75" stroke-width="0.90"/><circle cx="255.5" cy="58.0" r="8.3" fill="#d95f02" fill-opacity="0.14" stroke="#d95f02" stroke-opacity="0.75" stroke-width="0.90"/><circle cx="256.0" cy="65.3" r="7.7" fill="#d95f02" fill-opacity="0.14" stroke="#d95f02" stroke-opacity="0.75" stroke-width="0.90"/><circle cx="256.2" cy="65.4" r="7.3" fill="#d95f02" fill-opacity="0.14" stroke="#d95f02" stroke-opacity="0.75" stroke-width="0.90"/><circle cx="256.4" cy="65.6" r="6.4" fill="#d95f02" fill-opacity="0.14" stroke="#d95f02" stroke-opacity="0.75" stroke-width="0.90"/><circle cx="256.6" cy="65.8" r="5.0" fill="#d95f02" fill-opacity="0.14" stroke="#d95f02" stroke-opacity="0.75" stroke-width="0.90"/><circle cx="269.2" cy="63.7" r="4.6" fill="#d95f02" fill-opacity="0.14" stroke="#d95f02" stroke-opacity="0.75" stroke-width="0.90"/><circle cx="273.8" cy="62.7" r="4.0" fill="#d95f02" fill-opacity="0.14" stroke="#d95f02" stroke-opacity="0.75" stroke-width="0.90"/><circle cx="276.9" cy="64.7" r="6.6" fill="#d95f02" fill-opacity="0.14" stroke="#d95f02" stroke-opacity="0.75" stroke-width="0.90"/><circle cx="276.9" cy="64.7" r="5.0" fill="#d95f02" fill-opacity="0.14" stroke="#d95f02" stroke-opacity="0.75" stroke-width="0.90"/><circle cx="277.5" cy="65.0" r="3.0" fill="#d95f02" fill-opacity="0.14" stroke="#d95f02" stroke-opacity="0.75" stroke-width="0.90"/><circle cx="275.0" cy="64.0" r="4.5" fill="#d95f02" fill-opacity="0.14" stroke="#d95f02" stroke-opacity="0.75" stroke-width="0.90"/><circle cx="276.9" cy="40.7" r="5.1" fill="#d95f02" fill-opacity="0.14" stroke="#d95f02" stroke-opacity="0.75" stroke-width="0.90"/><circle cx="281.5" cy="41.8" r="4.5" fill="#d95f02" fill-opacity="0.14" stroke="#d95f02" stroke-opacity="0.75" stroke-width="0.90"/><circle cx="286.1" cy="41.8" r="4.6" fill="#d95f02" fill-opacity="0.14" stroke="#d95f02" stroke-opacity="0.75" stroke-width="0.90"/><circle cx="279.0" cy="40.5" r="4.0" fill="#d95f02" fill-opacity="0.14" stroke="#d95f02" stroke-opacity="0.75" stroke-width="0.90"/><circle cx="280.0" cy="42.0" r="3.0" fill="#d95f02" fill-opacity="0.14" stroke="#d95f02" stroke-opacity="0.75" stroke-width="0.90"/><circle cx="282.3" cy="53.3" r="7.7" fill="#d95f02" fill-opacity="0.14" stroke="#d95f02" stroke-opacity="0.75" stroke-width="0.90"/><circle cx="282.3" cy="53.3" r="7.7" fill="#d95f02" fill-opacity="0.14" stroke="#d95f02" stroke-opacity="0.75" stroke-width="0.90"/><circle cx="282.5" cy="53.5" r="7.2" fill="#d95f02" fill-opacity="0.14" stroke="#d95f02" stroke-opacity="0.75" stroke-width="0.90"/><circle cx="284.6" cy="51.5" r="2.0" fill="#d95f02" fill-opacity="0.14" stroke="#d95f02" stroke-opacity="0.75" stroke-width="0.90"/><circle cx="175.3" cy="180.8" r="6.1" fill="#d95f02" fill-opacity="0.14" stroke="#d95f02" stroke-opacity="0.75" stroke-width="0.90"/><circle cx="175.6" cy="181.2" r="5.5" fill="#d95f02" fill-opacity="0.14" stroke="#d95f02" stroke-opacity="0.75" stroke-width="0.90"/><circle cx="175.0" cy="180.5" r="5.0" fill="#d95f02" fill-opacity="0.14" stroke="#d95f02" stroke-opacity="0.75" stroke-width="0.90"/><circle cx="175.5" cy="181.0" r="4.0" fill="#d95f02" fill-opacity="0.14" stroke="#d95f02" stroke-opacity="0.75" stroke-width="0.90"/><circle cx="175.3" cy="180.8" r="6.4" fill="#d95f02" fill-opacity="0.14" stroke="#d95f02" stroke-opacity="0.75" stroke-width="0.90"/><circle cx="192.5" cy="200.8" r="2.2" fill="#d95f02" fill-opacity="0.14" stroke="#d95f02" stroke-opacity="0.75" stroke-width="0.90"/><circle cx="192.5" cy="200.8" r="1.6" fill="#d95f02" fill-opacity="0.14" stroke="#d95f02" stroke-opacity="0.75" stroke-width="0.90"/><circle cx="461.8" cy="182.3" r="4.2" fill="#d95f02" fill-opacity="0.14" stroke="#d95f02" stroke-opacity="0.75" stroke-width="0.90"/><circle cx="461.8" cy="182.3" r="3.6" fill="#d95f02" fill-opacity="0.14" stroke="#d95f02" stroke-opacity="0.75" stroke-width="0.90"/><circle cx="461.6" cy="182.1" r="3.0" fill="#d95f02" fill-opacity="0.14" stroke="#d95f02" stroke-opacity="0.75" stroke-width="0.90"/><circle cx="461.9" cy="182.4" r="4.0" fill="#d95f02" fill-opacity="0.14" stroke="#d95f02" stroke-opacity="0.75" stroke-width="0.90"/><circle cx="461.7" cy="182.2" r="4.1" fill="#d95f02" fill-opacity="0.14" stroke="#d95f02" stroke-opacity="0.75" stroke-width="0.90"/><circle cx="461.8" cy="182.3" r="2.2" fill="#d95f02" fill-opacity="0.14" stroke="#d95f02" stroke-opacity="0.75" stroke-width="0.90"/><circle cx="115.0" cy="373.5" r="10.1" fill="#00a8a8" fill-opacity="0.13" stroke="#00a8a8" stroke-opacity="0.85" stroke-width="1.00"/><circle cx="200.7" cy="355.8" r="2.0" fill="#00a8a8" fill-opacity="0.13" stroke="#00a8a8" stroke-opacity="0.85" stroke-width="1.00"/><circle cx="238.2" cy="343.9" r="3.6" fill="#00a8a8" fill-opacity="0.13" stroke="#00a8a8" stroke-opacity="0.85" stroke-width="1.00"/><circle cx="240.4" cy="343.1" r="3.0" fill="#00a8a8" fill-opacity="0.13" stroke="#00a8a8" stroke-opacity="0.85" stroke-width="1.00"/><circle cx="232.3" cy="346.0" r="2.9" fill="#00a8a8" fill-opacity="0.13" stroke="#00a8a8" stroke-opacity="0.85" stroke-width="1.00"/><circle cx="236.0" cy="349.0" r="3.2" fill="#00a8a8" fill-opacity="0.13" stroke="#00a8a8" stroke-opacity="0.85" stroke-width="1.00"/><circle cx="237.0" cy="341.0" r="2.5" fill="#00a8a8" fill-opacity="0.13" stroke="#00a8a8" stroke-opacity="0.85" stroke-width="1.00"/><circle cx="239.0" cy="345.0" r="2.0" fill="#00a8a8" fill-opacity="0.13" stroke="#00a8a8" stroke-opacity="0.85" stroke-width="1.00"/><circle cx="245.5" cy="354.8" r="5.4" fill="#00a8a8" fill-opacity="0.13" stroke="#00a8a8" stroke-opacity="0.85" stroke-width="1.00"/><circle cx="245.5" cy="354.8" r="5.4" fill="#00a8a8" fill-opacity="0.13" stroke="#00a8a8" stroke-opacity="0.85" stroke-width="1.00"/><circle cx="256.0" cy="364.6" r="7.6" fill="#00a8a8" fill-opacity="0.13" stroke="#00a8a8" stroke-opacity="0.85" stroke-width="1.00"/><circle cx="256.0" cy="364.6" r="7.6" fill="#00a8a8" fill-opacity="0.13" stroke="#00a8a8" stroke-opacity="0.85" stroke-width="1.00"/><circle cx="276.6" cy="362.1" r="5.4" fill="#00a8a8" fill-opacity="0.13" stroke="#00a8a8" stroke-opacity="0.85" stroke-width="1.00"/><circle cx="276.6" cy="362.1" r="4.0" fill="#00a8a8" fill-opacity="0.13" stroke="#00a8a8" stroke-opacity="0.85" stroke-width="1.00"/><circle cx="276.6" cy="362.1" r="3.0" fill="#00a8a8" fill-opacity="0.13" stroke="#00a8a8" stroke-opacity="0.85" stroke-width="1.00"/><circle cx="284.2" cy="349.7" r="1.8" fill="#00a8a8" fill-opacity="0.13" stroke="#00a8a8" stroke-opacity="0.85" stroke-width="1.00"/><circle cx="276.1" cy="338.8" r="3.5" fill="#00a8a8" fill-opacity="0.13" stroke="#00a8a8" stroke-opacity="0.85" stroke-width="1.00"/><circle cx="280.5" cy="341.0" r="3.5" fill="#00a8a8" fill-opacity="0.13" stroke="#00a8a8" stroke-opacity="0.85" stroke-width="1.00"/><circle cx="283.4" cy="339.5" r="3.0" fill="#00a8a8" fill-opacity="0.13" stroke="#00a8a8" stroke-opacity="0.85" stroke-width="1.00"/><circle cx="279.0" cy="343.1" r="3.0" fill="#00a8a8" fill-opacity="0.13" stroke="#00a8a8" stroke-opacity="0.85" stroke-width="1.00"/><circle cx="277.0" cy="341.0" r="2.5" fill="#00a8a8" fill-opacity="0.13" stroke="#00a8a8" stroke-opacity="0.85" stroke-width="1.00"/><circle cx="282.0" cy="343.0" r="2.5" fill="#00a8a8" fill-opacity="0.13" stroke="#00a8a8" stroke-opacity="0.85" stroke-width="1.00"/><circle cx="278.0" cy="339.0" r="3.0" fill="#00a8a8" fill-opacity="0.13" stroke="#00a8a8" stroke-opacity="0.85" stroke-width="1.00"/><circle cx="286.5" cy="341.5" r="3.0" fill="#00a8a8" fill-opacity="0.13" stroke="#00a8a8" stroke-opacity="0.85" stroke-width="1.00"/><circle cx="285.0" cy="343.5" r="3.2" fill="#00a8a8" fill-opacity="0.13" stroke="#00a8a8" stroke-opacity="0.85" stroke-width="1.00"/><circle cx="281.0" cy="344.5" r="2.5" fill="#00a8a8" fill-opacity="0.13" stroke="#00a8a8" stroke-opacity="0.85" stroke-width="1.00"/><circle cx="470.4" cy="475.2" r="3.6" fill="#00a8a8" fill-opacity="0.13" stroke="#00a8a8" stroke-opacity="0.85" stroke-width="1.00"/><circle cx="470.4" cy="475.2" r="3.0" fill="#00a8a8" fill-opacity="0.13" stroke="#00a8a8" stroke-opacity="0.85" stroke-width="1.00"/><text x="59.9" y="123.2" font-size="8.8" fill="#1a1a1a" font-family="Liberation Sans, sans-serif">N<tspan font-size="6.2" dy="1.6">AR</tspan><tspan dy="-1.6"> (g N m</tspan><tspan font-size="6.2" dy="-3.5" dx="0.6">−2</tspan><tspan dy="3.5"> yr</tspan><tspan font-size="6.2" dy="-3.5" dx="0.6">−1</tspan><tspan dy="3.5">)</tspan></text><circle cx="71.1" cy="135.2" r="2.00" fill="#d95f02" fill-opacity="0.13" stroke="#d95f02" stroke-opacity="0.72" stroke-width="0.9"/><text x="86.8" y="137.9" font-size="7.70" text-anchor="start" fill="#111" font-weight="normal" font-family="Liberation Sans, sans-serif" >0.3 – 1.5</text><circle cx="71.1" cy="145.7" r="3.90" fill="#d95f02" fill-opacity="0.13" stroke="#d95f02" stroke-opacity="0.72" stroke-width="0.9"/><text x="86.8" y="148.4" font-size="7.70" text-anchor="start" fill="#111" font-weight="normal" font-family="Liberation Sans, sans-serif" >1.6 – 3.0</text><circle cx="71.1" cy="158.0" r="6.00" fill="#d95f02" fill-opacity="0.13" stroke="#d95f02" stroke-opacity="0.72" stroke-width="0.9"/><text x="86.8" y="160.7" font-size="7.70" text-anchor="start" fill="#111" font-weight="normal" font-family="Liberation Sans, sans-serif" >3.1 – 6.0</text><circle cx="71.1" cy="174.0" r="7.75" fill="#d95f02" fill-opacity="0.13" stroke="#d95f02" stroke-opacity="0.72" stroke-width="0.9"/><text x="86.8" y="176.7" font-size="7.70" text-anchor="start" fill="#111" font-weight="normal" font-family="Liberation Sans, sans-serif" >6.1 – 10.0</text><circle cx="71.1" cy="194.7" r="9.30" fill="#d95f02" fill-opacity="0.13" stroke="#d95f02" stroke-opacity="0.72" stroke-width="0.9"/><text x="86.8" y="197.4" font-size="7.70" text-anchor="start" fill="#111" font-weight="normal" font-family="Liberation Sans, sans-serif" >10.1 – 16.0</text><text x="51.4" y="419.8" font-size="8.8" fill="#1a1a1a" font-family="Liberation Sans, sans-serif">N<tspan font-size="6.2" dy="1.6">2<tspan dy="-1.6" font-size="8.8"> production</tspan><tspan dy="1.6"></tspan></tspan><tspan dy="0"> (g N m</tspan><tspan font-size="6.2" dy="-3.5" dx="0.6">−2</tspan><tspan dy="3.5"> yr</tspan><tspan font-size="6.2" dy="-3.5" dx="0.6">−1</tspan><tspan dy="3.5">)</tspan></text><circle cx="63.8" cy="432.1" r="1.90" fill="#00a8a8" fill-opacity="0.13" stroke="#00a8a8" stroke-opacity="0.75" stroke-width="0.9"/><text x="80.4" y="434.8" font-size="7.70" text-anchor="start" fill="#111" font-weight="normal" font-family="Liberation Sans, sans-serif" >0.2 – 1.0</text><circle cx="63.8" cy="442.6" r="3.80" fill="#00a8a8" fill-opacity="0.13" stroke="#00a8a8" stroke-opacity="0.75" stroke-width="0.9"/><text x="80.4" y="445.3" font-size="7.70" text-anchor="start" fill="#111" font-weight="normal" font-family="Liberation Sans, sans-serif" >1.1 – 2.0</text><circle cx="63.8" cy="454.3" r="5.70" fill="#00a8a8" fill-opacity="0.13" stroke="#00a8a8" stroke-opacity="0.75" stroke-width="0.9"/><text x="80.4" y="457.0" font-size="7.70" text-anchor="start" fill="#111" font-weight="normal" font-family="Liberation Sans, sans-serif" >2.1 – 3.0</text><circle cx="63.8" cy="470.9" r="7.80" fill="#00a8a8" fill-opacity="0.13" stroke="#00a8a8" stroke-opacity="0.75" stroke-width="0.9"/><text x="80.4" y="473.6" font-size="7.70" text-anchor="start" fill="#111" font-weight="normal" font-family="Liberation Sans, sans-serif" >8 – 11</text><circle cx="63.8" cy="493.3" r="10.00" fill="#00a8a8" fill-opacity="0.13" stroke="#00a8a8" stroke-opacity="0.75" stroke-width="0.9"/><text x="80.4" y="496.0" font-size="7.70" text-anchor="start" fill="#111" font-weight="normal" font-family="Liberation Sans, sans-serif" >12 – 21</text><rect x="539.5" y="44.8" width="12.1" height="1.1" fill="#d95f02" fill-opacity="0.30"/><rect x="539.5" y="46.0" width="27.9" height="1.1" fill="#d95f02" fill-opacity="0.55"/><rect x="539.5" y="46.5" width="35.8" height="1.1" fill="#d95f02" fill-opacity="0.30"/><rect x="539.5" y="47.4" width="40.2" height="1.1" fill="#d95f02" fill-opacity="0.25"/><rect x="539.5" y="48.6" width="37.5" height="1.1" fill="#d95f02" fill-opacity="0.20"/><rect x="539.5" y="50.0" width="52.5" height="1.1" fill="#d95f02" fill-opacity="0.30"/><rect x="539.5" y="51.4" width="44.5" height="1.1" fill="#d95f02" fill-opacity="0.30"/><rect x="539.5" y="52.6" width="39.3" height="1.1" fill="#d95f02" fill-opacity="0.35"/><rect x="539.5" y="53.5" width="9.5" height="1.1" fill="#d95f02" fill-opacity="0.50"/><rect x="539.5" y="54.9" width="9.5" height="1.1" fill="#d95f02" fill-opacity="0.30"/><rect x="539.5" y="56.7" width="62.9" height="1.1" fill="#d95f02" fill-opacity="0.70"/><rect x="539.5" y="57.5" width="18.3" height="1.1" fill="#d95f02" fill-opacity="0.35"/><rect x="539.5" y="60.9" width="21.8" height="1.1" fill="#d95f02" fill-opacity="0.70"/><rect x="539.5" y="61.4" width="53.3" height="1.1" fill="#d95f02" fill-opacity="0.30"/><rect x="539.5" y="62.6" width="106.2" height="1.1" fill="#d95f02" fill-opacity="0.30"/><rect x="539.5" y="64.9" width="55.9" height="1.1" fill="#d95f02" fill-opacity="0.50"/><rect x="539.5" y="65.8" width="96.2" height="1.1" fill="#d95f02" fill-opacity="0.45"/><rect x="539.5" y="65.8" width="22.5" height="1.1" fill="#d95f02" fill-opacity="0.50"/><rect x="539.5" y="66.7" width="25.3" height="1.1" fill="#d95f02" fill-opacity="0.80"/><rect x="539.5" y="67.2" width="63.8" height="1.1" fill="#d95f02" fill-opacity="0.35"/><rect x="539.5" y="67.9" width="42.8" height="1.1" fill="#d95f02" fill-opacity="0.50"/><rect x="539.5" y="68.4" width="25.3" height="1.1" fill="#d95f02" fill-opacity="0.80"/><rect x="539.5" y="69.2" width="13.0" height="1.1" fill="#d95f02" fill-opacity="0.80"/><rect x="539.5" y="68.9" width="20.5" height="1.1" fill="#d95f02" fill-opacity="0.50"/><rect x="539.5" y="70.2" width="6.0" height="1.1" fill="#d95f02" fill-opacity="0.70"/><rect x="539.5" y="70.7" width="2.5" height="1.1" fill="#d95f02" fill-opacity="0.70"/><rect x="539.5" y="77.2" width="13.0" height="1.1" fill="#d95f02" fill-opacity="0.70"/><rect x="539.5" y="77.7" width="33.2" height="1.1" fill="#d95f02" fill-opacity="0.50"/><rect x="539.5" y="174.3" width="17.0" height="1.1" fill="#d95f02" fill-opacity="0.30"/><rect x="539.5" y="175.3" width="17.0" height="1.1" fill="#d95f02" fill-opacity="0.30"/><rect x="539.5" y="176.0" width="16.5" height="1.1" fill="#d95f02" fill-opacity="0.30"/><rect x="539.5" y="176.8" width="35.4" height="1.1" fill="#d95f02" fill-opacity="0.35"/><rect x="539.5" y="177.3" width="21.3" height="1.1" fill="#d95f02" fill-opacity="0.60"/><rect x="539.5" y="177.9" width="13.0" height="1.1" fill="#d95f02" fill-opacity="0.75"/><rect x="539.5" y="178.8" width="13.5" height="1.1" fill="#d95f02" fill-opacity="0.50"/><rect x="539.5" y="195.8" width="5.1" height="1.1" fill="#d95f02" fill-opacity="0.50"/><rect x="539.5" y="342.8" width="9.7" height="1.1" fill="#2a9c9c" fill-opacity="0.50"/><rect x="539.5" y="344.3" width="15.2" height="1.1" fill="#2a9c9c" fill-opacity="0.30"/><rect x="539.5" y="344.9" width="5.4" height="1.1" fill="#2a9c9c" fill-opacity="0.70"/><rect x="539.5" y="348.2" width="9.7" height="1.1" fill="#2a9c9c" fill-opacity="0.35"/><rect x="539.5" y="353.1" width="6.5" height="1.1" fill="#2a9c9c" fill-opacity="0.50"/><rect x="539.5" y="358.6" width="14.1" height="1.1" fill="#2a9c9c" fill-opacity="0.75"/><rect x="539.5" y="365.8" width="16.3" height="1.1" fill="#2a9c9c" fill-opacity="0.55"/><rect x="539.5" y="366.8" width="16.3" height="1.1" fill="#2a9c9c" fill-opacity="0.70"/><rect x="539.5" y="367.8" width="68.4" height="1.1" fill="#2a9c9c" fill-opacity="0.35"/><rect x="539.5" y="375.6" width="140.0" height="1.1" fill="#2a9c9c" fill-opacity="0.50"/><rect x="539.5" y="471.3" width="11.9" height="1.1" fill="#2a9c9c" fill-opacity="0.45"/><line x1="565.4" y1="24" x2="565.4" y2="236.5" stroke="#9a9a9a" stroke-width="0.8" stroke-dasharray="3.2,2.6"/><line x1="555.3" y1="322" x2="555.3" y2="534.5" stroke="#9a9a9a" stroke-width="0.8" stroke-dasharray="3.2,2.6"/><text x="0.0" y="0.0" font-size="10.40" text-anchor="start" fill="#b8b8b8" font-weight="normal" font-family="Liberation Sans, sans-serif" transform="translate(569.8,103.8) rotate(90)">Global Median</text><text x="0.0" y="0.0" font-size="10.40" text-anchor="start" fill="#b8b8b8" font-weight="normal" font-family="Liberation Sans, sans-serif" transform="translate(559.6,402) rotate(90)">Global Median</text><line x1="539" y1="24.1" x2="539" y2="236.7" stroke="#333" stroke-width="1"/><line x1="538.5" y1="236.7" x2="681.5" y2="236.7" stroke="#333" stroke-width="1"/><text x="533.3" y="38.4" font-size="10.00" text-anchor="end" fill="#111" font-weight="normal" font-family="Liberation Sans, sans-serif" >90°N</text><line x1="535" y1="34.8" x2="539" y2="34.8" stroke="#333" stroke-width="0.9"/><text x="533.3" y="70.4" font-size="10.00" text-anchor="end" fill="#111" font-weight="normal" font-family="Liberation Sans, sans-serif" >60°N</text><line x1="535" y1="66.8" x2="539" y2="66.8" stroke="#333" stroke-width="0.9"/><text x="533.3" y="102.3" font-size="10.00" text-anchor="end" fill="#111" font-weight="normal" font-family="Liberation Sans, sans-serif" >30°N</text><line x1="535" y1="98.7" x2="539" y2="98.7" stroke="#333" stroke-width="0.9"/><text x="533.3" y="134.3" font-size="10.00" text-anchor="end" fill="#111" font-weight="normal" font-family="Liberation Sans, sans-serif" >0°</text><line x1="535" y1="130.7" x2="539" y2="130.7" stroke="#333" stroke-width="0.9"/><text x="533.3" y="166.3" font-size="10.00" text-anchor="end" fill="#111" font-weight="normal" font-family="Liberation Sans, sans-serif" >30°S</text><line x1="535" y1="162.7" x2="539" y2="162.7" stroke="#333" stroke-width="0.9"/><text x="533.3" y="198.2" font-size="10.00" text-anchor="end" fill="#111" font-weight="normal" font-family="Liberation Sans, sans-serif" >60°S</text><line x1="535" y1="194.6" x2="539" y2="194.6" stroke="#333" stroke-width="0.9"/><text x="533.3" y="230.2" font-size="10.00" text-anchor="end" fill="#111" font-weight="normal" font-family="Liberation Sans, sans-serif" >90°S</text><line x1="535" y1="226.6" x2="539" y2="226.6" stroke="#333" stroke-width="0.9"/><line x1="539.0" y1="236.7" x2="539.0" y2="239.7" stroke="#333" stroke-width="0.9"/><text x="539.0" y="249.3" font-size="10.20" text-anchor="middle" fill="#111" font-weight="normal" font-family="Liberation Sans, sans-serif" >0</text><line x1="559.3" y1="236.7" x2="559.3" y2="239.7" stroke="#333" stroke-width="0.9"/><text x="559.3" y="249.3" font-size="10.20" text-anchor="middle" fill="#111" font-weight="normal" font-family="Liberation Sans, sans-serif" >3</text><line x1="579.6" y1="236.7" x2="579.6" y2="239.7" stroke="#333" stroke-width="0.9"/><text x="579.6" y="249.3" font-size="10.20" text-anchor="middle" fill="#111" font-weight="normal" font-family="Liberation Sans, sans-serif" >6</text><line x1="599.9" y1="236.7" x2="599.9" y2="239.7" stroke="#333" stroke-width="0.9"/><text x="599.9" y="249.3" font-size="10.20" text-anchor="middle" fill="#111" font-weight="normal" font-family="Liberation Sans, sans-serif" >9</text><line x1="620.3" y1="236.7" x2="620.3" y2="239.7" stroke="#333" stroke-width="0.9"/><text x="620.3" y="249.3" font-size="10.20" text-anchor="middle" fill="#111" font-weight="normal" font-family="Liberation Sans, sans-serif" >12</text><line x1="640.6" y1="236.7" x2="640.6" y2="239.7" stroke="#333" stroke-width="0.9"/><text x="640.6" y="249.3" font-size="10.20" text-anchor="middle" fill="#111" font-weight="normal" font-family="Liberation Sans, sans-serif" >15</text><line x1="660.9" y1="236.7" x2="660.9" y2="239.7" stroke="#333" stroke-width="0.9"/><text x="660.9" y="249.3" font-size="10.20" text-anchor="middle" fill="#111" font-weight="normal" font-family="Liberation Sans, sans-serif" >18</text><line x1="681.2" y1="236.7" x2="681.2" y2="239.7" stroke="#333" stroke-width="0.9"/><text x="681.2" y="249.3" font-size="10.20" text-anchor="middle" fill="#111" font-weight="normal" font-family="Liberation Sans, sans-serif" >21</text><text x="562.6" y="266.2" font-size="11.7" fill="#1a1a1a" font-family="Liberation Sans, sans-serif">N<tspan font-size="8.2" dy="2">AR</tspan><tspan dy="-2"> (g N m</tspan><tspan font-size="8.2" dy="-4.5" dx="0.9">−2</tspan><tspan dy="4.5"> yr</tspan><tspan font-size="8.2" dy="-4.5" dx="0.9">−1</tspan><tspan dy="4.5">)</tspan></text><line x1="539" y1="322.0" x2="539" y2="534.5" stroke="#333" stroke-width="1"/><line x1="538.5" y1="534.5" x2="681.5" y2="534.5" stroke="#333" stroke-width="1"/><text x="533.3" y="336.3" font-size="10.00" text-anchor="end" fill="#111" font-weight="normal" font-family="Liberation Sans, sans-serif" >90°N</text><line x1="535" y1="332.7" x2="539" y2="332.7" stroke="#333" stroke-width="0.9"/><text x="533.3" y="368.2" font-size="10.00" text-anchor="end" fill="#111" font-weight="normal" font-family="Liberation Sans, sans-serif" >60°N</text><line x1="535" y1="364.6" x2="539" y2="364.6" stroke="#333" stroke-width="0.9"/><text x="533.3" y="400.2" font-size="10.00" text-anchor="end" fill="#111" font-weight="normal" font-family="Liberation Sans, sans-serif" >30°N</text><line x1="535" y1="396.6" x2="539" y2="396.6" stroke="#333" stroke-width="0.9"/><text x="533.3" y="432.2" font-size="10.00" text-anchor="end" fill="#111" font-weight="normal" font-family="Liberation Sans, sans-serif" >0°</text><line x1="535" y1="428.6" x2="539" y2="428.6" stroke="#333" stroke-width="0.9"/><text x="533.3" y="464.1" font-size="10.00" text-anchor="end" fill="#111" font-weight="normal" font-family="Liberation Sans, sans-serif" >30°S</text><line x1="535" y1="460.5" x2="539" y2="460.5" stroke="#333" stroke-width="0.9"/><text x="533.3" y="496.1" font-size="10.00" text-anchor="end" fill="#111" font-weight="normal" font-family="Liberation Sans, sans-serif" >60°S</text><line x1="535" y1="492.5" x2="539" y2="492.5" stroke="#333" stroke-width="0.9"/><text x="533.3" y="528.0" font-size="10.00" text-anchor="end" fill="#111" font-weight="normal" font-family="Liberation Sans, sans-serif" >90°S</text><line x1="535" y1="524.4" x2="539" y2="524.4" stroke="#333" stroke-width="0.9"/><line x1="539.0" y1="534.5" x2="539.0" y2="537.5" stroke="#333" stroke-width="0.9"/><text x="539.0" y="547.1" font-size="10.20" text-anchor="middle" fill="#111" font-weight="normal" font-family="Liberation Sans, sans-serif" >0</text><line x1="559.3" y1="534.5" x2="559.3" y2="537.5" stroke="#333" stroke-width="0.9"/><text x="559.3" y="547.1" font-size="10.20" text-anchor="middle" fill="#111" font-weight="normal" font-family="Liberation Sans, sans-serif" >3</text><line x1="579.6" y1="534.5" x2="579.6" y2="537.5" stroke="#333" stroke-width="0.9"/><text x="579.6" y="547.1" font-size="10.20" text-anchor="middle" fill="#111" font-weight="normal" font-family="Liberation Sans, sans-serif" >6</text><line x1="599.9" y1="534.5" x2="599.9" y2="537.5" stroke="#333" stroke-width="0.9"/><text x="599.9" y="547.1" font-size="10.20" text-anchor="middle" fill="#111" font-weight="normal" font-family="Liberation Sans, sans-serif" >9</text><line x1="620.3" y1="534.5" x2="620.3" y2="537.5" stroke="#333" stroke-width="0.9"/><text x="620.3" y="547.1" font-size="10.20" text-anchor="middle" fill="#111" font-weight="normal" font-family="Liberation Sans, sans-serif" >12</text><line x1="640.6" y1="534.5" x2="640.6" y2="537.5" stroke="#333" stroke-width="0.9"/><text x="640.6" y="547.1" font-size="10.20" text-anchor="middle" fill="#111" font-weight="normal" font-family="Liberation Sans, sans-serif" >15</text><line x1="660.9" y1="534.5" x2="660.9" y2="537.5" stroke="#333" stroke-width="0.9"/><text x="660.9" y="547.1" font-size="10.20" text-anchor="middle" fill="#111" font-weight="normal" font-family="Liberation Sans, sans-serif" >18</text><line x1="681.2" y1="534.5" x2="681.2" y2="537.5" stroke="#333" stroke-width="0.9"/><text x="681.2" y="547.1" font-size="10.20" text-anchor="middle" fill="#111" font-weight="normal" font-family="Liberation Sans, sans-serif" >21</text><text x="536.8" y="563.8" font-size="11.7" fill="#1a1a1a" font-family="Liberation Sans, sans-serif">N<tspan font-size="8.2" dy="2">2<tspan dy="-2" font-size="11.65"> production</tspan><tspan dy="2"></tspan></tspan><tspan dy="0"> (g N m</tspan><tspan font-size="8.2" dy="-4.5" dx="0.9">−2</tspan><tspan dy="4.5"> yr</tspan><tspan font-size="8.2" dy="-4.5" dx="0.9">−1</tspan><tspan dy="4.5">)</tspan></text><defs><clipPath id="cclip"><rect x="35.5" y="600" width="428.5" height="168.7"/></clipPath></defs><g clip-path="url(#cclip)"><path d="M-66.1,687.4L-60.7,685.8L-55.4,685.0L-51.6,684.0L-56.7,682.1L-62.9,680.1L-61.3,678.7L-54.1,675.8L-49.8,675.0L-36.1,672.1L-28.6,673.2L-23.3,673.7L-13.9,675.0L-4.5,675.5L6.2,676.7L14.2,677.9L22.3,677.1L30.3,676.9L41.0,674.2L49.1,676.9L57.1,676.3L67.8,678.4L75.8,679.0L83.9,681.6L94.6,681.1L99.9,679.0L110.6,681.6L121.4,681.6L126.7,681.1L130.7,677.1L133.4,671.9L130.7,670.5L137.4,674.5L145.5,679.0L150.8,683.2L154.8,676.3L164.2,676.9L165.5,681.1L162.9,684.7L153.0,685.0L150.8,690.3L146.8,691.6L141.4,692.9L134.7,695.5L132.1,699.5L129.9,704.7L131.5,705.3L136.1,710.0L146.8,711.3L156.2,714.5L163.4,715.0L163.4,720.5L168.2,725.0L171.7,724.5L172.8,719.2L171.7,716.6L177.6,713.1L178.4,708.7L174.9,705.5L176.3,700.8L174.4,696.1L176.3,695.3L185.6,696.1L192.3,698.9L196.3,699.5L197.7,702.6L197.7,705.3L203.0,706.6L208.4,704.7L210.8,701.3L213.7,705.5L219.1,711.3L223.1,714.5L229.8,716.6L233.8,719.2L234.6,722.6L229.8,724.7L223.1,727.9L212.4,727.9L205.7,727.9L200.4,730.2L196.3,733.7L193.7,736.3L197.7,733.7L205.7,730.5L211.6,731.3L210.3,734.4L210.3,737.6L213.7,738.4L219.1,739.7L222.6,738.4L223.7,738.9L220.4,741.0L213.7,742.6L208.4,745.2L206.5,743.4L211.1,740.8L207.1,741.0L203.8,742.3L200.4,743.7L195.8,745.2L194.2,747.9L196.3,749.4L196.1,750.5L192.3,751.0L187.0,752.1L185.6,753.1L185.6,756.0L183.2,757.6L181.6,758.9L180.3,762.3L181.6,766.5L181.6,767.3L178.9,768.6L174.9,770.7L171.7,772.6L167.4,775.5L165.8,779.7L168.0,784.9L169.6,790.2L168.8,793.4L166.6,793.6L164.7,791.0L162.3,786.8L162.1,783.6L158.8,780.7L154.8,781.5L152.2,779.9L148.1,779.7L144.1,780.5L144.9,783.4L141.4,783.4L137.4,782.1L132.6,781.8L129.4,783.1L124.0,786.8L123.0,791.5L122.2,796.8L121.9,802.0L123.2,805.2L125.9,809.4L129.4,811.0L132.1,812.0L137.4,811.0L140.1,810.5L141.4,807.8L142.0,804.7L148.1,803.4L151.3,803.6L149.7,808.6L148.1,811.2L147.6,817.0L146.5,818.3L152.2,818.3L158.8,818.3L160.7,820.5L160.2,825.7L159.7,831.0L164.2,835.7L166.9,836.5L170.1,834.9L173.6,835.2L176.8,837.5L176.5,839.9L174.4,838.3L170.9,836.5L169.0,840.2L165.5,838.6L161.5,838.1L157.5,834.7L154.3,833.6L153.8,830.2L150.0,826.0L146.8,824.9L140.1,823.3L136.6,821.8L133.4,818.3L129.9,817.3L125.4,818.6L120.0,817.0L113.3,814.7L106.6,811.8L101.8,808.6L100.7,806.0L101.8,803.4L99.4,798.9L94.6,794.2L90.8,791.5L86.5,786.5L83.1,782.3L80.9,777.8L76.4,776.5L77.2,780.7L80.7,784.2L83.3,787.6L85.2,791.5L87.6,796.0L90.6,798.9L89.0,799.7L84.1,794.9L83.3,791.5L78.0,786.8L77.2,784.2L73.7,780.2L71.0,776.3L69.9,773.9L67.0,771.0L63.8,769.4L60.8,768.9L57.4,763.9L56.0,761.3L54.4,760.0L52.5,757.3L50.9,753.9L51.5,750.0L50.4,747.3L51.5,742.9L52.0,738.4L51.2,735.0L49.9,732.6L54.1,733.1L54.9,731.0L53.9,730.2L50.4,727.9L45.0,725.8L41.6,723.7L39.7,721.0L35.7,717.4L34.3,715.8L31.6,713.9L27.6,710.5L23.6,707.4L18.3,706.0L14.8,704.7L10.2,702.9L4.9,702.1L-0.5,702.1L-7.2,700.5L-12.5,700.8L-16.6,702.9L-22.5,704.2L-21.6,700.3L-17.9,698.9L-24.1,701.3L-28.6,703.7L-28.6,706.3L-34.0,708.4L-39.3,711.0L-44.1,712.9L-48.7,714.5L-52.7,715.8L-57.5,716.8L-54.1,715.0L-49.5,712.9L-44.7,711.6L-40.4,709.2L-38.0,706.3L-41.7,705.5L-46.0,705.5L-50.0,703.2L-54.9,702.4L-58.1,700.5L-58.9,698.7L-60.2,695.8L-56.7,693.7L-51.4,692.9L-47.4,691.3L-47.9,690.3L-52.7,690.0L-57.8,690.3L-61.6,690.0L-62.9,688.4ZM53.6,732.6L49.1,731.6L40.2,726.8L42.4,726.0L49.1,727.9L52.3,730.2ZM224.7,732.9L227.1,729.7L231.2,725.0L234.6,724.2L235.2,729.2L240.5,731.0L242.7,734.7L240.5,737.1L234.4,736.3L224.7,734.7ZM156.4,802.3L164.2,800.2L169.6,799.1L176.3,802.6L181.1,804.4L185.4,806.8L181.6,807.6L175.7,807.8L177.1,805.5L173.6,803.1L165.5,801.8L161.5,802.0ZM184.6,811.5L188.8,807.6L196.3,808.1L200.9,811.0L197.7,811.5L192.9,813.3L188.6,811.8ZM174.1,811.5L179.5,812.0L178.1,812.8L175.5,812.8ZM203.8,811.2L208.1,811.5L207.9,812.6L203.8,812.6ZM188.3,654.2L195.0,651.3L205.7,648.2L217.8,645.0L231.2,643.7L249.9,642.7L266.0,641.3L282.0,640.3L298.1,640.0L314.2,640.8L327.6,642.1L341.0,644.0L351.7,645.3L349.0,647.9L339.6,650.6L331.6,653.4L328.9,657.4L326.2,661.3L323.5,664.5L319.5,669.2L311.5,673.2L306.1,674.7L299.4,679.0L291.4,682.9L284.7,685.3L278.0,688.4L275.3,691.6L273.5,695.5L269.7,699.5L267.3,702.1L264.6,701.8L260.6,700.3L253.9,698.9L250.7,696.1L248.6,692.9L245.3,690.8L242.7,687.6L240.3,684.7L240.5,680.8L247.2,679.2L246.4,676.6L239.2,674.0L243.2,672.4L235.2,671.1L233.8,668.2L232.5,665.3L227.1,661.9L220.4,659.8L205.7,659.8L197.7,658.4L192.3,656.6ZM176.5,839.9L176.8,837.5L180.3,834.9L181.6,832.3L184.3,831.0L188.3,830.2L191.0,828.3L192.3,827.3L193.1,831.0L191.5,832.0L192.1,835.7L193.7,834.9L193.1,831.5L195.8,829.4L200.4,831.0L205.7,832.0L211.1,833.1L216.4,831.8L220.4,833.6L221.8,837.5L225.3,840.2L229.8,844.1L235.2,844.4L239.2,844.9L243.2,846.8L245.9,848.6L248.6,854.6L249.9,858.6L251.2,860.4L255.3,862.5L259.3,862.5L264.6,866.5L270.0,867.3L274.0,867.5L278.0,868.3L280.7,869.6L284.7,872.5L289.3,873.6L290.6,879.6L289.5,884.9L286.1,887.5L283.4,890.9L279.9,894.1L279.4,899.4L279.4,905.9L277.5,911.2L275.3,915.1L272.7,919.1L270.0,920.4L264.6,920.9L259.3,923.0L256.6,925.7L253.6,929.6L253.1,934.9L249.9,938.8L247.2,941.4L243.2,946.7L240.5,949.3L237.8,951.4L233.8,951.7L229.8,950.4L227.1,949.8L230.4,953.3L231.7,955.9L229.8,959.8L227.1,961.7L220.4,962.5L217.0,961.9L217.0,966.4L213.7,968.0L209.7,967.7L211.1,971.1L212.9,971.9L210.3,973.5L208.9,976.9L205.7,978.2L203.0,981.7L207.1,984.8L204.4,987.5L201.7,990.1L200.4,992.2L199.0,994.8L200.6,997.7L197.7,998.2L200.1,999.3L201.2,1002.7L204.4,1004.3L200.4,1005.3L196.3,1005.1L192.3,1003.2L188.3,999.8L184.3,996.7L182.1,991.4L181.6,986.1L184.3,983.0L183.0,979.6L186.2,975.6L186.2,971.7L187.0,969.0L186.2,963.8L187.0,959.3L189.1,953.3L191.8,948.0L192.3,941.4L192.6,936.2L194.2,930.9L195.0,925.7L195.3,920.4L195.8,913.8L195.5,908.0L192.3,905.9L187.0,902.8L181.6,899.4L178.9,895.4L176.3,891.5L173.6,886.2L170.9,880.4L168.2,877.0L166.3,875.4L166.1,871.2L168.8,868.8L169.6,866.5L167.4,863.8L168.2,861.2L169.6,857.8L172.2,855.4L173.6,853.3L176.3,849.4L176.8,844.1ZM200.1,998.2L203.0,1000.6L208.9,1004.0L204.4,1005.3L197.7,1005.6L191.0,1003.2L195.0,1000.6ZM221.5,995.1L227.1,995.1L228.5,996.1L225.3,996.9L221.8,996.7ZM368.8,765.2L366.9,763.6L364.0,762.1L360.0,762.6L360.2,759.2L358.4,757.9L360.0,754.2L360.2,750.0L358.9,746.8L362.4,745.0L367.7,745.2L373.6,745.5L379.0,745.8L380.3,742.9L380.6,738.9L377.9,736.0L375.8,735.0L372.0,733.9L370.9,732.6L375.2,731.6L379.5,732.1L378.7,729.2L380.6,730.0L384.3,729.7L387.8,728.1L388.4,726.0L392.4,725.0L395.3,723.4L396.4,721.0L398.5,719.5L402.5,719.2L406.6,718.9L407.6,717.4L406.8,713.9L405.5,711.0L406.8,709.7L412.2,708.1L411.9,711.3L413.0,711.8L411.1,713.9L409.8,715.2L410.6,716.6L413.3,717.9L417.3,716.8L421.8,718.1L426.6,717.1L433.3,715.8L436.3,716.8L440.3,713.4L440.0,710.5L441.6,708.9L444.3,708.1L446.7,710.0L448.9,709.5L449.1,706.6L446.7,705.8L446.7,704.2L452.1,703.2L458.8,703.4L463.6,702.4L461.5,701.6L456.1,700.8L450.8,701.6L445.1,702.4L440.8,700.0L441.1,697.1L440.6,694.2L443.5,692.1L449.4,689.2L451.8,688.2L448.6,686.8L444.1,686.8L440.8,689.0L439.8,691.3L434.7,693.2L431.5,695.8L430.1,698.2L429.9,700.3L433.3,701.6L434.4,702.9L430.7,705.3L428.0,708.7L427.5,710.8L426.1,712.4L422.1,713.7L418.3,714.2L417.0,712.1L415.4,708.4L413.5,704.7L412.2,702.4L411.1,704.7L407.9,705.8L405.2,707.1L401.5,707.1L398.8,705.5L398.0,703.4L397.2,700.8L397.2,697.9L398.0,696.3L401.2,695.3L403.9,693.9L407.1,692.9L410.6,691.3L413.8,689.2L416.7,686.8L419.1,684.0L423.2,681.3L425.3,679.7L429.1,678.2L432.8,676.3L436.8,675.5L441.6,675.0L446.7,674.0L452.9,672.9L457.4,673.4L461.5,674.0L466.8,675.0L464.7,676.6L472.2,677.4L478.9,677.9L485.6,679.7L491.7,681.6L494.4,684.2L491.5,685.5L486.9,686.3L478.9,685.3L473.5,684.5L476.2,687.6L477.0,690.5L481.5,691.6L484.5,690.8L490.9,690.0L492.5,687.9L496.8,685.0L501.6,685.5L502.2,682.4L499.8,679.5L508.1,681.1L509.7,682.4L513.7,681.8L519.0,680.5L527.1,679.0L530.6,680.5L537.8,679.5L541.8,680.0L544.5,678.4L546.6,676.3L553.9,677.1L560.5,678.2L564.6,679.5L567.2,680.5L568.6,678.4L563.2,675.8L563.2,672.6L567.2,669.2L569.9,667.4L573.9,667.9L578.0,669.0L578.8,671.9L578.0,675.8L580.6,679.7L579.8,684.2L583.3,681.6L584.6,679.7L583.3,676.3L581.4,672.4L586.0,669.5L592.7,670.0L599.4,670.5L600.7,666.6L608.8,665.8L615.4,665.5L616.8,662.7L624.8,661.1L635.5,660.0L643.6,659.8L652.9,658.7L663.1,655.5L669.0,656.3L671.7,658.7L681.1,658.2L687.8,660.5L686.4,665.3L683.7,666.3L689.1,666.3L701.1,666.6L713.2,666.1L722.6,666.6L728.7,669.0L730.6,671.9L736.0,673.7L740.0,671.9L748.0,671.6L756.0,670.0L761.4,668.4L774.8,669.8L785.5,671.9L792.2,673.4L804.2,673.2L810.9,674.0L812.3,676.3L817.6,676.9L824.3,676.9L832.4,676.6L839.1,675.8L840.4,677.1L849.8,676.1L857.8,677.1L865.8,678.7L865.8,689.0L861.8,690.0L857.8,689.7L860.5,692.9L863.2,695.8L857.8,695.3L851.1,697.4L844.4,699.7L839.1,702.1L832.4,701.3L825.7,702.1L821.7,702.6L820.3,706.0L817.6,707.9L820.8,707.9L819.0,711.8L817.1,714.7L812.5,717.4L809.1,720.5L805.6,723.7L803.4,725.8L802.9,721.8L801.0,716.6L800.5,712.6L803.7,708.1L808.3,706.6L813.1,703.4L817.1,701.0L813.6,698.2L810.9,697.4L804.2,697.9L798.9,703.7L793.5,704.5L788.2,703.2L781.5,703.9L773.4,703.7L766.8,703.7L760.1,706.6L754.7,710.5L750.7,715.2L745.9,716.0L752.0,717.9L757.4,717.4L762.5,721.6L760.6,725.8L759.8,731.6L754.7,736.3L749.3,741.8L745.3,745.0L740.0,747.3L736.0,746.8L733.8,748.7L731.1,752.1L730.3,755.2L725.2,756.0L727.9,759.2L730.3,763.1L729.8,767.3L723.9,768.9L722.0,769.2L722.6,765.7L722.8,761.3L719.4,760.7L719.1,757.9L717.7,755.5L714.5,755.2L709.4,757.6L710.2,753.6L707.8,752.6L703.8,755.0L699.8,757.1L698.7,758.4L701.9,761.3L703.8,762.3L707.8,760.7L712.1,761.5L709.2,763.1L706.0,764.7L703.3,767.9L706.0,769.7L707.6,774.4L710.2,776.5L710.2,778.9L709.2,782.3L709.4,784.9L706.8,788.1L704.1,791.5L702.5,793.6L698.5,796.8L694.4,799.7L689.6,801.3L685.1,802.6L680.5,804.1L679.2,806.5L677.8,803.6L674.4,803.1L669.8,805.5L666.9,809.9L669.0,813.1L671.7,816.5L675.2,819.7L676.5,824.4L676.2,829.1L673.0,831.5L669.8,832.5L665.3,837.3L664.5,834.1L663.4,832.3L659.6,829.7L657.8,827.8L654.0,826.5L653.2,824.4L651.6,824.9L649.5,833.1L651.3,835.7L652.7,840.7L654.3,841.8L657.2,843.6L660.7,847.3L661.0,852.5L662.8,856.2L661.0,856.5L658.3,854.6L655.1,852.3L652.9,848.9L652.4,845.4L651.9,843.1L650.8,842.0L647.6,838.1L647.0,834.9L647.9,831.0L647.6,827.0L645.4,820.5L644.9,816.5L641.7,815.7L639.3,818.3L636.3,817.8L636.9,813.9L636.1,810.5L634.2,808.4L631.2,805.5L630.2,803.4L629.6,801.0L626.4,801.0L624.8,802.3L622.1,802.8L620.0,802.8L616.5,804.7L615.4,806.8L611.4,809.1L608.8,811.8L603.9,816.2L600.7,818.3L598.8,819.1L598.3,824.7L597.5,829.7L597.8,832.8L595.4,835.4L593.2,836.5L591.3,838.6L588.9,836.5L587.6,832.8L585.7,828.9L583.8,825.7L582.5,821.2L580.6,817.8L579.3,811.2L578.8,807.8L578.8,804.7L577.2,803.9L573.4,805.5L569.1,802.3L570.5,800.7L567.8,799.9L566.4,797.8L564.3,796.8L562.7,794.4L562.2,793.1L556.5,793.4L548.8,793.6L543.1,793.1L537.5,792.0L535.9,788.9L534.3,788.4L530.6,790.2L527.1,789.2L523.1,786.8L520.1,784.2L518.5,781.3L516.4,780.7L514.8,779.9L512.3,781.3L513.1,784.9L515.6,787.3L518.0,789.9L518.2,792.6L519.8,794.7L521.2,795.5L522.0,791.8L522.0,795.7L524.4,796.3L528.4,796.5L531.6,794.2L533.8,792.0L534.8,790.7L534.6,793.4L535.1,795.5L537.8,797.3L541.0,798.1L543.9,800.7L542.6,803.6L540.5,806.2L538.6,808.1L538.3,810.2L535.4,811.2L532.2,813.3L528.4,815.5L523.6,818.1L520.4,820.2L516.4,821.5L513.7,823.1L509.7,825.2L505.6,825.7L502.2,826.8L500.3,826.5L499.5,824.4L498.4,819.9L498.2,815.7L495.7,813.1L493.1,808.4L490.1,806.0L488.5,802.6L486.9,797.8L484.2,795.5L481.5,791.5L479.1,788.1L477.0,785.5L477.3,782.3L475.7,786.3L473.2,784.7L471.1,781.3L470.3,777.6L475.4,777.6L476.5,776.3L477.5,773.4L478.9,770.7L479.9,767.9L480.2,765.5L480.7,763.6L478.9,763.6L476.5,763.1L473.8,764.7L470.8,765.0L467.6,763.1L465.5,764.2L462.8,764.7L459.6,763.1L456.9,762.6L456.6,760.2L454.8,759.2L455.6,756.8L454.0,756.0L454.0,754.4L454.0,753.1L452.1,752.6L448.1,752.9L445.4,753.9L447.3,755.0L444.3,754.7L445.1,756.8L446.2,758.6L448.1,760.0L445.7,761.8L444.6,764.2L442.7,762.6L441.6,763.1L440.3,760.5L440.8,759.2L439.2,757.6L437.4,755.5L435.8,753.6L436.0,750.2L433.3,748.1L430.7,746.8L426.6,745.5L424.5,743.7L422.1,741.0L420.5,741.3L420.2,739.4L416.7,740.8L416.7,742.6L420.0,745.2L421.3,747.9L424.5,749.7L426.6,750.8L429.3,752.1L433.3,754.4L432.0,755.0L429.6,753.4L428.0,755.2L429.6,757.3L428.3,758.9L426.6,760.0L425.8,759.4L426.4,756.0L425.0,754.7L423.7,753.6L421.3,752.6L420.2,751.3L417.0,750.2L413.5,748.4L411.9,746.8L411.1,744.4L407.6,743.1L405.2,744.4L402.5,745.5L399.9,746.5L396.7,745.8L392.4,746.3L392.1,749.4L389.7,751.3L385.9,752.1L383.8,755.0L383.0,756.3L384.3,758.1L382.5,759.2L381.9,761.0L380.1,761.3L378.2,763.4L372.0,763.4ZM-98.2,678.7L-90.2,680.3L-83.5,683.4L-76.8,684.0L-70.7,686.1L-74.1,687.6L-78.2,690.5L-84.8,689.5L-92.9,687.6L-98.2,689.0ZM369.6,765.7L374.4,767.3L377.9,767.6L381.1,766.3L385.1,764.7L389.2,763.6L393.2,763.1L397.2,763.1L401.2,762.6L405.2,762.6L409.2,761.8L411.1,761.8L413.3,762.6L412.2,765.2L413.3,767.3L411.1,769.7L413.3,771.5L415.9,773.1L420.0,773.6L424.2,774.7L425.3,776.3L429.3,778.1L433.3,779.9L436.8,778.6L437.6,775.0L441.4,773.4L445.4,774.2L448.1,775.7L450.8,776.5L456.1,777.3L460.1,778.6L464.1,777.6L466.8,777.1L470.3,777.8L471.1,781.3L472.7,785.7L474.6,788.1L476.5,791.5L478.3,795.5L479.1,798.1L481.5,801.5L482.9,803.4L483.7,806.0L484.2,810.5L486.9,813.1L488.8,816.8L490.4,819.1L493.1,820.7L495.7,822.8L497.9,824.9L499.8,827.3L498.2,828.9L499.8,829.4L501.6,832.0L504.3,832.3L507.8,831.8L511.0,830.7L515.8,829.9L519.0,828.6L521.2,828.9L520.9,832.3L519.0,835.7L516.4,840.2L514.5,844.9L511.8,848.1L508.3,851.2L504.3,854.6L500.3,857.8L497.6,861.2L494.9,864.1L491.7,866.7L490.4,869.6L488.8,872.5L488.2,875.7L489.0,879.6L490.4,883.6L492.0,887.5L492.3,892.8L492.8,898.0L491.5,902.0L487.7,904.6L482.9,906.5L479.9,909.1L476.7,911.7L477.5,913.8L478.3,917.8L478.9,921.7L477.5,924.3L473.5,926.4L471.1,927.8L471.6,929.6L470.3,935.1L466.8,938.3L464.1,942.0L460.1,945.1L457.4,947.2L452.9,948.5L450.2,949.6L445.4,949.1L441.4,950.4L437.4,951.4L436.0,951.2L433.1,949.8L432.5,946.7L432.5,943.5L430.1,940.1L428.0,935.1L424.5,930.4L423.4,925.7L422.6,920.1L422.1,918.0L419.7,914.6L417.5,909.9L415.4,907.2L415.1,903.8L416.5,899.4L417.3,895.4L420.5,890.1L420.8,887.5L419.4,883.0L418.9,880.4L416.7,875.9L415.9,873.1L413.5,870.2L410.6,867.0L407.4,862.0L408.7,861.2L409.5,857.3L410.0,853.3L409.2,849.9L406.6,848.1L404.2,848.1L401.2,848.6L398.8,846.8L395.9,843.6L391.0,843.1L387.0,843.9L382.5,845.4L378.4,847.3L374.4,846.5L369.1,846.5L363.7,848.3L358.4,845.4L354.3,842.5L350.9,840.7L348.5,838.1L348.2,834.9L345.0,832.3L342.3,829.7L338.8,827.3L339.1,824.4L336.9,821.2L338.0,820.7L339.6,817.3L340.7,812.6L339.6,809.4L340.1,807.3L338.3,804.7L338.5,802.3L341.0,797.3L343.6,794.2L345.2,790.7L349.0,787.3L353.0,785.5L355.7,783.1L357.8,780.5L357.6,778.4L358.9,774.4L361.0,772.3L365.3,770.5L366.9,767.9L368.0,765.7ZM515.8,891.5L518.8,900.4L517.7,902.0L516.6,905.9L513.7,913.8L511.0,923.0L509.4,925.9L504.8,927.0L501.6,925.1L500.6,920.4L499.8,916.4L502.7,911.2L501.6,904.6L502.7,902.5L507.8,901.2L511.8,897.2L513.7,894.9ZM689.4,917.2L696.3,914.1L701.9,913.3L707.8,911.2L711.1,907.2L711.3,904.6L714.5,903.3L717.2,900.7L720.4,897.5L723.9,896.2L727.1,899.1L730.6,899.4L731.4,895.4L733.5,892.5L738.9,891.7L738.9,890.1L742.7,891.2L747.7,891.5L750.4,892.2L748.0,895.4L746.7,898.8L752.0,902.0L756.8,905.7L760.9,905.7L762.7,900.7L763.0,895.4L764.1,890.1L765.4,888.0L767.6,891.5L768.4,896.7L770.8,897.2L772.9,899.4L773.4,903.3L775.3,908.6L778.8,911.2L782.3,913.3L784.7,918.5L787.6,919.3L789.5,923.0L793.5,926.4L794.1,929.6L795.1,934.9L793.5,941.4L791.4,945.9L788.7,949.3L786.8,953.3L785.2,958.5L780.1,959.3L775.6,962.7L771.6,960.1L768.1,961.9L762.7,960.9L758.7,958.8L757.4,954.6L754.7,953.5L753.6,949.8L753.1,946.7L751.8,951.4L748.0,952.0L745.9,951.4L743.2,946.4L738.6,944.1L734.6,942.7L729.3,943.3L723.9,944.8L718.5,946.7L714.8,949.1L710.5,949.3L705.2,949.3L699.8,952.0L695.8,952.0L691.8,950.1L693.6,947.5L693.6,943.5L691.8,938.8L690.7,934.9L687.5,929.6L687.8,925.7L688.3,921.7ZM771.0,966.9L780.9,967.5L780.7,970.9L778.3,973.8L774.8,974.6L772.6,970.9ZM846.3,950.4L851.1,954.1L853.8,957.2L861.8,959.1L860.2,963.0L857.5,965.1L853.0,969.3L851.4,968.3L852.5,965.1L849.2,963.3L851.4,959.8L850.6,955.9L847.1,952.5ZM846.3,966.4L850.6,969.6L847.9,973.0L846.3,975.1L842.3,976.9L840.9,980.6L837.2,982.5L829.7,980.9L830.5,978.8L834.5,975.6L840.4,973.0L843.1,969.8L844.7,967.2ZM-98.2,1080.8L-76.8,1075.6L-58.1,1069.0L-41.5,1065.3L-17.9,1061.1L-4.5,1057.9L32.2,1055.6L75.8,1052.7L105.8,1050.0L142.8,1050.0L179.5,1046.4L191.0,1043.5L200.4,1038.7L208.4,1034.0L217.8,1029.8L227.1,1026.9L221.8,1029.8L216.4,1034.0L213.7,1040.1L216.4,1049.3L220.4,1057.2L223.1,1061.6L236.5,1066.4L255.3,1068.7L267.6,1066.4L274.8,1065.3L303.5,1059.8L326.2,1054.0L351.7,1047.9L363.2,1046.4L390.0,1045.1L424.0,1043.5L463.6,1040.3L504.3,1037.4L537.2,1032.7L560.5,1037.4L568.6,1045.3L576.6,1041.4L584.6,1038.7L610.9,1035.1L651.6,1033.5L684.3,1032.7L718.5,1033.5L758.2,1033.5L785.5,1037.4L802.4,1037.4L825.7,1042.7L846.6,1046.4L841.7,1050.6L833.7,1053.2L821.7,1061.6L833.7,1067.7L844.4,1072.9L855.1,1078.2L865.8,1080.8L865.8,1096.6L-98.2,1096.6ZM371.7,725.5L374.7,724.7L369.9,723.7L372.6,721.8L371.7,719.7L375.8,719.5L375.2,717.4L374.7,715.5L370.9,715.8L370.4,713.9L368.8,711.8L368.3,707.9L370.4,705.8L375.2,705.8L379.0,708.7L375.8,712.6L378.4,712.9L379.8,715.2L383.3,717.4L384.6,719.5L388.1,721.6L387.3,725.5L381.1,726.6L374.4,727.6L368.5,728.4ZM367.2,718.1L367.7,722.6L365.1,722.9L358.1,724.5L357.0,722.6L358.4,720.0L357.0,717.9L361.3,716.3L364.3,714.5L368.8,716.6ZM323.5,691.8L319.5,689.2L324.9,687.6L318.7,687.4L323.5,685.3L334.3,686.1L341.0,685.0L345.0,686.6L347.4,688.7L343.9,690.8L333.7,693.2L327.6,692.1ZM415.9,650.0L429.3,649.5L442.7,648.4L456.1,650.0L444.1,654.2L434.7,656.1L428.0,658.4L420.0,654.8L413.3,652.7ZM432.0,649.0L442.7,647.9L456.1,649.0L448.1,650.6L434.7,650.6ZM524.4,672.4L532.4,674.2L537.8,674.0L533.8,669.2L537.8,665.3L547.2,660.5L563.2,657.7L567.2,658.4L555.2,661.9L541.8,666.6L536.4,670.0L532.4,671.6L527.1,668.2L524.4,670.5ZM638.2,652.1L651.6,650.8L663.7,652.1L657.0,654.2L646.2,654.8ZM628.8,648.7L643.6,646.3L651.6,648.2L640.9,650.8ZM748.0,661.3L760.1,659.5L766.8,660.8L774.8,661.9L766.8,666.9L756.0,664.8ZM-98.2,671.6L-91.5,672.4L-94.2,673.4L-98.2,673.4ZM863.2,671.9L865.8,671.6L865.8,673.4L862.6,673.2ZM509.7,648.2L523.1,645.3L544.5,645.6L555.2,647.4L539.1,649.0L517.7,649.5ZM764.1,717.1L767.3,721.3L767.8,729.7L770.8,731.3L767.3,730.5L765.4,735.0L768.1,737.3L764.1,738.9L764.1,733.7L764.6,725.8L763.0,721.8ZM758.5,748.4L759.8,746.0L762.2,746.3L763.0,743.7L764.1,740.5L772.6,744.2L773.4,746.0L767.6,749.4L764.1,747.9L761.9,750.0L758.7,750.8ZM736.0,768.9L740.0,766.5L748.0,766.0L750.2,761.8L751.5,762.9L756.0,760.2L758.7,757.3L758.5,754.7L759.8,751.5L762.7,751.3L764.1,756.0L762.7,759.2L761.1,762.6L761.1,765.7L758.2,767.9L755.5,768.9L750.7,768.9L747.5,771.8L745.3,768.9L738.6,769.4L734.4,770.5ZM733.0,770.7L736.0,771.5L737.0,774.4L734.6,777.8L732.5,777.6L731.1,772.6ZM738.9,770.5L743.5,769.7L744.5,771.0L740.0,773.9L737.8,772.6ZM706.8,795.5L709.4,793.4L710.2,795.5L707.3,802.3L705.4,799.4ZM676.0,807.6L679.7,807.0L681.1,808.4L677.6,812.0L674.6,809.4ZM705.2,811.2L711.1,811.2L711.3,816.5L709.2,818.6L710.5,823.1L715.9,825.7L711.9,823.6L706.8,822.6L705.2,817.8ZM710.5,841.5L714.5,837.3L719.9,834.1L722.6,840.7L719.9,844.6L716.4,843.6L713.2,840.2ZM711.9,832.3L714.5,829.7L718.5,827.0L720.7,831.0L718.5,833.6L714.5,834.9L711.9,834.9ZM639.0,845.2L644.9,846.2L652.4,854.1L661.5,862.3L667.7,868.3L667.1,875.2L663.7,875.4L657.8,870.4L652.9,863.8L648.4,855.4L643.6,850.7ZM665.5,877.8L669.0,875.7L674.4,877.0L679.7,878.0L685.1,878.0L690.4,880.4L689.9,882.8L679.7,881.5L673.0,880.4L667.7,879.4ZM691.8,882.0L702.5,881.5L710.5,881.7L717.2,881.7L723.9,881.7L718.5,884.6L714.5,887.0L705.2,886.2L694.4,883.6ZM675.7,856.0L677.3,854.6L682.4,853.3L686.4,851.5L693.1,845.4L697.1,841.5L703.0,846.0L699.8,848.1L699.3,856.0L702.5,857.5L698.5,859.9L695.8,865.2L694.4,869.9L690.4,870.4L682.4,868.3L678.9,867.5L678.4,863.8L675.7,859.9ZM703.6,869.1L702.2,867.0L705.2,862.5L707.8,862.3L706.5,858.1L716.4,857.3L718.5,856.0L714.0,862.0L709.2,862.5L713.2,869.4L711.9,872.5L707.8,867.8L706.5,874.4L703.8,874.4ZM725.2,854.6L727.9,856.0L726.6,858.6L728.7,862.0L725.2,861.2L726.0,857.3ZM734.6,863.3L738.6,861.2L742.7,862.3L745.3,868.6L752.0,863.8L758.7,866.2L765.4,868.6L772.1,872.5L774.8,877.0L778.8,877.0L780.1,880.9L785.5,886.2L780.1,887.0L776.1,883.6L769.4,880.2L766.8,883.8L761.4,884.1L757.4,881.5L753.4,882.0L754.7,877.8L752.0,873.6L746.7,871.2L741.3,870.2L738.6,867.3L734.6,863.8ZM781.5,874.4L786.8,874.4L790.9,870.9L790.3,874.4L785.5,876.5L781.5,875.7ZM597.5,843.6L598.6,834.1L601.3,837.5L603.1,840.7L600.7,844.1ZM726.6,867.8L733.3,867.8L734.1,869.9L727.9,869.4ZM715.9,886.2L719.9,882.3L724.7,882.0L719.9,884.4ZM823.0,913.0L825.7,914.1L831.0,918.3L829.7,918.8L824.3,915.1ZM-66.6,718.9L-62.1,717.4L-61.3,718.1L-67.4,719.7ZM406.6,754.7L405.8,752.3L408.4,751.5L410.0,753.4L409.5,757.1L406.3,757.3ZM407.1,747.9L409.2,747.1L409.0,751.0L406.8,751.0ZM420.0,759.4L425.6,759.4L424.2,763.4L417.0,760.2ZM446.7,767.1L454.2,767.3L449.4,768.1ZM472.2,766.8L476.5,766.3L470.3,768.6ZM391.8,755.0L393.2,755.5L390.0,756.0ZM413.8,713.1L416.7,712.4L417.5,713.7L413.3,714.7ZM410.3,713.7L412.2,713.7L412.7,715.0L410.0,714.5ZM433.9,707.6L434.4,708.9L432.3,710.0ZM380.1,700.8L381.1,700.5L380.1,702.4ZM365.1,696.1L366.1,696.1L364.5,696.8ZM-33.7,806.8L-30.8,808.6L-33.2,810.2L-34.2,808.1ZM-35.8,804.9L-34.0,805.5L-35.0,805.7ZM-40.1,803.1L-38.5,803.9L-39.6,803.9ZM-44.1,801.5L-42.8,801.8L-43.6,802.3Z" fill="#d9d9d9"/><path d="M142.8,667.4L143.9,667.3L145.6,666.8L146.8,665.8L148.2,666.0L149.0,665.8L150.3,665.9L151.6,666.3L153.4,665.4L154.8,665.8L155.7,666.2L157.7,665.5L158.9,666.2L160.7,666.8L161.5,666.3L163.3,666.5L163.8,666.7L165.3,665.8L166.5,666.0L168.2,666.1L169.7,666.7L171.0,667.5L171.7,667.8L173.8,668.0L174.9,668.4L176.0,668.5L177.5,669.1L179.3,668.8L180.3,669.2L181.3,669.8L183.0,670.0L184.3,671.1L185.9,671.6L187.5,672.0L188.2,671.6L189.2,672.1L191.0,672.4L191.8,672.8L194.0,673.5L195.0,674.2L196.8,674.6L197.9,674.5L199.1,674.9L200.4,675.0L201.7,677.1L203.7,677.0L204.9,677.9L203.0,679.7L204.3,679.9L205.2,680.3L207.2,680.4L208.4,681.3L210.1,682.0L210.9,681.9L211.8,682.6L213.7,682.9L214.7,683.8L215.9,683.5L217.8,684.2L219.1,685.0L217.3,686.0L216.4,686.3L215.0,686.1L213.3,686.7L212.4,686.8L210.7,687.1L208.9,688.2L209.7,689.2L208.8,688.1L206.8,687.9L205.7,687.1L203.8,685.9L202.2,685.5L203.8,687.0L204.4,687.6L205.3,688.7L206.7,689.2L208.4,690.0L209.8,691.1L211.1,691.6L209.7,693.4L207.8,693.3L206.9,692.8L205.7,692.6L204.6,692.3L202.5,692.3L200.9,692.4L202.5,693.5L204.2,693.2L205.6,693.8L206.5,694.7L208.0,695.1L209.7,695.3L207.9,695.9L207.1,696.8L205.2,697.1L204.0,696.8L202.8,696.8L201.7,696.1L199.8,696.1L198.5,695.6L197.1,694.6L196.3,694.7L195.1,694.8L193.4,694.2L192.3,693.7L190.8,693.3L189.6,692.1L188.7,691.0L186.9,691.1L185.6,690.5L183.8,690.9L182.8,690.6L181.6,690.3L180.7,690.9L178.4,690.3L177.6,691.1L176.3,690.9L174.9,690.0L176.3,688.2L177.6,688.6L179.0,687.4L180.7,687.7L181.3,688.0L182.6,687.4L184.3,687.6L185.7,686.3L187.0,685.5L188.1,684.9L189.6,683.7L188.3,681.6L187.3,680.7L186.0,680.5L184.3,680.5L183.3,679.9L181.3,679.7L180.1,679.9L178.9,679.0L177.0,678.6L176.0,677.5L174.9,677.1L174.1,676.9L172.8,676.0L170.9,676.3L170.1,676.5L167.9,676.8L166.5,676.9L165.5,676.6L164.4,675.9L163.3,676.1L161.5,675.8L160.4,675.5L158.4,675.6L158.0,675.5L156.5,675.8L154.8,675.8L153.1,675.3L152.0,675.2L151.4,675.5L149.5,675.3L147.6,673.8L146.0,673.4L144.1,671.9L142.8,669.8ZM168.2,666.1L169.3,665.9L170.6,666.2L172.6,666.2L173.6,665.8L174.8,665.8L176.3,666.1L178.1,666.8L178.9,667.4L177.2,668.3L176.1,668.0L174.9,668.4L174.1,668.0L171.8,667.6L171.4,667.4L169.1,668.0L168.5,667.7L166.9,667.1ZM152.2,688.4L153.2,687.6L154.8,686.3L155.7,686.3L157.6,686.0L158.8,686.3L160.0,686.9L161.8,687.5L162.9,688.2L163.8,689.2L165.5,690.3L166.7,690.6L169.0,691.6L166.9,692.6L165.5,692.9L164.2,693.0L162.9,692.3L161.4,691.7L160.2,692.1L158.9,692.0L157.3,692.8L155.7,692.6L154.8,693.4L153.2,692.2L152.2,690.8ZM161.5,694.4L162.9,694.2L164.2,694.2L165.5,694.7L166.9,696.3L165.7,696.0L164.7,695.7L162.9,695.1L161.8,695.0L160.2,694.7ZM176.8,680.8L178.2,680.6L180.0,681.8L180.8,681.8L179.5,681.7L177.7,681.9L176.3,682.6ZM67.3,675.5L69.2,675.5L69.8,674.7L71.8,674.2L72.6,674.5L74.0,674.0L76.2,673.8L76.8,674.0L78.7,674.6L80.3,673.7L81.2,674.2L79.5,673.5L78.4,673.8L77.7,673.2L75.4,673.5L74.5,673.2L73.2,673.2L71.5,673.1L70.7,673.3L69.2,672.6L67.8,672.4L65.9,671.9L65.1,671.1L66.6,670.3L67.8,669.5L68.6,668.3L70.5,668.2L72.2,667.4L72.7,668.0L73.9,667.2L75.6,667.8L77.2,667.1L78.4,666.9L80.2,667.8L80.8,667.3L82.6,667.8L83.4,668.7L85.2,668.4L86.8,668.4L87.4,667.8L89.2,668.2L90.7,668.1L91.4,668.3L93.2,669.0L94.1,668.1L95.9,668.2L97.3,667.1L98.6,667.1L99.7,667.9L101.3,668.1L102.6,668.2L103.2,669.4L104.8,669.8L105.7,670.8L107.6,671.4L109.3,671.9L110.9,673.4L112.0,674.5L111.3,676.2L110.6,677.1L109.1,678.0L107.7,678.3L106.9,678.0L105.3,678.4L103.6,678.3L103.1,678.6L101.6,678.1L99.9,677.9L98.6,677.8L97.1,678.4L96.1,678.1L94.4,678.6L93.2,679.2L92.1,679.1L90.4,679.5L88.7,679.8L87.4,679.2L86.5,679.5L84.9,679.9L83.4,679.2L83.0,679.4L80.9,680.0L79.8,679.7L78.3,679.5L76.8,679.2L75.6,678.2L74.5,678.4L73.7,678.1L71.5,677.4L70.5,677.6L68.6,676.8ZM49.5,669.3L49.9,668.4L49.6,666.1L51.2,665.9L52.8,664.5L54.3,664.2L55.6,664.3L56.5,664.0L57.9,664.5L59.4,664.8L61.1,664.2L62.7,664.1L63.9,663.9L65.5,664.1L66.5,664.1L67.4,664.6L69.4,664.3L70.5,664.8L72.3,665.2L72.6,665.6L74.5,666.6L73.3,666.8L72.3,667.7L70.1,667.8L68.9,667.9L67.8,668.4L66.2,669.8L65.0,670.3L63.3,671.1L61.6,671.9L60.0,672.4L58.2,672.8L56.8,672.6L55.3,673.0L54.4,672.9L52.6,672.4L51.4,671.9L49.4,671.5L48.5,670.8ZM53.4,659.8L52.3,659.2L54.6,657.9L55.7,657.7L57.5,657.8L58.4,657.7L59.8,657.2L61.3,657.2L62.6,656.6L63.8,656.6L64.6,656.9L66.5,657.2L68.1,656.8L68.7,656.9L70.6,657.1L71.8,656.6L70.5,658.2L69.4,658.3L67.8,658.5L66.4,659.1L65.4,658.7L63.8,659.5L62.7,660.0L60.6,660.0L60.0,660.2L58.6,660.5L57.1,660.1L55.7,660.3ZM69.1,662.1L70.5,662.0L72.0,662.0L73.7,661.8L74.5,661.3L72.6,660.8L71.2,661.0L69.7,660.5L71.5,660.3L72.3,659.2L73.7,659.5L75.9,658.5L77.2,658.4L78.8,658.6L80.1,659.1L81.7,658.6L82.5,658.7L84.0,658.1L85.7,658.0L86.4,657.7L87.9,658.4L89.2,657.9L90.3,658.5L91.6,657.9L93.2,658.7L94.1,659.0L95.9,660.0L97.0,660.7L98.4,660.4L100.5,660.3L101.3,660.5L99.9,662.7L98.4,662.9L97.7,663.2L96.4,662.8L95.0,663.7L92.6,663.1L91.7,663.1L90.1,663.9L89.2,664.0L87.9,664.0L86.0,663.9L85.2,664.4L83.5,663.4L83.0,663.6L81.6,663.8L80.4,664.2L78.1,663.7L77.2,663.7L75.5,663.4L74.1,662.9L73.1,663.5L72.2,662.5L70.5,662.9ZM79.8,654.5L81.6,654.7L82.5,654.2L84.4,654.7L84.7,654.4L86.4,654.2L87.9,654.0L89.1,654.3L90.9,654.9L92.0,654.7L93.2,655.5L91.6,656.1L90.4,656.5L88.9,656.8L87.9,656.6L86.5,656.9L85.7,655.9L83.9,656.7L82.2,655.8L80.8,656.6L79.8,656.1ZM83.3,652.6L85.2,652.4L86.6,653.1L88.3,652.7L88.7,652.5L90.6,652.9L89.2,654.0L88.2,654.5L86.8,653.5L84.6,653.9L83.0,654.1L81.7,653.7ZM113.2,662.4L112.0,661.5L110.2,661.6L109.3,660.5L110.8,659.9L111.5,660.0L113.3,659.2L114.8,659.2L115.7,658.2L116.8,658.1L118.6,658.1L120.0,657.9L121.5,658.0L123.2,658.5L124.0,659.2L122.7,660.5L121.4,662.7L120.0,662.4L118.2,663.0L117.9,662.9L116.4,662.2L114.7,662.7ZM125.4,661.9L126.7,661.4L127.8,661.9L129.4,661.1L131.5,661.2L132.3,662.1L134.2,662.1L133.4,663.4L132.5,663.5L131.3,663.3L129.2,663.5L128.2,664.0L126.7,663.4ZM170.9,662.7L169.5,663.4L168.4,663.0L166.9,664.0L165.2,664.5L164.0,664.1L163.1,664.3L161.9,663.7L160.2,664.3L159.4,664.2L157.9,664.3L156.2,664.0L154.5,663.7L153.3,663.4L152.1,664.3L150.5,664.1L149.7,663.4L147.7,664.1L146.8,664.0L145.1,663.3L143.7,664.3L142.3,663.8L141.9,663.2L140.4,663.0L138.8,663.4L138.3,662.6L136.9,661.3L134.8,660.2L133.4,660.0L132.4,660.4L130.9,659.7L129.2,659.6L127.7,659.8L126.7,659.0L127.8,658.6L129.4,657.9L131.3,658.4L132.6,658.4L133.2,657.7L135.1,658.3L135.6,658.3L137.3,657.8L138.4,658.5L140.1,658.4L141.9,659.1L142.7,658.3L144.4,659.4L145.5,659.0L146.2,659.4L148.6,659.1L149.8,658.3L150.8,658.7L152.0,659.0L154.0,658.7L154.6,658.6L156.0,659.1L156.9,658.6L158.8,659.0L160.7,658.9L162.0,659.7L162.6,659.3L164.7,658.9L165.5,659.5L166.7,660.2L168.1,660.3L170.1,661.0L170.9,661.1ZM145.1,657.9L147.0,657.6L147.7,657.3L148.9,658.0L150.8,657.4L149.5,657.3L147.8,657.1L146.8,656.1L145.8,656.8L144.1,656.1L145.9,655.7L146.8,654.8L148.4,654.7L149.0,654.1L150.8,653.4L152.5,652.6L154.0,653.2L154.8,651.9L156.2,652.1L154.5,650.5L153.5,650.0L152.4,649.2L151.2,648.5L150.0,649.1L148.1,648.2L146.8,648.1L145.5,648.2L144.4,647.1L142.9,647.6L141.5,647.4L139.6,646.7L138.8,646.3L139.7,646.3L141.4,646.5L142.7,646.2L144.4,645.4L145.5,645.6L146.8,645.5L147.6,644.7L149.4,644.6L150.7,644.0L152.1,643.7L153.5,643.5L155.0,643.5L156.3,643.1L157.9,643.4L159.2,643.3L159.6,642.6L161.8,642.0L162.4,642.6L164.2,642.1L165.6,642.2L166.5,642.1L168.6,642.3L169.4,641.5L171.2,642.2L172.6,642.2L174.1,641.6L175.4,641.8L176.2,642.2L177.6,641.6L179.5,641.0L179.9,642.0L182.0,641.0L182.5,641.5L184.3,641.0L185.2,641.7L186.8,641.4L187.8,641.3L189.8,640.9L191.0,641.3L191.8,641.3L193.6,641.8L194.9,641.0L196.3,641.1L197.1,641.0L199.3,641.9L200.2,641.9L201.7,641.6L203.5,641.1L204.2,641.8L205.5,641.7L206.8,641.3L208.3,642.2L209.3,641.8L211.2,642.5L212.4,642.1L213.6,642.2L214.6,642.9L216.8,642.6L217.5,643.1L219.1,642.9L217.8,643.7L216.6,644.5L214.5,644.7L213.9,645.2L212.4,645.3L210.8,645.5L209.3,646.3L208.1,646.5L207.2,646.6L206.2,647.5L204.4,647.4L202.8,647.2L202.1,647.8L200.9,648.0L199.6,647.9L197.7,648.2L195.9,649.1L194.5,649.5L193.7,649.8L192.7,649.5L191.0,649.9L190.2,651.0L188.7,650.6L187.0,651.4L185.6,651.3L184.2,651.4L183.0,652.7L181.7,653.2L179.9,652.9L178.6,653.9L177.6,654.0L176.5,655.2L175.0,655.9L173.6,656.6L172.6,657.7L171.1,658.8L169.6,659.2L168.5,658.8L167.0,659.0L165.2,659.3L164.5,659.3L162.4,659.2L161.5,659.2L159.9,659.7L159.3,658.6L157.3,658.5L155.6,659.0L154.5,659.5L153.5,659.0L151.8,658.6L151.1,659.3L149.3,658.9L148.3,658.9L147.2,658.3L145.8,658.2L144.1,658.4ZM124.8,648.6L126.7,647.4L128.2,647.7L129.0,647.2L130.7,646.1L132.2,646.4L133.4,646.1L134.2,646.8L135.9,647.3L137.5,646.9L138.8,647.4L140.3,647.4L141.8,648.7L142.8,649.0L144.1,650.8L143.1,652.3L141.4,652.7L140.0,653.2L138.6,652.8L138.0,653.2L136.4,653.8L134.7,653.7L133.6,653.5L131.6,652.5L130.8,652.3L129.8,652.4L128.1,652.1L126.9,651.4L124.9,650.3L124.0,649.5ZM104.8,653.3L106.3,652.3L108.0,652.1L109.8,651.9L110.8,652.3L112.1,652.5L112.7,652.2L114.7,652.4L115.9,653.5L117.3,654.0L116.4,654.1L114.2,654.7L113.3,655.3L111.7,655.5L110.2,654.4L109.5,654.8L108.1,654.9L106.3,654.2L104.8,654.3L103.9,654.0ZM119.2,653.4L121.0,652.8L122.7,652.4L123.7,652.4L125.9,653.2L126.7,652.9L125.4,654.2L123.5,654.4L122.2,654.3L121.2,655.1L120.0,655.0ZM127.8,667.7L128.1,666.6L129.7,665.8L130.7,665.0L132.1,665.1L133.7,665.3L135.0,664.6L135.9,664.7L137.4,665.0L138.7,666.0L140.3,666.4L142.2,666.3L141.5,667.3L140.1,668.2L139.1,668.7L136.8,668.8L136.1,669.8L135.1,669.8L132.9,669.8L132.1,670.5L130.5,670.3L129.8,670.0L128.1,669.2ZM110.2,668.7L109.3,668.4L110.2,668.1L112.0,666.6L112.8,665.9L114.3,665.9L116.1,666.0L117.3,665.5L118.6,665.3L120.2,665.3L121.3,665.3L122.7,665.8L123.8,666.3L124.6,667.7L125.4,669.0L123.7,669.5L122.7,671.1L121.8,671.4L120.3,671.5L119.0,670.9L117.3,671.6L115.7,671.5L115.1,671.4L113.9,670.7L112.0,670.0ZM118.7,677.1L120.5,676.1L121.4,676.1L122.2,675.9L124.4,676.1L125.4,676.9L126.6,677.3L128.1,678.4L126.2,679.2L125.4,680.3L124.3,679.9L122.9,680.0L120.8,680.6L120.0,680.0L118.5,679.8L117.3,678.7ZM140.1,656.1L141.6,656.2L142.9,655.5L144.1,655.8L145.5,657.1L144.5,656.7L142.3,657.5L141.0,657.3L140.1,656.9ZM123.5,660.5L125.9,661.1L124.0,661.9Z" fill="#d9d9d9" stroke="#d9d9d9" stroke-width="2.0" stroke-linejoin="round"/><path d="M458.5,749.2L458.8,746.3L460.7,743.4L463.1,741.0L464.7,739.2L466.8,737.3L469.5,737.9L473.8,739.2L470.8,740.5L473.2,742.6L474.9,743.1L478.6,741.6L481.8,740.8L483.7,741.6L487.2,743.1L491.5,745.8L495.2,748.1L495.2,750.8L490.9,752.1L486.4,752.3L481.5,751.3L478.1,749.4L473.5,749.4L466.8,751.8L461.5,751.5L459.1,750.8ZM477.0,739.4L478.1,738.1L481.5,737.3L486.1,736.0L489.0,735.8L485.6,738.9L481.8,740.5L478.9,740.8L477.5,740.2Z" fill="#fff"/><path d="M-94.2,723.7L-93.1,724.0L-91.7,723.3L-90.9,723.3L-88.9,723.2L-87.5,723.1L-86.7,722.7L-84.4,722.3L-83.8,722.4L-82.3,722.2L-80.8,722.4L-80.1,721.7L-77.5,722.0L-76.8,721.8L-75.4,722.4L-74.1,721.6L-72.2,721.7L-71.9,721.6L-70.5,720.4L-68.8,720.5L-67.9,720.6L-65.6,720.0L-65.0,719.0L-62.9,718.7L-61.4,718.2L-59.9,718.3L-58.4,717.0L-57.5,716.8L-56.5,717.0L-54.3,716.1L-52.7,715.8L-51.7,715.8L-50.2,715.4L-48.7,714.5L-47.1,713.5L-46.1,713.3L-44.1,712.9L-42.2,712.7L-40.5,711.1L-39.3,711.0L-38.1,710.5L-36.2,709.7L-35.4,708.5L-34.0,708.4L-32.3,708.1L-31.6,707.6L-30.0,706.2L-28.6,706.3L-28.2,704.5L-28.6,703.7L-26.7,702.4L-26.2,702.1L-24.1,701.3L-21.9,700.1L-21.3,700.2L-19.3,699.7L-17.9,698.9L-17.4,700.8L-17.1,701.6L-16.6,702.9L-15.9,702.7L-13.3,701.1L-12.5,700.8L-10.6,700.5L-9.5,700.1L-8.0,701.2L-7.2,700.5L-5.7,701.1L-4.3,701.5L-3.1,700.9L-1.7,702.1L-0.5,702.1L0.9,702.2L2.8,702.4L3.3,701.9L4.9,702.1L5.7,702.2L8.2,702.5L8.6,702.7L10.2,702.9L11.8,704.0L12.8,704.6L14.8,704.7L16.2,705.5L18.3,706.0L19.3,706.7L20.4,706.6L22.7,706.9L23.6,707.4L25.0,708.2L25.9,709.2L27.6,710.5L28.9,711.6L30.5,712.8L31.6,713.9L32.7,715.2L34.3,715.8L35.7,717.4L36.3,718.3L37.5,719.1L38.0,720.3L39.7,721.0L41.1,722.7L41.6,723.7L42.8,724.4L43.6,724.4L45.0,725.8L46.1,725.9L47.3,727.4L49.5,727.4L50.4,727.9L51.0,728.8L52.6,729.1L53.9,730.2L54.9,732.3M53.6,732.6L51.6,732.6L51.2,731.6L49.1,731.6L47.3,731.1L46.3,730.0L45.4,729.1L44.4,728.8L43.1,727.9L41.8,727.5L40.2,726.8" fill="none" stroke="#e09ccb" stroke-width="3.20" stroke-linejoin="round" stroke-linecap="round"/><path d="M233.8,666.6L234.2,668.5L234.9,669.9L235.2,671.1L236.1,671.8L237.3,671.3L238.8,671.2L240.1,671.6L241.5,672.7L243.2,672.4L242.1,673.2L240.8,673.8L239.2,674.0L240.2,674.2L242.3,674.6L243.8,676.0L245.1,675.8L246.4,676.6L246.8,677.4L247.2,679.2L245.6,679.0L244.8,680.4L242.7,680.0L242.2,680.9L240.5,680.8L240.2,681.9L240.0,683.0L240.3,684.7L241.4,686.7L242.7,687.6L243.4,688.6L244.4,689.6L245.3,690.8L246.6,691.5L248.6,692.9L249.5,694.3L250.7,696.1L251.9,697.1L252.7,697.7L253.9,698.9L255.7,698.9L256.7,699.7L257.5,699.2L259.5,699.7L260.6,700.3L261.8,700.7L263.8,701.0L264.6,701.8L266.1,702.2L267.3,702.1L268.4,700.4L269.7,699.5M210.8,701.3L211.7,702.5L212.9,703.7L213.7,705.5L215.1,706.9L215.4,708.1L216.9,708.9L218.4,709.7L219.1,711.3L220.0,712.0L222.1,713.0L223.1,714.5L224.5,715.1L226.2,715.0L227.3,715.3L228.3,716.6L229.8,716.6L231.2,717.1L232.2,718.1L233.8,719.2L234.7,721.2L234.6,722.6L233.1,723.1L231.4,724.3L229.8,724.7L228.2,725.1L227.4,726.0L225.4,726.3L224.8,727.5L223.1,727.9L221.9,727.5L220.9,727.9L219.1,727.8L217.4,728.2L216.1,727.7L214.9,727.8L213.6,727.9L212.4,727.9L210.7,728.4L210.3,728.0L208.0,727.7L207.4,728.2L205.7,727.9L204.5,728.6L203.1,729.6L201.2,729.1L200.4,730.2L199.4,731.4L197.8,732.8L196.3,733.7M211.6,731.3L211.2,732.9L210.3,734.4L210.7,735.7L210.3,737.6L212.3,737.5L213.7,738.4L214.8,739.2L216.1,739.4L217.3,739.9L219.1,739.7L220.9,738.7L222.6,738.4L223.7,738.9L222.0,739.5L220.4,741.0L219.5,741.8L217.9,741.8L216.0,741.5L214.8,742.2L213.7,742.6L212.6,742.8L211.3,744.0L209.7,744.9L208.4,745.2L206.5,743.4L208.5,742.0L209.3,742.1L211.1,740.8L209.5,741.0L208.8,740.5L207.1,741.0L205.8,742.2L203.8,742.3L202.4,742.8L200.4,743.7L199.0,743.7L196.8,745.1L195.8,745.2M224.7,734.7L226.4,734.5L227.7,735.4L229.0,735.1L229.8,735.8L231.4,736.2L233.0,736.4L234.4,736.3L235.6,736.9L237.6,737.2L239.2,737.2L240.5,737.1L241.1,735.4L242.7,734.7L241.7,733.0L241.6,731.8L240.5,731.0L238.8,730.6L237.4,729.7L236.9,729.5L235.2,729.2L234.9,727.7L235.2,725.9L234.6,724.2L233.0,725.0L231.2,725.0L229.9,726.6L229.4,727.3L227.8,728.1L227.1,729.7L226.1,730.9L225.2,732.1L224.7,732.9L224.7,734.7M327.6,692.1L326.6,692.2L324.5,691.9L323.5,691.8L322.0,690.5L320.5,689.6L319.5,689.2L320.4,688.4L322.4,688.7L323.5,688.3L324.9,687.6L323.1,687.9L321.7,687.0L320.8,687.0L318.7,687.4L319.9,686.9L322.4,686.4L323.5,685.3L325.1,685.6L326.7,686.0L327.9,685.7L328.5,686.2L330.6,685.7L331.2,685.9L333.4,686.3L334.3,686.1L335.7,686.2L336.6,685.4L338.5,685.7L339.2,685.6L341.0,685.0L342.4,685.5L343.4,686.4L345.0,686.6M398.8,705.5L398.0,703.4L397.7,701.9L397.2,700.8L397.5,699.3L397.2,697.9L398.0,696.3L399.3,696.2L401.2,695.3L402.8,694.7L403.9,693.9L405.7,693.9L407.1,692.9L409.2,692.3L410.6,691.3L412.6,689.9L413.8,689.2L415.3,688.5L416.7,686.8M370.4,705.8L369.8,706.9L368.3,707.9L368.8,709.4L368.3,710.2L368.8,711.8L370.4,713.9" fill="none" stroke="#a9c3b1" stroke-width="1.40" stroke-linejoin="round" stroke-linecap="round"/><path d="M187.0,969.0L186.9,970.1L186.2,971.7L186.7,973.5L186.7,975.0L186.2,975.6L185.4,976.8L184.0,977.6L183.0,979.6L183.7,981.4L184.3,983.0L183.8,983.5L182.6,985.2L181.6,986.1L181.7,987.5L182.2,989.0L181.9,990.0L182.1,991.4L182.5,992.9L183.6,993.6L183.8,995.4L184.3,996.7L185.2,998.0L186.5,998.7L188.3,999.8L189.8,1001.5L191.5,1002.3L192.3,1003.2L194.1,1003.4L195.6,1004.9L196.3,1005.1L197.6,1004.6L198.4,1005.8L200.4,1005.3L201.8,1005.0L203.6,1004.3L204.4,1004.3M221.5,995.3L223.0,994.7L224.4,995.3L225.8,995.3L227.7,995.9L225.3,996.5L223.9,996.6L222.0,996.4M282.6,1002.2L283.7,1002.3L285.1,1002.1L286.6,1003.0L285.2,1003.5M829.7,980.9L830.5,978.8L832.1,977.7L832.6,976.8L834.5,975.6" fill="none" stroke="#cdb85c" stroke-width="2.00" stroke-linejoin="round" stroke-linecap="round"/><path d="M197.7,1040.8L198.6,1040.0L199.8,1038.9L201.2,1038.5L201.7,1037.7L202.6,1037.0L204.2,1036.8L204.7,1035.8L205.7,1035.6L206.4,1035.1L208.2,1033.9L208.7,1034.0L209.7,1033.0L211.2,1032.3L212.1,1031.5L213.2,1031.7L213.7,1031.1L214.4,1030.7L215.8,1029.9L216.4,1029.7L217.8,1028.7L219.2,1028.2L220.3,1027.3L221.8,1027.4L223.0,1027.6L223.8,1026.6L224.8,1026.4L225.5,1026.6L227.1,1026.1L228.6,1025.9L229.5,1026.2L230.3,1025.7L231.2,1025.5L232.5,1025.6M200.4,1042.7L201.4,1041.3L202.4,1041.1L203.0,1040.5L204.4,1039.3L205.7,1038.9L206.0,1038.0L207.4,1036.6L208.4,1036.1L209.5,1035.1L209.9,1035.3L211.7,1034.3L212.4,1033.5L213.6,1033.1L214.1,1032.7L215.0,1031.5L216.4,1031.4L217.5,1031.1L218.4,1030.7L219.0,1029.8L220.4,1029.8L221.5,1028.9L222.4,1028.9L223.2,1029.1L224.5,1028.2M216.4,1024.5L218.0,1024.1L218.5,1023.9L220.1,1024.5L221.0,1023.7L222.0,1023.6L223.1,1024.0L223.9,1024.0L225.5,1024.0L226.1,1023.1L227.4,1023.1L228.5,1023.2L229.5,1023.2L231.0,1022.9L232.5,1022.2" fill="none" stroke="#52529f" stroke-width="2.00" stroke-linejoin="round" stroke-linecap="round"/><path d="M233.8,666.6L235.2,671.1L243.2,672.4L239.2,674.0L246.4,676.6L247.2,679.2L240.5,680.8L240.3,684.7L242.7,687.6L245.3,690.8L248.6,692.9L250.7,696.1L253.9,698.9L260.6,700.3" fill="none" stroke="#a9c3b1" stroke-width="3.60" stroke-linejoin="round" stroke-linecap="round" stroke-opacity="0.9"/><path d="M398.8,705.5L398.0,703.4L397.2,700.8L397.2,697.9L398.0,696.3L401.2,695.3L403.9,693.9L407.1,692.9L410.6,691.3L413.8,689.2L416.7,686.8L419.1,684.0" fill="none" stroke="#a9c3b1" stroke-width="4.50" stroke-linejoin="round" stroke-linecap="round" stroke-opacity="0.9"/><path d="M142.8,667.4L143.9,667.3L145.6,666.8L146.8,665.8L148.2,666.0L149.0,665.8L150.3,665.9L151.6,666.3L153.4,665.4L154.8,665.8L155.7,666.2L157.7,665.5L158.9,666.2L160.7,666.8L161.5,666.3L163.3,666.5L163.8,666.7L165.3,665.8L166.5,666.0L168.2,666.1L169.7,666.7L171.0,667.5L171.7,667.8L173.8,668.0L174.9,668.4L176.0,668.5L177.5,669.1L179.3,668.8L180.3,669.2L181.3,669.8L183.0,670.0L184.3,671.1L185.9,671.6L187.5,672.0L188.2,671.6L189.2,672.1L191.0,672.4L191.8,672.8L194.0,673.5L195.0,674.2L196.8,674.6L197.9,674.5L199.1,674.9L200.4,675.0L201.7,677.1L203.7,677.0L204.9,677.9L203.0,679.7L204.3,679.9L205.2,680.3L207.2,680.4L208.4,681.3L210.1,682.0L210.9,681.9L211.8,682.6L213.7,682.9L214.7,683.8L215.9,683.5L217.8,684.2L219.1,685.0L217.3,686.0L216.4,686.3L215.0,686.1L213.3,686.7L212.4,686.8L210.7,687.1L208.9,688.2L209.7,689.2L208.8,688.1L206.8,687.9L205.7,687.1L203.8,685.9L202.2,685.5L203.8,687.0L204.4,687.6L205.3,688.7L206.7,689.2L208.4,690.0L209.8,691.1L211.1,691.6L209.7,693.4L207.8,693.3L206.9,692.8L205.7,692.6L204.6,692.3L202.5,692.3L200.9,692.4L202.5,693.5L204.2,693.2L205.6,693.8L206.5,694.7L208.0,695.1L209.7,695.3L207.9,695.9L207.1,696.8L205.2,697.1L204.0,696.8L202.8,696.8L201.7,696.1L199.8,696.1L198.5,695.6L197.1,694.6L196.3,694.7L195.1,694.8L193.4,694.2L192.3,693.7L190.8,693.3L189.6,692.1L188.7,691.0L186.9,691.1L185.6,690.5L183.8,690.9L182.8,690.6L181.6,690.3L180.7,690.9L178.4,690.3L177.6,691.1L176.3,690.9L174.9,690.0L176.3,688.2L177.6,688.6L179.0,687.4L180.7,687.7L181.3,688.0L182.6,687.4L184.3,687.6L185.7,686.3L187.0,685.5L188.1,684.9L189.6,683.7L188.3,681.6L187.3,680.7L186.0,680.5L184.3,680.5L183.3,679.9L181.3,679.7L180.1,679.9L178.9,679.0L177.0,678.6L176.0,677.5L174.9,677.1L174.1,676.9L172.8,676.0L170.9,676.3L170.1,676.5L167.9,676.8L166.5,676.9L165.5,676.6L164.4,675.9L163.3,676.1L161.5,675.8L160.4,675.5L158.4,675.6L158.0,675.5L156.5,675.8L154.8,675.8L153.1,675.3L152.0,675.2L151.4,675.5L149.5,675.3L147.6,673.8L146.0,673.4L144.1,671.9L142.8,669.8ZM168.2,666.1L169.3,665.9L170.6,666.2L172.6,666.2L173.6,665.8L174.8,665.8L176.3,666.1L178.1,666.8L178.9,667.4L177.2,668.3L176.1,668.0L174.9,668.4L174.1,668.0L171.8,667.6L171.4,667.4L169.1,668.0L168.5,667.7L166.9,667.1ZM152.2,688.4L153.2,687.6L154.8,686.3L155.7,686.3L157.6,686.0L158.8,686.3L160.0,686.9L161.8,687.5L162.9,688.2L163.8,689.2L165.5,690.3L166.7,690.6L169.0,691.6L166.9,692.6L165.5,692.9L164.2,693.0L162.9,692.3L161.4,691.7L160.2,692.1L158.9,692.0L157.3,692.8L155.7,692.6L154.8,693.4L153.2,692.2L152.2,690.8ZM161.5,694.4L162.9,694.2L164.2,694.2L165.5,694.7L166.9,696.3L165.7,696.0L164.7,695.7L162.9,695.1L161.8,695.0L160.2,694.7ZM176.8,680.8L178.2,680.6L180.0,681.8L180.8,681.8L179.5,681.7L177.7,681.9L176.3,682.6ZM67.3,675.5L69.2,675.5L69.8,674.7L71.8,674.2L72.6,674.5L74.0,674.0L76.2,673.8L76.8,674.0L78.7,674.6L80.3,673.7L81.2,674.2L79.5,673.5L78.4,673.8L77.7,673.2L75.4,673.5L74.5,673.2L73.2,673.2L71.5,673.1L70.7,673.3L69.2,672.6L67.8,672.4L65.9,671.9L65.1,671.1L66.6,670.3L67.8,669.5L68.6,668.3L70.5,668.2L72.2,667.4L72.7,668.0L73.9,667.2L75.6,667.8L77.2,667.1L78.4,666.9L80.2,667.8L80.8,667.3L82.6,667.8L83.4,668.7L85.2,668.4L86.8,668.4L87.4,667.8L89.2,668.2L90.7,668.1L91.4,668.3L93.2,669.0L94.1,668.1L95.9,668.2L97.3,667.1L98.6,667.1L99.7,667.9L101.3,668.1L102.6,668.2L103.2,669.4L104.8,669.8L105.7,670.8L107.6,671.4L109.3,671.9L110.9,673.4L112.0,674.5L111.3,676.2L110.6,677.1L109.1,678.0L107.7,678.3L106.9,678.0L105.3,678.4L103.6,678.3L103.1,678.6L101.6,678.1L99.9,677.9L98.6,677.8L97.1,678.4L96.1,678.1L94.4,678.6L93.2,679.2L92.1,679.1L90.4,679.5L88.7,679.8L87.4,679.2L86.5,679.5L84.9,679.9L83.4,679.2L83.0,679.4L80.9,680.0L79.8,679.7L78.3,679.5L76.8,679.2L75.6,678.2L74.5,678.4L73.7,678.1L71.5,677.4L70.5,677.6L68.6,676.8ZM49.5,669.3L49.9,668.4L49.6,666.1L51.2,665.9L52.8,664.5L54.3,664.2L55.6,664.3L56.5,664.0L57.9,664.5L59.4,664.8L61.1,664.2L62.7,664.1L63.9,663.9L65.5,664.1L66.5,664.1L67.4,664.6L69.4,664.3L70.5,664.8L72.3,665.2L72.6,665.6L74.5,666.6L73.3,666.8L72.3,667.7L70.1,667.8L68.9,667.9L67.8,668.4L66.2,669.8L65.0,670.3L63.3,671.1L61.6,671.9L60.0,672.4L58.2,672.8L56.8,672.6L55.3,673.0L54.4,672.9L52.6,672.4L51.4,671.9L49.4,671.5L48.5,670.8ZM53.4,659.8L52.3,659.2L54.6,657.9L55.7,657.7L57.5,657.8L58.4,657.7L59.8,657.2L61.3,657.2L62.6,656.6L63.8,656.6L64.6,656.9L66.5,657.2L68.1,656.8L68.7,656.9L70.6,657.1L71.8,656.6L70.5,658.2L69.4,658.3L67.8,658.5L66.4,659.1L65.4,658.7L63.8,659.5L62.7,660.0L60.6,660.0L60.0,660.2L58.6,660.5L57.1,660.1L55.7,660.3ZM69.1,662.1L70.5,662.0L72.0,662.0L73.7,661.8L74.5,661.3L72.6,660.8L71.2,661.0L69.7,660.5L71.5,660.3L72.3,659.2L73.7,659.5L75.9,658.5L77.2,658.4L78.8,658.6L80.1,659.1L81.7,658.6L82.5,658.7L84.0,658.1L85.7,658.0L86.4,657.7L87.9,658.4L89.2,657.9L90.3,658.5L91.6,657.9L93.2,658.7L94.1,659.0L95.9,660.0L97.0,660.7L98.4,660.4L100.5,660.3L101.3,660.5L99.9,662.7L98.4,662.9L97.7,663.2L96.4,662.8L95.0,663.7L92.6,663.1L91.7,663.1L90.1,663.9L89.2,664.0L87.9,664.0L86.0,663.9L85.2,664.4L83.5,663.4L83.0,663.6L81.6,663.8L80.4,664.2L78.1,663.7L77.2,663.7L75.5,663.4L74.1,662.9L73.1,663.5L72.2,662.5L70.5,662.9ZM79.8,654.5L81.6,654.7L82.5,654.2L84.4,654.7L84.7,654.4L86.4,654.2L87.9,654.0L89.1,654.3L90.9,654.9L92.0,654.7L93.2,655.5L91.6,656.1L90.4,656.5L88.9,656.8L87.9,656.6L86.5,656.9L85.7,655.9L83.9,656.7L82.2,655.8L80.8,656.6L79.8,656.1ZM83.3,652.6L85.2,652.4L86.6,653.1L88.3,652.7L88.7,652.5L90.6,652.9L89.2,654.0L88.2,654.5L86.8,653.5L84.6,653.9L83.0,654.1L81.7,653.7ZM113.2,662.4L112.0,661.5L110.2,661.6L109.3,660.5L110.8,659.9L111.5,660.0L113.3,659.2L114.8,659.2L115.7,658.2L116.8,658.1L118.6,658.1L120.0,657.9L121.5,658.0L123.2,658.5L124.0,659.2L122.7,660.5L121.4,662.7L120.0,662.4L118.2,663.0L117.9,662.9L116.4,662.2L114.7,662.7ZM125.4,661.9L126.7,661.4L127.8,661.9L129.4,661.1L131.5,661.2L132.3,662.1L134.2,662.1L133.4,663.4L132.5,663.5L131.3,663.3L129.2,663.5L128.2,664.0L126.7,663.4ZM170.9,662.7L169.5,663.4L168.4,663.0L166.9,664.0L165.2,664.5L164.0,664.1L163.1,664.3L161.9,663.7L160.2,664.3L159.4,664.2L157.9,664.3L156.2,664.0L154.5,663.7L153.3,663.4L152.1,664.3L150.5,664.1L149.7,663.4L147.7,664.1L146.8,664.0L145.1,663.3L143.7,664.3L142.3,663.8L141.9,663.2L140.4,663.0L138.8,663.4L138.3,662.6L136.9,661.3L134.8,660.2L133.4,660.0L132.4,660.4L130.9,659.7L129.2,659.6L127.7,659.8L126.7,659.0L127.8,658.6L129.4,657.9L131.3,658.4L132.6,658.4L133.2,657.7L135.1,658.3L135.6,658.3L137.3,657.8L138.4,658.5L140.1,658.4L141.9,659.1L142.7,658.3L144.4,659.4L145.5,659.0L146.2,659.4L148.6,659.1L149.8,658.3L150.8,658.7L152.0,659.0L154.0,658.7L154.6,658.6L156.0,659.1L156.9,658.6L158.8,659.0L160.7,658.9L162.0,659.7L162.6,659.3L164.7,658.9L165.5,659.5L166.7,660.2L168.1,660.3L170.1,661.0L170.9,661.1ZM145.1,657.9L147.0,657.6L147.7,657.3L148.9,658.0L150.8,657.4L149.5,657.3L147.8,657.1L146.8,656.1L145.8,656.8L144.1,656.1L145.9,655.7L146.8,654.8L148.4,654.7L149.0,654.1L150.8,653.4L152.5,652.6L154.0,653.2L154.8,651.9L156.2,652.1L154.5,650.5L153.5,650.0L152.4,649.2L151.2,648.5L150.0,649.1L148.1,648.2L146.8,648.1L145.5,648.2L144.4,647.1L142.9,647.6L141.5,647.4L139.6,646.7L138.8,646.3L139.7,646.3L141.4,646.5L142.7,646.2L144.4,645.4L145.5,645.6L146.8,645.5L147.6,644.7L149.4,644.6L150.7,644.0L152.1,643.7L153.5,643.5L155.0,643.5L156.3,643.1L157.9,643.4L159.2,643.3L159.6,642.6L161.8,642.0L162.4,642.6L164.2,642.1L165.6,642.2L166.5,642.1L168.6,642.3L169.4,641.5L171.2,642.2L172.6,642.2L174.1,641.6L175.4,641.8L176.2,642.2L177.6,641.6L179.5,641.0L179.9,642.0L182.0,641.0L182.5,641.5L184.3,641.0L185.2,641.7L186.8,641.4L187.8,641.3L189.8,640.9L191.0,641.3L191.8,641.3L193.6,641.8L194.9,641.0L196.3,641.1L197.1,641.0L199.3,641.9L200.2,641.9L201.7,641.6L203.5,641.1L204.2,641.8L205.5,641.7L206.8,641.3L208.3,642.2L209.3,641.8L211.2,642.5L212.4,642.1L213.6,642.2L214.6,642.9L216.8,642.6L217.5,643.1L219.1,642.9L217.8,643.7L216.6,644.5L214.5,644.7L213.9,645.2L212.4,645.3L210.8,645.5L209.3,646.3L208.1,646.5L207.2,646.6L206.2,647.5L204.4,647.4L202.8,647.2L202.1,647.8L200.9,648.0L199.6,647.9L197.7,648.2L195.9,649.1L194.5,649.5L193.7,649.8L192.7,649.5L191.0,649.9L190.2,651.0L188.7,650.6L187.0,651.4L185.6,651.3L184.2,651.4L183.0,652.7L181.7,653.2L179.9,652.9L178.6,653.9L177.6,654.0L176.5,655.2L175.0,655.9L173.6,656.6L172.6,657.7L171.1,658.8L169.6,659.2L168.5,658.8L167.0,659.0L165.2,659.3L164.5,659.3L162.4,659.2L161.5,659.2L159.9,659.7L159.3,658.6L157.3,658.5L155.6,659.0L154.5,659.5L153.5,659.0L151.8,658.6L151.1,659.3L149.3,658.9L148.3,658.9L147.2,658.3L145.8,658.2L144.1,658.4ZM124.8,648.6L126.7,647.4L128.2,647.7L129.0,647.2L130.7,646.1L132.2,646.4L133.4,646.1L134.2,646.8L135.9,647.3L137.5,646.9L138.8,647.4L140.3,647.4L141.8,648.7L142.8,649.0L144.1,650.8L143.1,652.3L141.4,652.7L140.0,653.2L138.6,652.8L138.0,653.2L136.4,653.8L134.7,653.7L133.6,653.5L131.6,652.5L130.8,652.3L129.8,652.4L128.1,652.1L126.9,651.4L124.9,650.3L124.0,649.5ZM104.8,653.3L106.3,652.3L108.0,652.1L109.8,651.9L110.8,652.3L112.1,652.5L112.7,652.2L114.7,652.4L115.9,653.5L117.3,654.0L116.4,654.1L114.2,654.7L113.3,655.3L111.7,655.5L110.2,654.4L109.5,654.8L108.1,654.9L106.3,654.2L104.8,654.3L103.9,654.0ZM119.2,653.4L121.0,652.8L122.7,652.4L123.7,652.4L125.9,653.2L126.7,652.9L125.4,654.2L123.5,654.4L122.2,654.3L121.2,655.1L120.0,655.0ZM127.8,667.7L128.1,666.6L129.7,665.8L130.7,665.0L132.1,665.1L133.7,665.3L135.0,664.6L135.9,664.7L137.4,665.0L138.7,666.0L140.3,666.4L142.2,666.3L141.5,667.3L140.1,668.2L139.1,668.7L136.8,668.8L136.1,669.8L135.1,669.8L132.9,669.8L132.1,670.5L130.5,670.3L129.8,670.0L128.1,669.2ZM110.2,668.7L109.3,668.4L110.2,668.1L112.0,666.6L112.8,665.9L114.3,665.9L116.1,666.0L117.3,665.5L118.6,665.3L120.2,665.3L121.3,665.3L122.7,665.8L123.8,666.3L124.6,667.7L125.4,669.0L123.7,669.5L122.7,671.1L121.8,671.4L120.3,671.5L119.0,670.9L117.3,671.6L115.7,671.5L115.1,671.4L113.9,670.7L112.0,670.0ZM118.7,677.1L120.5,676.1L121.4,676.1L122.2,675.9L124.4,676.1L125.4,676.9L126.6,677.3L128.1,678.4L126.2,679.2L125.4,680.3L124.3,679.9L122.9,680.0L120.8,680.6L120.0,680.0L118.5,679.8L117.3,678.7ZM140.1,656.1L141.6,656.2L142.9,655.5L144.1,655.8L145.5,657.1L144.5,656.7L142.3,657.5L141.0,657.3L140.1,656.9ZM123.5,660.5L125.9,661.1L124.0,661.9ZM415.9,650.0L429.3,649.5L442.7,648.4L456.1,650.0L444.1,654.2L434.7,656.1L428.0,658.4L420.0,654.8L413.3,652.7ZM432.0,649.0L442.7,647.9L456.1,649.0L448.1,650.6L434.7,650.6ZM524.4,672.4L532.4,674.2L537.8,674.0L533.8,669.2L537.8,665.3L547.2,660.5L563.2,657.7L567.2,658.4L555.2,661.9L541.8,666.6L536.4,670.0L532.4,671.6L527.1,668.2L524.4,670.5ZM509.7,648.2L523.1,645.3L544.5,645.6L555.2,647.4L539.1,649.0L517.7,649.5ZM748.0,661.3L760.1,659.5L766.8,660.8L774.8,661.9L766.8,666.9L756.0,664.8Z" fill="none" stroke="#8cc4ec" stroke-width="0.90" stroke-linejoin="round"/><path d="M6.2,676.7L7.1,677.4L9.2,677.5L10.0,677.4L11.0,677.8L12.6,677.5L14.2,677.9L15.4,678.0L17.5,677.6L18.7,677.4L19.0,677.5L20.9,676.9L22.3,677.1L23.4,676.8L25.0,677.4L26.7,677.5L28.0,677.3L28.4,677.2L30.3,676.9L32.0,676.0L32.4,676.2L34.3,675.5L35.3,675.5L36.8,674.8L38.1,674.4L39.4,674.9L41.0,674.2L42.6,674.7L43.2,674.9L44.5,675.2L46.6,675.6L47.9,676.6L49.1,676.9L50.3,676.9L52.2,677.2L53.5,677.1L54.1,676.8L56.2,676.4L57.1,676.3L58.3,676.1L59.4,676.9L61.1,676.8L62.7,677.2L63.6,677.8L64.7,677.5L66.6,677.9L67.8,678.4L68.7,678.6L70.8,678.5L71.4,678.7L73.6,679.1L74.1,679.1L75.8,679.0L77.4,679.0L78.1,680.2L79.5,680.5L81.2,681.1L82.3,681.5L83.9,681.6L85.8,681.3L86.1,680.9L87.4,681.5L89.8,681.0L90.8,681.3L91.5,681.0L92.8,681.5L94.6,681.1L95.8,681.1L97.1,679.7L98.8,679.5L99.9,679.0L101.4,679.3L102.2,679.5L103.8,679.7L105.8,680.4L106.7,680.3L107.9,681.2L109.6,680.8L110.6,681.6L112.3,681.4L113.7,681.4L114.8,681.6L115.8,681.4L116.9,681.7L119.0,681.3L120.2,681.9L121.4,681.6L122.6,681.5L124.2,681.4L125.6,680.7L126.7,681.1L127.3,679.9L129.0,679.2L129.7,677.6L130.7,677.1L130.9,675.7L131.7,674.2L133.3,673.1L133.4,671.9L131.6,671.1L130.7,670.5L132.1,671.1L133.4,672.0L135.1,672.9L136.0,673.2L137.4,674.5L138.4,675.0L140.0,675.7L141.0,676.2L142.6,678.0L143.9,678.3L145.5,679.0L146.0,679.9L147.5,680.4L148.5,681.8L149.4,682.0L150.8,683.2L152.0,682.0L151.8,680.5L152.7,680.1L153.1,678.3L154.5,677.3L154.8,676.3L156.1,676.3L157.2,675.9L158.7,676.4L160.6,676.3L161.5,676.9L162.9,677.2L164.2,676.9L165.0,678.4L165.5,679.9L165.5,681.1L164.5,682.6L163.7,683.9L162.9,684.7L160.9,684.5L159.8,685.1L158.4,684.9L157.1,684.7L156.0,685.1L154.9,684.6L153.0,685.0L151.9,685.9L152.4,687.3L150.9,688.6L150.8,690.3M303.5,640.3L305.0,640.9L305.6,639.9L307.7,640.8L308.3,641.0L309.8,640.3L311.3,641.1L313.3,640.4L314.2,640.8L315.1,640.5L317.0,640.8L318.4,640.8L319.9,641.0L320.5,641.3L322.2,641.3L323.5,641.3L324.9,642.1L325.9,642.4L327.6,642.1L328.9,642.8L330.2,642.9L331.6,642.7L333.0,642.5L333.7,642.7L335.6,643.2L337.1,643.0L338.1,643.7L340.2,644.3L341.0,644.0L342.5,644.0L343.1,644.2L345.2,644.0L346.1,644.1L347.7,644.8L349.5,645.5L350.6,645.0L351.7,645.3L350.1,646.2L349.0,647.9L347.5,648.3L346.3,648.4L344.6,649.1L343.5,649.4L342.7,650.0L341.3,650.3L339.6,650.6M327.6,660.5L326.2,661.3L325.3,662.7L324.4,662.9L323.5,664.5L322.7,665.3L321.3,667.1L320.3,667.9L319.5,669.2L318.3,669.6L316.3,670.3L316.0,671.1L313.6,672.1L312.3,672.9L311.5,673.2L310.7,673.4L309.0,673.6L308.0,674.2L306.1,674.7M425.3,679.7L426.7,679.1L428.0,678.6L429.1,678.2L430.5,677.9L431.8,677.0L432.8,676.3L434.5,676.5L435.1,676.3L436.8,675.5L438.8,674.9L440.2,675.3L441.6,675.0L443.7,674.3L445.1,674.6L446.7,674.0L448.0,673.8L449.6,673.5L451.5,672.7L452.9,672.9L453.9,673.0L455.4,673.7L457.4,673.4L459.1,673.5L460.6,673.8L461.5,674.0L462.2,674.4L464.2,674.0L466.0,674.8L466.8,675.0" fill="none" stroke="#8cc4ec" stroke-width="1.30" stroke-linejoin="round" stroke-linecap="round"/></g><text x="30.3" y="653.1" font-size="10.00" text-anchor="end" fill="#111" font-weight="normal" font-family="Liberation Sans, sans-serif" >80°N</text><line x1="31.8" y1="649.5" x2="35.7" y2="649.5" stroke="#333" stroke-width="0.9"/><line x1="31.8" y1="675.8" x2="35.7" y2="675.8" stroke="#333" stroke-width="0.9"/><text x="30.3" y="705.7" font-size="10.00" text-anchor="end" fill="#111" font-weight="normal" font-family="Liberation Sans, sans-serif" >60°N</text><line x1="31.8" y1="702.1" x2="35.7" y2="702.1" stroke="#333" stroke-width="0.9"/><line x1="31.8" y1="728.4" x2="35.7" y2="728.4" stroke="#333" stroke-width="0.9"/><text x="30.3" y="758.3" font-size="10.00" text-anchor="end" fill="#111" font-weight="normal" font-family="Liberation Sans, sans-serif" >40°N</text><line x1="31.8" y1="754.7" x2="35.7" y2="754.7" stroke="#333" stroke-width="0.9"/><line x1="62.4" y1="769" x2="62.4" y2="772.5" stroke="#333" stroke-width="0.9"/><text x="62.4" y="780.8" font-size="10.00" text-anchor="middle" fill="#111" font-weight="normal" font-family="Liberation Sans, sans-serif" >120°W</text><line x1="223.1" y1="769" x2="223.1" y2="772.5" stroke="#333" stroke-width="0.9"/><text x="223.1" y="780.8" font-size="10.00" text-anchor="middle" fill="#111" font-weight="normal" font-family="Liberation Sans, sans-serif" >60°W</text><line x1="383.8" y1="769" x2="383.8" y2="772.5" stroke="#333" stroke-width="0.9"/><text x="383.8" y="780.8" font-size="10.00" text-anchor="middle" fill="#111" font-weight="normal" font-family="Liberation Sans, sans-serif" >0</text><line x1="351.7" y1="685.6" x2="345.1" y2="691.1" stroke="#111" stroke-width="0.9"/><line x1="395.5" y1="654.5" x2="416.3" y2="651.9" stroke="#111" stroke-width="0.9"/><line x1="410.9" y1="648.6" x2="414.2" y2="650.3" stroke="#111" stroke-width="0.9"/><line x1="412.0" y1="659.6" x2="424.0" y2="655.8" stroke="#111" stroke-width="0.9"/><line x1="419.6" y1="667.2" x2="424.0" y2="655.8" stroke="#111" stroke-width="0.9"/><line x1="424.0" y1="655.8" x2="437.1" y2="660.7" stroke="#111" stroke-width="0.9"/><line x1="435.0" y1="655.2" x2="447.0" y2="649.3" stroke="#111" stroke-width="0.9"/><line x1="416.3" y1="705.5" x2="427.3" y2="707.7" stroke="#111" stroke-width="0.9"/><line x1="416.3" y1="705.5" x2="417.6" y2="712.8" stroke="#111" stroke-width="0.9"/><circle cx="53.6" cy="733.1" r="8.0" fill="#d35f00"/><path d="M53.60,733.10L53.60,725.10A8.0,8.0 0 1 0 60.61,729.25Z" fill="#00a3a3" stroke="#111" stroke-width="0.8" stroke-linejoin="round"/><circle cx="53.6" cy="733.1" r="8.0" fill="none" stroke="#111" stroke-width="1.0"/><circle cx="245.7" cy="691.4" r="8.0" fill="#d35f00"/><path d="M245.65,691.35L245.65,683.35A8.0,8.0 0 0 0 240.95,684.88Z" fill="#00a3a3" stroke="#111" stroke-width="0.8" stroke-linejoin="round"/><circle cx="245.7" cy="691.4" r="8.0" fill="none" stroke="#111" stroke-width="1.0"/><circle cx="329.6" cy="664.5" r="8.0" fill="#d35f00"/><path d="M329.60,664.50L329.60,656.50A8.0,8.0 0 0 0 325.75,671.51Z" fill="#00a3a3" stroke="#111" stroke-width="0.8" stroke-linejoin="round"/><circle cx="329.6" cy="664.5" r="8.0" fill="none" stroke="#111" stroke-width="1.0"/><circle cx="358.5" cy="680.2" r="8.0" fill="#d35f00"/><path d="M358.50,680.20L358.50,672.20A8.0,8.0 0 0 0 353.80,686.67Z" fill="#00a3a3" stroke="#111" stroke-width="0.8" stroke-linejoin="round"/><circle cx="358.5" cy="680.2" r="8.0" fill="none" stroke="#111" stroke-width="1.0"/><circle cx="348.4" cy="699.1" r="8.0" fill="#d35f00"/><path d="M348.40,699.10L348.40,691.10A8.0,8.0 0 0 0 343.30,705.26Z" fill="#00a3a3" stroke="#111" stroke-width="0.8" stroke-linejoin="round"/><circle cx="348.4" cy="699.1" r="8.0" fill="none" stroke="#111" stroke-width="1.0"/><circle cx="369.7" cy="711.9" r="8.0" fill="#d35f00"/><path d="M369.70,711.90L369.70,703.90A8.0,8.0 0 1 0 377.56,713.40Z" fill="#00a3a3" stroke="#111" stroke-width="0.8" stroke-linejoin="round"/><circle cx="369.7" cy="711.9" r="8.0" fill="none" stroke="#111" stroke-width="1.0"/><circle cx="402.8" cy="644.9" r="8.0" fill="#d35f00"/><path d="M402.80,644.90L402.80,636.90A8.0,8.0 0 0 0 401.80,652.84Z" fill="#00a3a3" stroke="#111" stroke-width="0.8" stroke-linejoin="round"/><circle cx="402.8" cy="644.9" r="8.0" fill="none" stroke="#111" stroke-width="1.0"/><circle cx="387.9" cy="656.3" r="8.0" fill="#d35f00"/><path d="M387.90,656.30L387.90,648.30A8.0,8.0 0 0 0 380.15,654.31Z" fill="#00a3a3" stroke="#111" stroke-width="0.8" stroke-linejoin="round"/><circle cx="387.9" cy="656.3" r="8.0" fill="none" stroke="#111" stroke-width="1.0"/><circle cx="404.3" cy="662.4" r="8.0" fill="#d35f00"/><path d="M404.30,662.40L404.30,654.40A8.0,8.0 0 0 0 396.32,661.90Z" fill="#00a3a3" stroke="#111" stroke-width="0.8" stroke-linejoin="round"/><circle cx="404.3" cy="662.4" r="8.0" fill="none" stroke="#111" stroke-width="1.0"/><circle cx="415.2" cy="675.3" r="8.0" fill="#d35f00"/><path d="M415.20,675.30L415.20,667.30A8.0,8.0 0 0 0 407.59,677.77Z" fill="#00a3a3" stroke="#111" stroke-width="0.8" stroke-linejoin="round"/><circle cx="415.2" cy="675.3" r="8.0" fill="none" stroke="#111" stroke-width="1.0"/><circle cx="432.3" cy="676.6" r="8.0" fill="#d35f00"/><path d="M432.30,676.60L432.30,668.60A8.0,8.0 0 0 0 430.80,684.46Z" fill="#00a3a3" stroke="#111" stroke-width="0.8" stroke-linejoin="round"/><circle cx="432.3" cy="676.6" r="8.0" fill="none" stroke="#111" stroke-width="1.0"/><circle cx="444.8" cy="663.9" r="8.0" fill="#d35f00"/><path d="M444.80,663.90L444.80,655.90A8.0,8.0 0 0 0 436.82,663.40Z" fill="#00a3a3" stroke="#111" stroke-width="0.8" stroke-linejoin="round"/><circle cx="444.8" cy="663.9" r="8.0" fill="none" stroke="#111" stroke-width="1.0"/><circle cx="455.1" cy="646.4" r="8.0" fill="#d35f00"/><path d="M455.10,646.40L455.10,638.40A8.0,8.0 0 0 0 449.27,640.92Z" fill="#00a3a3" stroke="#111" stroke-width="0.8" stroke-linejoin="round"/><circle cx="455.1" cy="646.4" r="8.0" fill="none" stroke="#111" stroke-width="1.0"/><circle cx="421.2" cy="697.2" r="8.0" fill="#d35f00"/><path d="M421.20,697.20L421.20,689.20A8.0,8.0 0 0 0 413.34,695.70Z" fill="#00a3a3" stroke="#111" stroke-width="0.8" stroke-linejoin="round"/><circle cx="421.2" cy="697.2" r="8.0" fill="none" stroke="#111" stroke-width="1.0"/><circle cx="434.5" cy="709.9" r="8.0" fill="#d35f00"/><path d="M434.50,709.90L434.50,701.90A8.0,8.0 0 1 0 438.35,716.91Z" fill="#00a3a3" stroke="#111" stroke-width="0.8" stroke-linejoin="round"/><circle cx="434.5" cy="709.9" r="8.0" fill="none" stroke="#111" stroke-width="1.0"/><circle cx="420.1" cy="720.2" r="8.0" fill="#d35f00"/><path d="M420.10,720.20L420.10,712.20A8.0,8.0 0 0 0 412.10,720.20Z" fill="#00a3a3" stroke="#111" stroke-width="0.8" stroke-linejoin="round"/><circle cx="420.1" cy="720.2" r="8.0" fill="none" stroke="#111" stroke-width="1.0"/><text x="56.7" y="729.2" font-size="11.00" text-anchor="start" fill="#111" font-weight="normal" font-family="Liberation Sans, sans-serif" >**</text><text x="375.9" y="709.3" font-size="11.00" text-anchor="start" fill="#111" font-weight="normal" font-family="Liberation Sans, sans-serif" >*</text><text x="426.7" y="695.1" font-size="11.00" text-anchor="start" fill="#111" font-weight="normal" font-family="Liberation Sans, sans-serif" >*</text><text x="438.3" y="707.6" font-size="11.00" text-anchor="start" fill="#111" font-weight="normal" font-family="Liberation Sans, sans-serif" >**</text><rect x="262.3" y="717.7" width="20.2" height="10" fill="#d35f00" stroke="#222" stroke-width="0.7"/><rect x="262.3" y="730.2" width="20.2" height="10" fill="#00a3a3" stroke="#222" stroke-width="0.7"/><text x="287.2" y="725.9" font-size="8.90" text-anchor="start" fill="#111" font-weight="normal" font-family="Liberation Sans, sans-serif" >N Burial</text><text x="287.2" y="738.4" font-size="8.9" fill="#1a1a1a" font-family="Liberation Sans, sans-serif">N<tspan font-size="6.2" dy="1.5">2</tspan><tspan dy="-1.5"> production</tspan></text><line x1="537.4" y1="604.9" x2="537.4" y2="800.2" stroke="#333" stroke-width="1"/><line x1="536.9" y1="799.7" x2="667" y2="799.7" stroke="#333" stroke-width="1"/><line x1="533.6" y1="613.6" x2="537.4" y2="613.6" stroke="#333" stroke-width="0.9"/><text x="532.8" y="617.2" font-size="10.00" text-anchor="end" fill="#111" font-weight="normal" font-family="Liberation Sans, sans-serif" >30.0</text><line x1="533.6" y1="647.8" x2="537.4" y2="647.8" stroke="#333" stroke-width="0.9"/><text x="532.8" y="651.4" font-size="10.00" text-anchor="end" fill="#111" font-weight="normal" font-family="Liberation Sans, sans-serif" >10.0</text><line x1="533.6" y1="685.2" x2="537.4" y2="685.2" stroke="#333" stroke-width="0.9"/><text x="532.8" y="688.8" font-size="10.00" text-anchor="end" fill="#111" font-weight="normal" font-family="Liberation Sans, sans-serif" >3.0</text><line x1="533.6" y1="719.4" x2="537.4" y2="719.4" stroke="#333" stroke-width="0.9"/><text x="532.8" y="723.0" font-size="10.00" text-anchor="end" fill="#111" font-weight="normal" font-family="Liberation Sans, sans-serif" >1.0</text><line x1="533.6" y1="756.8" x2="537.4" y2="756.8" stroke="#333" stroke-width="0.9"/><text x="532.8" y="760.4" font-size="10.00" text-anchor="end" fill="#111" font-weight="normal" font-family="Liberation Sans, sans-serif" >0.3</text><line x1="533.6" y1="791.0" x2="537.4" y2="791.0" stroke="#333" stroke-width="0.9"/><text x="532.8" y="794.6" font-size="10.00" text-anchor="end" fill="#111" font-weight="normal" font-family="Liberation Sans, sans-serif" >0.1</text><line x1="537.9" y1="791.0" x2="544.9" y2="791.0" stroke="#bdbdbd" stroke-width="0.8"/><line x1="537.9" y1="769.4" x2="540.7" y2="769.4" stroke="#bdbdbd" stroke-width="0.8"/><line x1="537.9" y1="756.8" x2="540.7" y2="756.8" stroke="#bdbdbd" stroke-width="0.8"/><line x1="537.9" y1="747.9" x2="540.7" y2="747.9" stroke="#bdbdbd" stroke-width="0.8"/><line x1="537.9" y1="741.0" x2="542.9" y2="741.0" stroke="#bdbdbd" stroke-width="0.8"/><line x1="537.9" y1="735.3" x2="540.7" y2="735.3" stroke="#bdbdbd" stroke-width="0.8"/><line x1="537.9" y1="730.5" x2="540.7" y2="730.5" stroke="#bdbdbd" stroke-width="0.8"/><line x1="537.9" y1="726.3" x2="540.7" y2="726.3" stroke="#bdbdbd" stroke-width="0.8"/><line x1="537.9" y1="722.7" x2="540.7" y2="722.7" stroke="#bdbdbd" stroke-width="0.8"/><line x1="537.9" y1="719.4" x2="544.9" y2="719.4" stroke="#bdbdbd" stroke-width="0.8"/><line x1="537.9" y1="697.8" x2="540.7" y2="697.8" stroke="#bdbdbd" stroke-width="0.8"/><line x1="537.9" y1="685.2" x2="540.7" y2="685.2" stroke="#bdbdbd" stroke-width="0.8"/><line x1="537.9" y1="676.3" x2="540.7" y2="676.3" stroke="#bdbdbd" stroke-width="0.8"/><line x1="537.9" y1="669.4" x2="542.9" y2="669.4" stroke="#bdbdbd" stroke-width="0.8"/><line x1="537.9" y1="663.7" x2="540.7" y2="663.7" stroke="#bdbdbd" stroke-width="0.8"/><line x1="537.9" y1="658.9" x2="540.7" y2="658.9" stroke="#bdbdbd" stroke-width="0.8"/><line x1="537.9" y1="654.7" x2="540.7" y2="654.7" stroke="#bdbdbd" stroke-width="0.8"/><line x1="537.9" y1="651.1" x2="540.7" y2="651.1" stroke="#bdbdbd" stroke-width="0.8"/><line x1="537.9" y1="647.8" x2="544.9" y2="647.8" stroke="#bdbdbd" stroke-width="0.8"/><line x1="537.9" y1="626.2" x2="540.7" y2="626.2" stroke="#bdbdbd" stroke-width="0.8"/><line x1="537.9" y1="613.6" x2="540.7" y2="613.6" stroke="#bdbdbd" stroke-width="0.8"/><line x1="572.5" y1="800.2" x2="572.5" y2="803.5" stroke="#333" stroke-width="0.9"/><line x1="631.9" y1="800.2" x2="631.9" y2="803.5" stroke="#333" stroke-width="0.9"/><text x="572.5" y="811.5" font-size="10" text-anchor="middle" fill="#1a1a1a" font-family="Liberation Sans, sans-serif">N<tspan font-size="7.5" dy="1.8">AR</tspan></text><text x="631.9" y="811.5" font-size="10" text-anchor="middle" fill="#1a1a1a" font-family="Liberation Sans, sans-serif">N<tspan font-size="7.5" dy="1.8">2</tspan></text><text font-size="11.75" fill="#111" font-family="Liberation Sans, sans-serif" transform="translate(505.3,702.4) rotate(-90)" text-anchor="middle">Rates (g N m<tspan font-size="8.4" dy="-4.6" dx="0.6">−2</tspan><tspan dy="4.6"> yr</tspan><tspan font-size="8.4" dy="-4.6" dx="0.6">−1</tspan><tspan dy="4.6">)</tspan></text><line x1="572.5" y1="654.7" x2="572.5" y2="729" stroke="#333" stroke-width="1"/><line x1="631.9" y1="689.5" x2="631.9" y2="722" stroke="#333" stroke-width="1"/><rect x="557.7" y="673.3" width="30" height="25.2" fill="#d35f00" stroke="#333" stroke-width="1"/><line x1="557.7" y1="676.4" x2="587.7" y2="676.4" stroke="#333" stroke-width="2"/><rect x="617.1" y="693.2" width="29.7" height="25.1" fill="#00a3a3" stroke="#333" stroke-width="1"/><line x1="617.1" y1="703.4" x2="646.8" y2="703.4" stroke="#333" stroke-width="2"/><circle cx="581.3" cy="667.2" r="2.1" fill="#e3701a" fill-opacity="0.4" stroke="#7a3300" stroke-opacity="0.5" stroke-width="0.6"/><circle cx="567.3" cy="682.5" r="2.1" fill="#e3701a" fill-opacity="0.4" stroke="#7a3300" stroke-opacity="0.5" stroke-width="0.6"/><circle cx="580.5" cy="682.5" r="2.1" fill="#e3701a" fill-opacity="0.4" stroke="#7a3300" stroke-opacity="0.5" stroke-width="0.6"/><circle cx="578.1" cy="674.1" r="2.1" fill="#e3701a" fill-opacity="0.4" stroke="#7a3300" stroke-opacity="0.5" stroke-width="0.6"/><circle cx="576.2" cy="677.7" r="2.1" fill="#e3701a" fill-opacity="0.4" stroke="#7a3300" stroke-opacity="0.5" stroke-width="0.6"/><circle cx="570.9" cy="675.3" r="2.1" fill="#e3701a" fill-opacity="0.4" stroke="#7a3300" stroke-opacity="0.5" stroke-width="0.6"/><circle cx="577.6" cy="697.3" r="2.1" fill="#e3701a" fill-opacity="0.4" stroke="#7a3300" stroke-opacity="0.5" stroke-width="0.6"/><circle cx="579.7" cy="701.0" r="2.1" fill="#e3701a" fill-opacity="0.4" stroke="#7a3300" stroke-opacity="0.5" stroke-width="0.6"/><circle cx="566.9" cy="710.6" r="2.1" fill="#e3701a" fill-opacity="0.4" stroke="#7a3300" stroke-opacity="0.5" stroke-width="0.6"/><circle cx="574.9" cy="729.5" r="2.1" fill="#e3701a" fill-opacity="0.4" stroke="#7a3300" stroke-opacity="0.5" stroke-width="0.6"/><circle cx="565.1" cy="656.3" r="2.1" fill="#e3701a" fill-opacity="0.4" stroke="#7a3300" stroke-opacity="0.5" stroke-width="0.6"/><circle cx="580.8" cy="654.4" r="2.1" fill="#e3701a" fill-opacity="0.4" stroke="#7a3300" stroke-opacity="0.5" stroke-width="0.6"/><circle cx="577.0" cy="736.0" r="2.1" fill="#e3701a" fill-opacity="0.4" stroke="#7a3300" stroke-opacity="0.5" stroke-width="0.6"/><circle cx="627.6" cy="688.9" r="2.1" fill="#10a8a8" fill-opacity="0.4" stroke="#005a5a" stroke-opacity="0.5" stroke-width="0.6"/><circle cx="628.2" cy="695.0" r="2.1" fill="#10a8a8" fill-opacity="0.4" stroke="#005a5a" stroke-opacity="0.5" stroke-width="0.6"/><circle cx="632.7" cy="692.1" r="2.1" fill="#10a8a8" fill-opacity="0.4" stroke="#005a5a" stroke-opacity="0.5" stroke-width="0.6"/><circle cx="636.2" cy="692.9" r="2.1" fill="#10a8a8" fill-opacity="0.4" stroke="#005a5a" stroke-opacity="0.5" stroke-width="0.6"/><circle cx="638.0" cy="696.1" r="2.1" fill="#10a8a8" fill-opacity="0.4" stroke="#005a5a" stroke-opacity="0.5" stroke-width="0.6"/><circle cx="626.3" cy="701.0" r="2.1" fill="#10a8a8" fill-opacity="0.4" stroke="#005a5a" stroke-opacity="0.5" stroke-width="0.6"/><circle cx="624.2" cy="706.6" r="2.1" fill="#10a8a8" fill-opacity="0.4" stroke="#005a5a" stroke-opacity="0.5" stroke-width="0.6"/><circle cx="627.9" cy="706.9" r="2.1" fill="#10a8a8" fill-opacity="0.4" stroke="#005a5a" stroke-opacity="0.5" stroke-width="0.6"/><circle cx="638.0" cy="707.4" r="2.1" fill="#10a8a8" fill-opacity="0.4" stroke="#005a5a" stroke-opacity="0.5" stroke-width="0.6"/><circle cx="623.6" cy="717.0" r="2.1" fill="#10a8a8" fill-opacity="0.4" stroke="#005a5a" stroke-opacity="0.5" stroke-width="0.6"/><circle cx="629.5" cy="721.8" r="2.1" fill="#10a8a8" fill-opacity="0.4" stroke="#005a5a" stroke-opacity="0.5" stroke-width="0.6"/><circle cx="636.4" cy="720.7" r="2.1" fill="#10a8a8" fill-opacity="0.4" stroke="#005a5a" stroke-opacity="0.5" stroke-width="0.6"/><circle cx="640.7" cy="721.8" r="2.1" fill="#10a8a8" fill-opacity="0.4" stroke="#005a5a" stroke-opacity="0.5" stroke-width="0.6"/><circle cx="632.6" cy="624.9" r="2.1" fill="#10a8a8" fill-opacity="0.4" stroke="#005a5a" stroke-opacity="0.5" stroke-width="0.6"/><circle cx="626.9" cy="646.9" r="2.1" fill="#10a8a8" fill-opacity="0.4" stroke="#005a5a" stroke-opacity="0.5" stroke-width="0.6"/><circle cx="628.8" cy="768.6" r="2.1" fill="#10a8a8" fill-opacity="0.4" stroke="#005a5a" stroke-opacity="0.5" stroke-width="0.6"/></svg></body></html>
